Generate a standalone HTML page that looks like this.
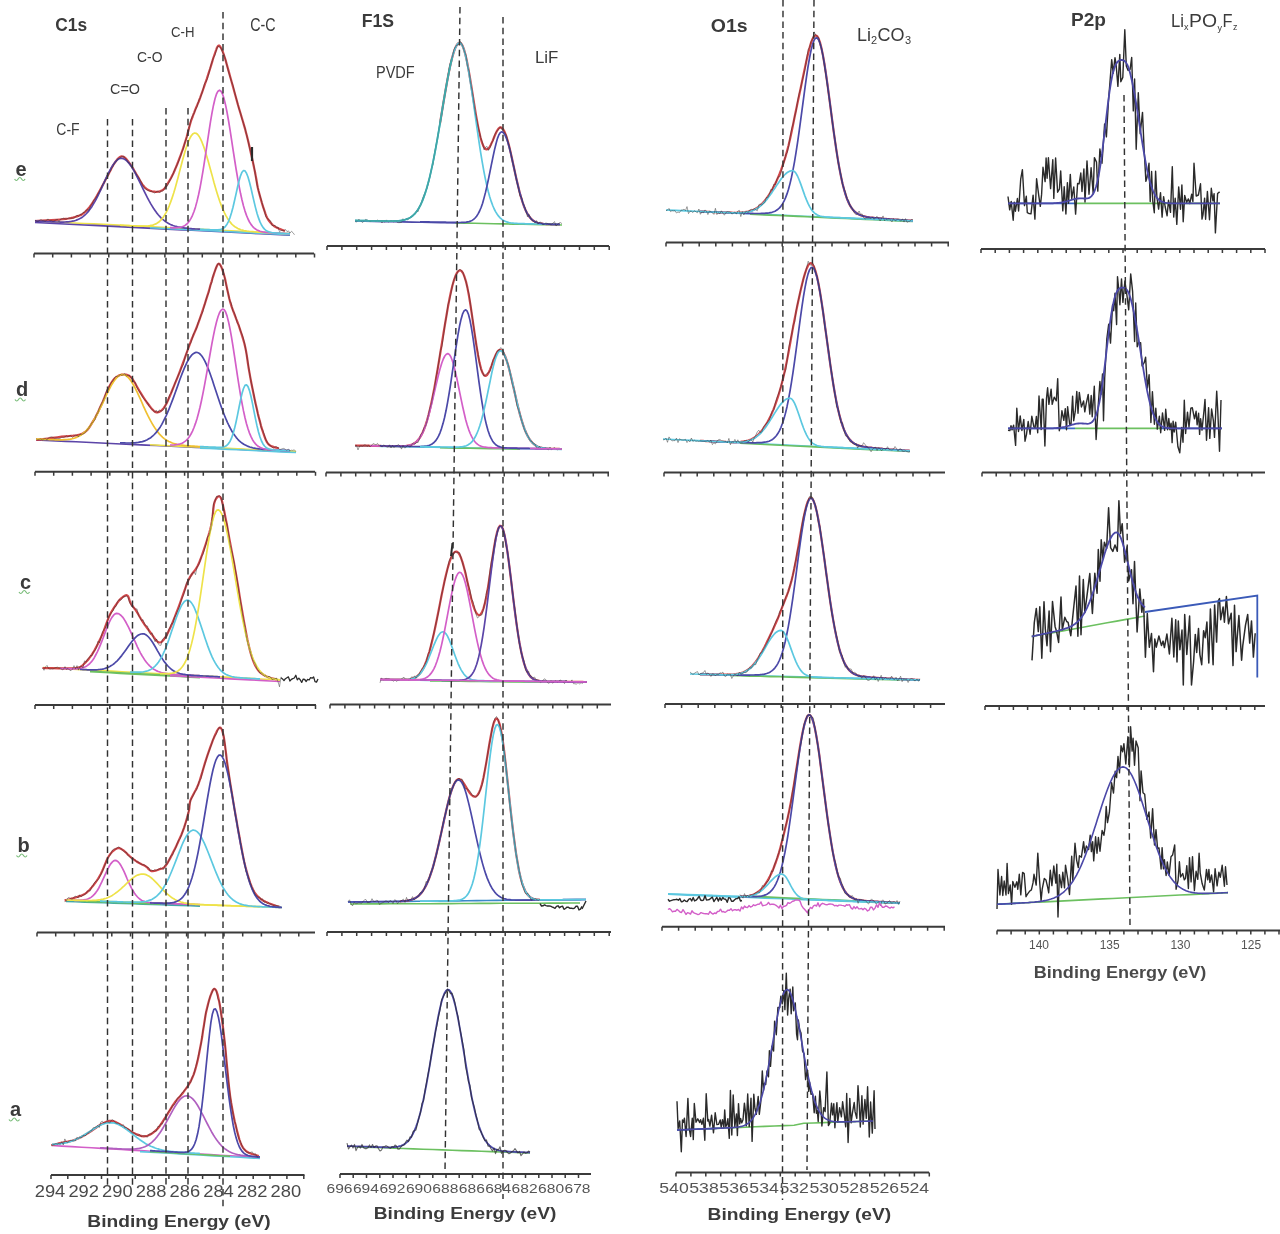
<!DOCTYPE html>
<html><head><meta charset="utf-8"><title>XPS spectra</title>
<style>html,body{margin:0;padding:0;background:#fff;width:1280px;height:1234px;overflow:hidden}
svg{display:block;font-family:"Liberation Sans",sans-serif}</style></head>
<body><svg width="1280" height="1234" viewBox="0 0 1280 1234">
<defs><filter id="soft" x="0" y="0" width="100%" height="100%"><feGaussianBlur stdDeviation="0.55"/></filter></defs>
<rect width="1280" height="1234" fill="#ffffff"/>
<g filter="url(#soft)">
<rect width="1280" height="1234" fill="#ffffff"/>
<line x1="34" y1="253.6" x2="314" y2="253.6" stroke="#3a3a3a" stroke-width="2.0"/>
<path d="M34 253.6v4M52.7 253.6v4M71.4 253.6v4M90.1 253.6v4M108.8 253.6v4M127.5 253.6v4M146.2 253.6v4M164.9 253.6v4M183.6 253.6v4M202.3 253.6v4M221 253.6v4M239.7 253.6v4M258.4 253.6v4M277.1 253.6v4M295.8 253.6v4M314.5 253.6v4" stroke="#3a3a3a" stroke-width="1.5" fill="none"/>
<line x1="35" y1="471.8" x2="315" y2="471.8" stroke="#3a3a3a" stroke-width="2.0"/>
<path d="M35 471.8v4M53.7 471.8v4M72.4 471.8v4M91.1 471.8v4M109.8 471.8v4M128.5 471.8v4M147.2 471.8v4M165.9 471.8v4M184.6 471.8v4M203.3 471.8v4M222 471.8v4M240.7 471.8v4M259.4 471.8v4M278.1 471.8v4M296.8 471.8v4M315.5 471.8v4" stroke="#3a3a3a" stroke-width="1.5" fill="none"/>
<line x1="35" y1="705" x2="316" y2="705" stroke="#3a3a3a" stroke-width="2.0"/>
<path d="M35 705v4M53.7 705v4M72.4 705v4M91.1 705v4M109.8 705v4M128.5 705v4M147.2 705v4M165.9 705v4M184.6 705v4M203.3 705v4M222 705v4M240.7 705v4M259.4 705v4M278.1 705v4M296.8 705v4M315.5 705v4" stroke="#3a3a3a" stroke-width="1.5" fill="none"/>
<line x1="37" y1="932.5" x2="315" y2="932.5" stroke="#3a3a3a" stroke-width="2.0"/>
<path d="M37 932.5v4M55.7 932.5v4M74.4 932.5v4M93.1 932.5v4M111.8 932.5v4M130.5 932.5v4M149.2 932.5v4M167.9 932.5v4M186.6 932.5v4M205.3 932.5v4M224 932.5v4M242.7 932.5v4M261.4 932.5v4M280.1 932.5v4M298.8 932.5v4" stroke="#3a3a3a" stroke-width="1.5" fill="none"/>
<line x1="51" y1="1175" x2="304.5" y2="1175" stroke="#3a3a3a" stroke-width="2.0"/>
<path d="M51 1175v4M67.8 1175v4M84.7 1175v4M101.5 1175v4M118.4 1175v4M135.2 1175v4M152.1 1175v4M168.9 1175v4M185.8 1175v4M202.6 1175v4M219.5 1175v4M236.3 1175v4M253.2 1175v4M270 1175v4M286.9 1175v4M303.8 1175v4" stroke="#3a3a3a" stroke-width="1.5" fill="none"/>
<line x1="327" y1="246" x2="609" y2="246" stroke="#3a3a3a" stroke-width="2.0"/>
<path d="M327 246v4M341.9 246v4M356.7 246v4M371.6 246v4M386.4 246v4M401.3 246v4M416.1 246v4M431 246v4M445.8 246v4M460.7 246v4M475.5 246v4M490.4 246v4M505.2 246v4M520.1 246v4M534.9 246v4M549.8 246v4M564.6 246v4M579.5 246v4M594.3 246v4M609.2 246v4" stroke="#3a3a3a" stroke-width="1.5" fill="none"/>
<line x1="326" y1="472.5" x2="609" y2="472.5" stroke="#3a3a3a" stroke-width="2.0"/>
<path d="M326 472.5v4M340.9 472.5v4M355.7 472.5v4M370.6 472.5v4M385.4 472.5v4M400.3 472.5v4M415.1 472.5v4M430 472.5v4M444.8 472.5v4M459.7 472.5v4M474.5 472.5v4M489.4 472.5v4M504.2 472.5v4M519.1 472.5v4M533.9 472.5v4M548.8 472.5v4M563.6 472.5v4M578.5 472.5v4M593.3 472.5v4M608.2 472.5v4" stroke="#3a3a3a" stroke-width="1.5" fill="none"/>
<line x1="330" y1="704.5" x2="611" y2="704.5" stroke="#3a3a3a" stroke-width="2.0"/>
<path d="M330 704.5v4M344.9 704.5v4M359.7 704.5v4M374.6 704.5v4M389.4 704.5v4M404.3 704.5v4M419.1 704.5v4M434 704.5v4M448.8 704.5v4M463.7 704.5v4M478.5 704.5v4M493.4 704.5v4M508.2 704.5v4M523.1 704.5v4M537.9 704.5v4M552.8 704.5v4M567.6 704.5v4M582.5 704.5v4M597.3 704.5v4" stroke="#3a3a3a" stroke-width="1.5" fill="none"/>
<line x1="327" y1="932" x2="611" y2="932" stroke="#3a3a3a" stroke-width="2.0"/>
<path d="M327 932v4M341.9 932v4M356.7 932v4M371.6 932v4M386.4 932v4M401.3 932v4M416.1 932v4M431 932v4M445.8 932v4M460.7 932v4M475.5 932v4M490.4 932v4M505.2 932v4M520.1 932v4M534.9 932v4M549.8 932v4M564.6 932v4M579.5 932v4M594.3 932v4M609.2 932v4" stroke="#3a3a3a" stroke-width="1.5" fill="none"/>
<line x1="340" y1="1174" x2="591" y2="1174" stroke="#3a3a3a" stroke-width="2.0"/>
<path d="M340 1174v4M353.2 1174v4M366.5 1174v4M379.8 1174v4M393 1174v4M406.2 1174v4M419.5 1174v4M432.8 1174v4M446 1174v4M459.2 1174v4M472.5 1174v4M485.8 1174v4M499 1174v4M512.2 1174v4M525.5 1174v4M538.8 1174v4M552 1174v4M565.2 1174v4M578.5 1174v4" stroke="#3a3a3a" stroke-width="1.5" fill="none"/>
<line x1="666" y1="242.5" x2="949" y2="242.5" stroke="#3a3a3a" stroke-width="2.0"/>
<path d="M666 242.5v4M682.6 242.5v4M699.2 242.5v4M715.8 242.5v4M732.4 242.5v4M749 242.5v4M765.6 242.5v4M782.2 242.5v4M798.8 242.5v4M815.4 242.5v4M832 242.5v4M848.6 242.5v4M865.2 242.5v4M881.8 242.5v4M898.4 242.5v4M915 242.5v4M931.6 242.5v4M948.2 242.5v4" stroke="#3a3a3a" stroke-width="1.5" fill="none"/>
<line x1="664" y1="472.5" x2="945" y2="472.5" stroke="#3a3a3a" stroke-width="2.0"/>
<path d="M664 472.5v4M680.6 472.5v4M697.2 472.5v4M713.8 472.5v4M730.4 472.5v4M747 472.5v4M763.6 472.5v4M780.2 472.5v4M796.8 472.5v4M813.4 472.5v4M830 472.5v4M846.6 472.5v4M863.2 472.5v4M879.8 472.5v4M896.4 472.5v4M913 472.5v4M929.6 472.5v4" stroke="#3a3a3a" stroke-width="1.5" fill="none"/>
<line x1="665" y1="704" x2="945" y2="704" stroke="#3a3a3a" stroke-width="2.0"/>
<path d="M665 704v4M681.6 704v4M698.2 704v4M714.8 704v4M731.4 704v4M748 704v4M764.6 704v4M781.2 704v4M797.8 704v4M814.4 704v4M831 704v4M847.6 704v4M864.2 704v4M880.8 704v4M897.4 704v4M914 704v4M930.6 704v4" stroke="#3a3a3a" stroke-width="1.5" fill="none"/>
<line x1="662" y1="926.8" x2="945" y2="926.8" stroke="#3a3a3a" stroke-width="2.0"/>
<path d="M662 926.8v4M678.6 926.8v4M695.2 926.8v4M711.8 926.8v4M728.4 926.8v4M745 926.8v4M761.6 926.8v4M778.2 926.8v4M794.8 926.8v4M811.4 926.8v4M828 926.8v4M844.6 926.8v4M861.2 926.8v4M877.8 926.8v4M894.4 926.8v4M911 926.8v4M927.6 926.8v4M944.2 926.8v4" stroke="#3a3a3a" stroke-width="1.5" fill="none"/>
<line x1="676" y1="1172.5" x2="929" y2="1172.5" stroke="#3a3a3a" stroke-width="2.0"/>
<path d="M676 1172.5v4M690.9 1172.5v4M705.8 1172.5v4M720.7 1172.5v4M735.6 1172.5v4M750.5 1172.5v4M765.4 1172.5v4M780.3 1172.5v4M795.2 1172.5v4M810.1 1172.5v4M825 1172.5v4M839.9 1172.5v4M854.8 1172.5v4M869.7 1172.5v4M884.6 1172.5v4M899.5 1172.5v4M914.4 1172.5v4M929.3 1172.5v4" stroke="#3a3a3a" stroke-width="1.5" fill="none"/>
<line x1="981" y1="249" x2="1265" y2="249" stroke="#3a3a3a" stroke-width="2.0"/>
<path d="M981 249v4M995.2 249v4M1009.4 249v4M1023.6 249v4M1037.8 249v4M1052 249v4M1066.2 249v4M1080.4 249v4M1094.6 249v4M1108.8 249v4M1123 249v4M1137.2 249v4M1151.4 249v4M1165.6 249v4M1179.8 249v4M1194 249v4M1208.2 249v4M1222.4 249v4M1236.6 249v4M1250.8 249v4M1265 249v4" stroke="#3a3a3a" stroke-width="1.5" fill="none"/>
<line x1="982" y1="472.5" x2="1265" y2="472.5" stroke="#3a3a3a" stroke-width="2.0"/>
<path d="M982 472.5v4M996.2 472.5v4M1010.4 472.5v4M1024.6 472.5v4M1038.8 472.5v4M1053 472.5v4M1067.2 472.5v4M1081.4 472.5v4M1095.6 472.5v4M1109.8 472.5v4M1124 472.5v4M1138.2 472.5v4M1152.4 472.5v4M1166.6 472.5v4M1180.8 472.5v4M1195 472.5v4M1209.2 472.5v4M1223.4 472.5v4M1237.6 472.5v4M1251.8 472.5v4" stroke="#3a3a3a" stroke-width="1.5" fill="none"/>
<line x1="985" y1="706" x2="1265" y2="706" stroke="#3a3a3a" stroke-width="2.0"/>
<path d="M985 706v4M999.2 706v4M1013.4 706v4M1027.6 706v4M1041.8 706v4M1056 706v4M1070.2 706v4M1084.4 706v4M1098.6 706v4M1112.8 706v4M1127 706v4M1141.2 706v4M1155.4 706v4M1169.6 706v4M1183.8 706v4M1198 706v4M1212.2 706v4M1226.4 706v4M1240.6 706v4M1254.8 706v4" stroke="#3a3a3a" stroke-width="1.5" fill="none"/>
<line x1="997" y1="930.5" x2="1280" y2="930.5" stroke="#3a3a3a" stroke-width="2.0"/>
<path d="M997 930.5v4M1011.1 930.5v4M1025.2 930.5v4M1039.3 930.5v4M1053.4 930.5v4M1067.5 930.5v4M1081.6 930.5v4M1095.7 930.5v4M1109.8 930.5v4M1123.9 930.5v4M1138 930.5v4M1152.1 930.5v4M1166.2 930.5v4M1180.3 930.5v4M1194.4 930.5v4M1208.5 930.5v4M1222.6 930.5v4M1236.7 930.5v4M1250.8 930.5v4M1264.9 930.5v4M1279 930.5v4" stroke="#3a3a3a" stroke-width="1.5" fill="none"/>
<polyline points="35,221 44.8,221.5 54.6,222 64.4,222.5 74.2,223 84,223.5 93.8,223.9 103.7,224.4 113.5,224.9 123.3,225.4 133.1,225.9 142.9,226.4 152.7,226.9 162.5,227.4 172.3,227.9 182.1,228.4 191.9,228.8 201.7,229.3 211.5,229.8 221.3,230.3 231.2,230.8 241,231.3 250.8,231.8 260.6,232.3 270.4,232.8 280.2,233.3 290,233.8" fill="none" stroke="#eee24a" stroke-width="1.6" stroke-linejoin="round"/>
<polyline points="35,222.5 44.8,223 54.6,223.5 64.4,224 74.2,224.5 84,225 93.8,225.4 103.7,225.9 113.5,226.4 123.3,226.9 133.1,227.4 142.9,227.9 152.7,228.4 162.5,228.9 172.3,229.4 182.1,229.9 191.9,230.3 201.7,230.8 211.5,231.3 221.3,231.8 231.2,232.3 241,232.8 250.8,233.3 260.6,233.8 270.4,234.3 280.2,234.8 290,235.2" fill="none" stroke="#5b45a8" stroke-width="1.6" stroke-linejoin="round"/>
<polyline points="150,227.8 160,228.2 170,228.8 180,229.2 190,229.8 200,230.2 210,230.8 220,231.2 230,231.8 240,232.2 250,232.8 260,233.2 270,233.8 280,234.2 290,234.8" fill="none" stroke="#5cc8e0" stroke-width="1.6" stroke-linejoin="round"/>
<polyline points="35,221 37.8,220.8 41.9,220.6 46.6,220.4 51.5,220.1 56.1,219.8 60,219.5 63.1,219.2 65.9,218.8 68.4,218.5 70.7,218.1 72.9,217.6 75,217 77,216.4 78.7,215.8 80.3,215.2 81.9,214.4 83.4,213.3 85,212 86.6,210.4 88.3,208.6 89.9,206.6 91.5,204.3 93.2,201.8 95,199 96.9,195.8 99,192 101.2,188 103.3,184 105.3,180.2 107,177 108.5,174.2 109.7,171.8 110.9,169.6 111.9,167.6 112.9,165.7 114,164 115.1,162.4 116.1,160.9 117.1,159.6 118.1,158.5 119.1,157.6 120,157 120.9,156.6 121.7,156.4 122.6,156.5 123.4,156.7 124.3,157.2 125.3,158 126.4,159.1 127.6,160.6 128.9,162.4 130.2,164.2 131.4,166 132.5,167.7 133.5,169.2 134.4,170.7 135.3,172.2 136.1,173.7 136.9,175.1 137.8,176.6 138.7,178.1 139.6,179.8 140.5,181.4 141.4,182.9 142.3,184.4 143.2,185.6 144.1,186.6 144.9,187.5 145.7,188.2 146.6,188.9 147.5,189.5 148.5,190 149.6,190.5 150.7,190.9 151.9,191.3 153.2,191.6 154.4,191.7 155.6,191.8 156.8,191.8 158.1,191.7 159.3,191.5 160.5,191.1 161.7,190.6 162.8,190 163.8,189.2 164.7,188.2 165.5,187 166.3,185.7 167.1,184.4 168,183 168.9,181.6 169.8,180.2 170.6,178.7 171.5,177 172.5,175.1 173.5,173 174.6,170.5 175.8,167.6 177.1,164.5 178.3,161.4 179.5,158.2 180.6,155.3 181.6,152.5 182.6,149.8 183.5,147.2 184.3,144.5 185.2,141.9 186,139.2 186.8,136.5 187.5,133.7 188.3,130.9 189,128.1 189.7,125.5 190.4,123 191.1,120.7 191.9,118.6 192.7,116.5 193.4,114.5 194.2,112.6 194.9,110.7 195.6,108.9 196.3,107.2 197,105.6 197.7,103.9 198.5,102.1 199.3,100 200.2,97.6 201.1,95 202.1,92.3 203.1,89.5 204.1,86.7 205,84 205.9,81.4 206.8,78.9 207.6,76.3 208.4,73.8 209.2,71.4 210,69 210.7,66.7 211.4,64.4 212.1,62.2 212.7,60 213.3,58 214,56 214.7,54 215.4,52 216.1,50.1 216.7,48.3 217.4,46.9 218,46 218.6,45.6 219.1,45.5 219.5,45.8 220,46.4 220.5,47.1 221,48 221.5,48.9 222,49.9 222.6,51.1 223.1,52.6 223.8,54.6 224.6,57 225.6,60.1 226.6,63.9 227.8,68.1 229,72.4 230.2,76.8 231.4,81 232.5,85 233.6,89 234.7,93 235.8,97 236.9,101 238,105 239.2,109 240.4,113 241.6,117 242.8,121 243.9,124.9 245,128.6 245.9,132.2 246.8,135.5 247.6,138.8 248.4,142.1 249.2,145.5 250,149 250.8,152.7 251.7,156.6 252.6,160.6 253.4,164.5 254.2,168.4 255,172 255.6,175.4 256.2,178.5 256.7,181.5 257.2,184.5 257.8,187.7 258.6,191 259.6,194.7 260.7,198.8 261.9,203 263.2,207.1 264.4,210.7 265.4,213.7 266.3,216 267.1,217.7 267.8,219 268.5,220 269.2,221 270,222 270.8,223 271.7,223.9 272.5,224.8 273.4,225.5 274.4,226.3 275.6,227 277.1,227.8 278.8,228.6 280.7,229.3 282.4,230 283.9,230.6 285,231" fill="none" stroke="#d03c40" stroke-width="2.2" stroke-opacity="0.95" stroke-linejoin="round"/>
<polyline points="35,221 36.5,221.1 38,221.1 39.5,221.2 41,221.3 42.5,221.4 44,221.4 45.5,221.5 47,221.6 48.5,221.7 50,221.7 51.5,221.8 53,221.9 54.5,221.9 56,222 57.5,222 59,222 60.5,222.1 62,222.1 63.5,222.1 65,222 66.5,221.9 68,221.8 69.5,221.7 71,221.5 72.5,221.2 74,220.9 75.5,220.5 77,219.9 78.5,219.3 80,218.6 81.5,217.7 83,216.6 84.5,215.4 86,214 87.5,212.4 89,210.6 90.5,208.6 92,206.4 93.5,203.9 95,201.3 96.5,198.5 98,195.6 99.5,192.5 101,189.3 102.5,186 104,182.7 105.5,179.4 107,176.2 108.5,173.1 110,170.1 111.5,167.4 113,165 114.5,162.9 116,161.1 117.5,159.8 119,158.8 120.5,158.4 122,158.4 123.5,158.8 125,159.5 126.5,160.6 128,162.1 129.5,163.9 131,165.9 132.5,168.3 134,170.8 135.5,173.6 137,176.5 138.5,179.5 140,182.6 141.5,185.7 143,188.8 144.5,191.9 146,194.9 147.5,197.8 149,200.7 150.5,203.4 152,205.9 153.5,208.3 155,210.5 156.5,212.6 158,214.5 159.5,216.2 161,217.8 162.5,219.2 164,220.4 165.5,221.6 167,222.6 168.5,223.4 170,224.2 171.5,224.9 173,225.5 174.5,226 176,226.4 177.5,226.8 179,227.1 180.5,227.4 182,227.7 183.5,227.9 185,228.1 186.5,228.2 188,228.4 189.5,228.5 191,228.6 192.5,228.8 194,228.9 195.5,229 197,229 198.5,229.1 200,229.2" fill="none" stroke="#5b45a8" stroke-width="1.7" stroke-linejoin="round"/>
<polyline points="120,225.2 121.5,225.3 123,225.4 124.5,225.5 126,225.5 127.5,225.6 128.9,225.7 130.4,225.8 131.9,225.8 133.4,225.9 134.9,226 136.4,226 137.9,226.1 139.4,226.1 140.9,226.2 142.4,226.2 143.9,226.2 145.4,226.1 146.8,226 148.3,225.9 149.8,225.7 151.3,225.4 152.8,225.1 154.3,224.5 155.8,223.9 157.3,223 158.8,222 160.3,220.7 161.8,219.1 163.2,217.2 164.7,214.9 166.2,212.3 167.7,209.3 169.2,205.8 170.7,201.9 172.2,197.6 173.7,193 175.2,187.9 176.7,182.6 178.2,177 179.6,171.4 181.1,165.7 182.6,160 184.1,154.7 185.6,149.6 187.1,145 188.6,141 190.1,137.8 191.6,135.3 193.1,133.7 194.6,133 196.1,133.3 197.5,134.3 199,136.2 200.5,138.8 202,142.2 203.5,146.1 205,150.5 206.5,155.4 208,160.6 209.5,166 211,171.4 212.5,176.9 213.9,182.3 215.4,187.6 216.9,192.6 218.4,197.3 219.9,201.7 221.4,205.7 222.9,209.4 224.4,212.7 225.9,215.6 227.4,218.2 228.9,220.5 230.4,222.4 231.8,224.1 233.3,225.5 234.8,226.7 236.3,227.6 237.8,228.5 239.3,229.1 240.8,229.7 242.3,230.1 243.8,230.5 245.3,230.8 246.8,231.1 248.2,231.3 249.7,231.5 251.2,231.6 252.7,231.7 254.2,231.9 255.7,232 257.2,232.1 258.7,232.1 260.2,232.2 261.7,232.3 263.2,232.4 264.6,232.5 266.1,232.6 267.6,232.6 269.1,232.7 270.6,232.8 272.1,232.9 273.6,232.9 275.1,233 276.6,233.1 278.1,233.2 279.6,233.2 281.1,233.3 282.5,233.4 284,233.5 285.5,233.5 287,233.6 288.5,233.7 290,233.7" fill="none" stroke="#eee24a" stroke-width="1.7" stroke-linejoin="round"/>
<polyline points="170,227.7 171.5,227.7 173,227.8 174.5,227.8 176,227.7 177.5,227.6 179,227.5 180.5,227.2 182,226.8 183.5,226.2 185,225.4 186.5,224.3 188,222.8 189.5,220.9 191,218.4 192.5,215.3 194,211.5 195.5,206.9 197,201.4 198.5,195 200,187.8 201.5,179.7 203,170.8 204.5,161.3 206,151.4 207.5,141.3 209,131.3 210.5,121.7 212,112.9 213.5,105.2 215,98.8 216.5,94 218,91.2 219.5,90.2 221,91.2 222.5,94.1 224,98.6 225.5,104.7 227,112.1 228.5,120.5 230,129.7 231.5,139.4 233,149.3 234.5,159 236,168.5 237.5,177.4 239,185.7 240.5,193.3 242,200 243.5,206 245,211.1 246.5,215.4 248,219 249.5,222 251,224.4 252.5,226.3 254,227.8 255.5,229 257,229.9 258.5,230.6 260,231.2 261.5,231.6 263,231.9 264.5,232.1 266,232.3 267.5,232.5 269,232.6 270.5,232.7 272,232.8 273.5,232.9 275,233 276.5,233.1 278,233.1 279.5,233.2 281,233.3 282.5,233.4 284,233.4 285.5,233.5 287,233.6 288.5,233.7 290,233.7" fill="none" stroke="#d35fc8" stroke-width="1.7" stroke-linejoin="round"/>
<polyline points="200,229.2 201.5,229.3 203,229.4 204.5,229.5 206,229.5 207.5,229.6 209,229.7 210.5,229.8 212,229.8 213.5,229.9 215,229.9 216.5,229.9 218,229.8 219.5,229.7 221,229.3 222.5,228.7 224,227.8 225.5,226.3 227,224.2 228.5,221.3 230,217.6 231.5,212.8 233,207.2 234.5,200.8 236,194.1 237.5,187.3 239,181 240.5,175.8 242,172.2 243.5,170.5 245,170.9 246.5,173.2 248,177 249.5,182.2 251,188.3 252.5,194.9 254,201.4 255.5,207.6 257,213.2 258.5,217.9 260,221.9 261.5,225 263,227.4 264.5,229.1 266,230.4 267.5,231.3 269,231.9 270.5,232.3 272,232.6 273.5,232.8 275,232.9 276.5,233 278,233.1 279.5,233.2 281,233.3 282.5,233.4 284,233.4 285.5,233.5 287,233.6 288.5,233.7 290,233.7" fill="none" stroke="#5cc8e0" stroke-width="1.7" stroke-linejoin="round"/>
<polyline points="35,220 36.5,221.2 38,221.6 39.5,220.4 41,219.6 42.5,220.6 44,220.9 45.5,221.3 47,219.4 48.5,219.3 50,220.8 51.5,220.5 53,221.3 54.5,220.7 56,219.8 57.5,219.5 59,221.7 60.5,219.2 62,218.7 63.5,218.2 65,219 66.5,218.9 68,218.3 69.5,218.2 71,218.2 72.5,218.2 74,218.2 75.5,217 77,215 78.5,216.4 80,214.2 81.5,214.4 83,212.4 84.5,212.4 86,210.4 87.5,209.6 89,210.3 90.5,205.7 92,204.3 93.5,200.3 95,198.8 96.5,197 98,193.8 99.5,191.4 101,188.4 102.5,184.7 104,183.1 105.5,179.2 107,178.5 108.5,173.8 110,171.8 111.5,168.4 113,166.4 114.5,162.8 116,161.9 117.5,159.1 119,158.7 120.5,157.3 122,156.5 123.5,156.1 125,158.4 126.5,159.6 128,162.4 129.5,162.9 131,165.9 132.5,168.1 134,170.3 135.5,172.8 137,175.4 138.5,177.3 140,179.7 141.5,182.8 143,185.8 144.5,188.3 146,189.2 147.5,190.3 149,190.9 150.5,191.4 152,191.5 153.5,192.2 155,193.2 156.5,191.5 158,191.1 159.5,193 161,191.1 162.5,191 164,189.6 165.5,186.1 167,186.6 168.5,183.6 170,179.9 171.5,177.7 173,174.2 174.5,170 176,167.1 177.5,163.7 179,160.4 180.5,156.1 182,151.5 183.5,148.1 185,141.8 186.5,138.1 188,132.8 189.5,125.9 191,119.7 192.5,116.2 194,113.2 195.5,109.6 197,106.9 198.5,101.2 200,98.1 201.5,94.5 203,89.6 204.5,83.6 206,81.7 207.5,78.5 209,72.9 210.5,66.7 212,62.1 213.5,57.7 215,55.1 216.5,49.4 218,46.1 219.5,47 221,47.9 222.5,52.5 224,54.6 225.5,59.6 227,65.7 228.5,71.7 230,76.5 231.5,81.6 233,85.4 234.5,91.8 236,97.4 237.5,102.8 239,108.9 240.5,113.1 242,119 243.5,123.4 245,128.3 246.5,134.4 248,140.7 249.5,147.5 251,153 252.5,160 254,166.1 255.5,175.9 257,184.5 258.5,190.4 260,195.9 261.5,200.6 263,206.6 264.5,211.3 266,217 267.5,218.7 269,220.1 270.5,220.7 272,225.4 273.5,225.7 275,225.3 276.5,227.7 278,227 279.5,231.7 281,230.4 282.5,230.5 284,230.5 285.5,229.5 287,231.6 288.5,230.9 290,233.1 291.5,231.3 293,232.7 294.5,234.8" fill="none" stroke="#2a2a2a" stroke-width="1.0" stroke-opacity="0.45" stroke-linejoin="round"/>
<line x1="252" y1="147" x2="252" y2="161" stroke="#2a2a2a" stroke-width="2.2"/>
<polyline points="36,440 46,440.5 56,440.9 66,441.4 76,441.8 86,442.3 96,442.8 106,443.2 116,443.7 126,444.2 136,444.6 146,445.1 156,445.5 166,446 176,446.5 186,446.9 196,447.4 206,447.8 216,448.3 226,448.8 236,449.2 246,449.7 256,450.2 266,450.6 276,451.1 286,451.5 296,452" fill="none" stroke="#5b45a8" stroke-width="1.6" stroke-linejoin="round"/>
<polyline points="150,444.8 159.7,445.2 169.5,445.7 179.2,446.1 188.9,446.6 198.7,447 208.4,447.5 218.1,447.9 227.9,448.4 237.6,448.8 247.3,449.3 257.1,449.7 266.8,450.2 276.5,450.6 286.3,451.1 296,451.5" fill="none" stroke="#eee24a" stroke-width="1.6" stroke-linejoin="round"/>
<polyline points="200,448.1 209.6,448.5 219.2,449 228.8,449.4 238.4,449.8 248,450.3 257.6,450.7 267.2,451.2 276.8,451.6 286.4,452.1 296,452.5" fill="none" stroke="#5cc8e0" stroke-width="1.6" stroke-linejoin="round"/>
<polyline points="36.3,439.9 39.1,439.6 43,439.1 47.6,438.5 52.5,437.9 57.3,437.3 61.6,436.7 65.5,436.3 69.3,436 73.1,435.7 76.6,435.3 79.8,434.6 82.7,433.5 85.1,432 87.1,430.2 88.8,428.1 90.3,425.8 91.8,423.4 93.3,420.9 94.9,418.3 96.3,415.5 97.8,412.6 99.1,409.6 100.4,406.7 101.7,404 102.9,401.4 104,398.8 105,396.2 106,393.7 107,391.4 108,389.2 109,387.1 110.1,385.1 111.1,383.3 112.1,381.6 113.2,380 114.4,378.7 115.7,377.6 117,376.6 118.5,375.8 119.9,375.1 121.4,374.7 122.8,374.5 124.2,374.5 125.6,374.6 127.1,374.9 128.5,375.5 129.9,376.4 131.3,377.6 132.7,379.3 134.1,381.5 135.5,383.9 136.9,386.5 138.3,389 139.7,391.4 141.1,393.6 142.5,395.8 143.9,398 145.3,400.2 146.7,402.2 148.1,404 149.5,405.8 150.9,407.7 152.3,409.4 153.8,410.8 155.2,411.9 156.6,412.4 158,412.3 159.4,411.9 160.8,411 162.2,409.7 163.6,408.1 165,406.1 166.4,403.7 167.8,400.8 169.2,397.5 170.7,394.1 172.1,390.5 173.5,387.1 174.9,383.7 176.3,380.3 177.7,376.8 179.1,373.3 180.5,369.7 181.9,366 183.3,362.2 184.7,358.3 186.1,354.4 187.5,350.5 188.9,346.6 190.3,342.8 191.7,339.2 193.1,335.8 194.6,332.4 196,329 197.4,325.4 198.8,321.7 200.2,317.7 201.7,313.4 203.1,309 204.6,304.7 205.9,300.4 207.2,296.4 208.4,292.5 209.5,288.7 210.5,285 211.6,281.5 212.5,278.2 213.5,275.3 214.4,272.5 215.3,269.9 216.2,267.5 217.1,265.5 217.9,264.2 218.8,263.7 219.7,264.1 220.5,265.3 221.4,267.1 222.3,269.4 223.2,272.2 224.1,275.3 225.1,279 226,283.4 227,288.3 228.1,293.3 229.2,298.2 230.4,302.7 231.7,306.8 233.2,310.9 234.7,314.8 236.1,318.6 237.6,322.3 238.9,326 240.1,329.6 241.2,333 242.3,336.4 243.3,339.8 244.3,343.3 245.2,347 246,350.9 246.7,354.9 247.3,359 247.9,363.3 248.6,367.8 249.4,372.4 250.3,377.4 251.3,382.7 252.4,388.2 253.5,393.7 254.6,399 255.7,404 256.8,408.7 257.8,413.3 258.9,417.7 260,421.9 261,425.8 262.1,429.3 263.1,432.5 264.1,435.4 265,438 266,440.3 267.1,442.4 268.4,444.1 270,445.5 272,446.4 274,447.1 276,447.6 277.7,448 278.9,448.3" fill="none" stroke="#d03c40" stroke-width="2.2" stroke-opacity="0.95" stroke-linejoin="round"/>
<polyline points="36,439 37.5,439.1 39,439.1 40.5,439.2 42,439.3 43.5,439.3 44.9,439.4 46.4,439.5 47.9,439.5 49.4,439.6 50.9,439.6 52.4,439.7 53.9,439.7 55.4,439.8 56.9,439.8 58.4,439.8 59.9,439.8 61.3,439.8 62.8,439.8 64.3,439.7 65.8,439.6 67.3,439.5 68.8,439.3 70.3,439.1 71.8,438.8 73.3,438.4 74.8,438 76.3,437.4 77.7,436.8 79.2,436.1 80.7,435.2 82.2,434.1 83.7,433 85.2,431.6 86.7,430.1 88.2,428.4 89.7,426.5 91.2,424.4 92.7,422.2 94.1,419.7 95.6,417.1 97.1,414.3 98.6,411.4 100.1,408.4 101.6,405.3 103.1,402.1 104.6,398.9 106.1,395.7 107.6,392.6 109.1,389.6 110.5,386.8 112,384.2 113.5,381.8 115,379.7 116.5,377.9 118,376.4 119.5,375.4 121,374.7 122.5,374.5 124,374.7 125.5,375.3 126.9,376.3 128.4,377.7 129.9,379.5 131.4,381.6 132.9,384 134.4,386.7 135.9,389.6 137.4,392.7 138.9,395.9 140.4,399.1 141.9,402.5 143.3,405.8 144.8,409.1 146.3,412.3 147.8,415.4 149.3,418.3 150.8,421.2 152.3,423.8 153.8,426.3 155.3,428.6 156.8,430.7 158.3,432.6 159.7,434.4 161.2,435.9 162.7,437.3 164.2,438.6 165.7,439.6 167.2,440.6 168.7,441.4 170.2,442.1 171.7,442.8 173.2,443.3 174.7,443.7 176.1,444.1 177.6,444.5 179.1,444.8 180.6,445 182.1,445.2 183.6,445.4 185.1,445.6 186.6,445.7 188.1,445.8 189.6,445.9 191.1,446 192.5,446.1 194,446.2 195.5,446.3 197,446.4 198.5,446.5 200,446.6" fill="none" stroke="#f0c030" stroke-width="1.7" stroke-linejoin="round"/>
<polyline points="120,442.8 121.5,442.9 123,442.9 124.5,442.9 126,443 127.5,443 128.9,443 130.4,443 131.9,442.9 133.4,442.9 134.9,442.8 136.4,442.6 137.9,442.5 139.4,442.2 140.9,441.9 142.4,441.6 143.9,441.1 145.4,440.6 146.8,439.9 148.3,439.1 149.8,438.2 151.3,437.2 152.8,435.9 154.3,434.5 155.8,432.9 157.3,431.1 158.8,429.1 160.3,426.9 161.8,424.4 163.2,421.7 164.7,418.7 166.2,415.6 167.7,412.2 169.2,408.6 170.7,404.8 172.2,400.9 173.7,396.9 175.2,392.7 176.7,388.6 178.2,384.4 179.6,380.3 181.1,376.2 182.6,372.4 184.1,368.7 185.6,365.3 187.1,362.2 188.6,359.5 190.1,357.1 191.6,355.2 193.1,353.8 194.6,352.9 196.1,352.4 197.5,352.5 199,353.2 200.5,354.5 202,356.3 203.5,358.6 205,361.4 206.5,364.6 208,368.1 209.5,372 211,376.2 212.5,380.5 213.9,385 215.4,389.5 216.9,394 218.4,398.5 219.9,402.9 221.4,407.2 222.9,411.3 224.4,415.2 225.9,418.9 227.4,422.3 228.9,425.5 230.4,428.4 231.8,431 233.3,433.5 234.8,435.6 236.3,437.6 237.8,439.3 239.3,440.8 240.8,442.1 242.3,443.2 243.8,444.2 245.3,445.1 246.8,445.8 248.2,446.4 249.7,447 251.2,447.4 252.7,447.8 254.2,448.1 255.7,448.4 257.2,448.6 258.7,448.8 260.2,449 261.7,449.1 263.2,449.3 264.6,449.4 266.1,449.5 267.6,449.6 269.1,449.7 270.6,449.8 272.1,449.9 273.6,449.9 275.1,450 276.6,450.1 278.1,450.2 279.6,450.2 281.1,450.3 282.5,450.4 284,450.4 285.5,450.5 287,450.6 288.5,450.7 290,450.7" fill="none" stroke="#4b48a8" stroke-width="1.7" stroke-linejoin="round"/>
<polyline points="170,445 171.5,445 173,445 174.5,444.9 176,444.7 177.5,444.5 179,444.2 180.5,443.8 182,443.2 183.5,442.4 185,441.4 186.5,440.1 188,438.5 189.5,436.5 191,434 192.5,431.1 194,427.5 195.5,423.4 197,418.7 198.5,413.2 200,407.2 201.5,400.5 203,393.2 204.5,385.4 206,377.1 207.5,368.6 209,360 210.5,351.5 212,343.2 213.5,335.4 215,328.2 216.5,322 218,316.8 219.5,312.8 221,310.3 222.5,309.1 224,309.5 225.5,311.8 227,315.9 228.5,321.7 230,328.9 231.5,337.2 233,346.4 234.5,356.2 236,366.2 237.5,376.1 239,385.7 240.5,394.8 242,403.2 243.5,410.9 245,417.7 246.5,423.7 248,428.8 249.5,433.1 251,436.7 252.5,439.7 254,442 255.5,443.9 257,445.4 258.5,446.5 260,447.3 261.5,448 263,448.5 264.5,448.9 266,449.2 267.5,449.4 269,449.6 270.5,449.7 272,449.8 273.5,449.9 275,450 276.5,450.1 278,450.2 279.5,450.2 281,450.3 282.5,450.4 284,450.4 285.5,450.5 287,450.6 288.5,450.7 290,450.7" fill="none" stroke="#d35fc8" stroke-width="1.7" stroke-linejoin="round"/>
<polyline points="200,446.6 201.5,446.6 203,446.7 204.5,446.8 206,446.8 207.5,446.9 209,447 210.5,447.1 212,447.1 213.5,447.2 215,447.2 216.5,447.3 218,447.3 219.5,447.3 221,447.3 222.5,447.1 224,446.8 225.5,446.2 227,445.2 228.5,443.6 230,441.4 231.5,438.2 233,433.9 234.5,428.6 236,422.2 237.5,415.1 239,407.5 240.5,400.1 242,393.6 243.5,388.5 245,385.4 246.5,384.8 248,386.6 249.5,390.6 251,396.5 252.5,403.6 254,411.3 255.5,418.9 257,425.9 258.5,432 260,437 261.5,441 263,443.9 264.5,446 266,447.5 267.5,448.4 269,449 270.5,449.4 272,449.7 273.5,449.9 275,450 276.5,450.1 278,450.2 279.5,450.2 281,450.3 282.5,450.4 284,450.4 285.5,450.5 287,450.6 288.5,450.7 290,450.7" fill="none" stroke="#5cc8e0" stroke-width="1.7" stroke-linejoin="round"/>
<polyline points="36.3,438.7 37.8,439.9 39.3,439.3 40.8,439 42.3,439.9 43.8,439 45.3,438.6 46.8,440 48.3,438 49.8,437.2 51.3,436.9 52.8,437.4 54.3,438.2 55.8,438.2 57.3,438.2 58.8,438.6 60.3,438.3 61.8,437.2 63.3,437.6 64.8,436.9 66.3,435.8 67.8,436.8 69.3,436.1 70.8,435.7 72.3,437.4 73.8,436.3 75.3,435.1 76.8,435.2 78.3,436.9 79.8,434.4 81.3,434.7 82.8,434 84.3,433 85.8,431.9 87.3,429.6 88.8,427.7 90.3,425.7 91.8,423.1 93.3,421.6 94.8,419.7 96.3,414.9 97.8,413 99.3,408.5 100.8,405.4 102.3,402.5 103.8,399.3 105.3,395.1 106.8,389.7 108.3,389.8 109.8,385.5 111.3,382.4 112.8,381.2 114.3,378.4 115.8,376.3 117.3,376.8 118.8,376 120.3,374.4 121.8,375.3 123.3,374.8 124.8,373.6 126.3,376.2 127.8,375.5 129.3,375.1 130.8,377.5 132.3,378.9 133.8,381.8 135.3,382.5 136.8,387.2 138.3,389.8 139.8,392.2 141.3,394.5 142.8,397.4 144.3,399.3 145.8,401 147.3,402.3 148.8,405.8 150.3,407.7 151.8,409 153.3,410.6 154.8,412.3 156.3,410.3 157.8,412.7 159.3,409.9 160.8,411.2 162.3,410.5 163.8,409.4 165.3,405.3 166.8,403.3 168.3,399.7 169.8,394.4 171.3,393.1 172.8,388.8 174.3,385.3 175.8,380.8 177.3,377.8 178.8,374.1 180.3,371.3 181.8,366.5 183.3,365.1 184.8,357.8 186.3,353.6 187.8,349.6 189.3,344.8 190.8,342.8 192.3,338.3 193.8,333.2 195.3,330.7 196.8,327.9 198.3,321.9 199.8,319.1 201.3,314.4 202.8,312 204.3,305.9 205.8,300.5 207.3,295.7 208.8,292.7 210.3,285.5 211.8,282.5 213.3,274.6 214.8,271.4 216.3,267.1 217.8,263.8 219.3,263.7 220.8,266.4 222.3,269 223.8,273.2 225.3,281.1 226.8,288.3 228.3,293.7 229.8,300.8 231.3,303.6 232.8,310.8 234.3,312.8 235.8,317.3 237.3,323.3 238.8,324.7 240.3,330.2 241.8,333.9 243.3,338.2 244.8,344.4 246.3,352.9 247.8,361.5 249.3,371.4 250.8,380.5 252.3,387.5 253.8,394.1 255.3,403.4 256.8,409 258.3,416.4 259.8,420.4 261.3,428.1 262.8,430.5 264.3,434.7 265.8,439.6 267.3,442.4 268.8,444.8 270.3,445.3 271.8,447.1 273.3,448.2 274.8,447 276.3,446.7 277.8,447.8 279.3,449.1 280.8,449.4 282.3,448.7 283.8,448.4 285.3,449.3 286.8,450.3 288.3,449.1 289.8,450.9 291.3,450.2 292.8,450.4 294.3,449.8 295.8,451.5" fill="none" stroke="#2a2a2a" stroke-width="1.0" stroke-opacity="0.45" stroke-linejoin="round"/>
<polyline points="43,667.5 52.9,668 62.8,668.5 72.6,669.1 82.5,669.6 92.4,670.1 102.2,670.6 112.1,671.1 122,671.7 131.9,672.2 141.8,672.7 151.6,673.2 161.5,673.8 171.4,674.3 181.2,674.8 191.1,675.3 201,675.8 210.9,676.4 220.8,676.9 230.6,677.4 240.5,677.9 250.4,678.4 260.2,679 270.1,679.5 280,680" fill="none" stroke="#eee24a" stroke-width="1.6" stroke-linejoin="round"/>
<polyline points="90,671.5 100,672 110,672.5 120,673.1 130,673.6 140,674.1 150,674.6 160,675.2 170,675.7 180,676.2 190,676.8 200,677.3" fill="none" stroke="#6cc060" stroke-width="2.2" stroke-linejoin="round"/>
<polyline points="170,675.7 180,676.2 190,676.8 200,677.3 210,677.8 220,678.3 230,678.9 240,679.4 250,679.9 260,680.4 270,681 280,681.5" fill="none" stroke="#d35fc8" stroke-width="1.6" stroke-linejoin="round"/>
<polyline points="42.5,668 46.3,668.1 51.9,668.2 58.3,668.3 64.9,668.3 70.8,668.3 75.3,668 78.2,667.6 80.1,667.1 81.3,666.5 82.3,665.7 83.2,664.7 84.4,663.5 85.9,662.1 87.4,660.5 88.9,658.7 90.4,656.7 91.9,654.6 93.4,652.2 94.9,649.6 96.5,646.6 98.1,643.5 99.6,640.3 101.1,637.1 102.5,634 103.8,630.9 104.9,627.7 106,624.6 107.1,621.5 108.2,618.6 109.3,616 110.4,613.7 111.6,611.5 112.8,609.6 113.9,607.8 115,606.2 116.1,604.6 117.1,603.1 118.1,601.8 119,600.6 119.9,599.6 120.9,598.6 121.8,597.8 122.8,597 123.8,596.3 124.7,595.7 125.7,595.3 126.6,595.2 127.4,595.5 128.1,596.2 128.6,597.4 129.1,598.9 129.6,600.5 130.1,602.1 130.8,603.5 131.6,604.8 132.5,606 133.4,607.2 134.4,608.5 135.5,609.9 136.5,611.4 137.6,613.1 138.7,615 139.8,617 141,619 142.2,620.9 143.3,622.7 144.4,624.3 145.5,625.9 146.6,627.3 147.7,628.8 148.8,630.2 150,631.8 151.3,633.6 152.7,635.6 154.1,637.6 155.5,639.5 156.8,641 158,642 159.1,642.5 160,642.5 160.9,642.3 161.8,641.7 162.7,640.8 163.7,639.7 164.7,638.3 165.8,636.7 166.9,634.8 168,632.6 169.2,630.1 170.5,627.3 171.9,624.1 173.3,620.6 174.9,616.7 176.4,612.7 178,608.6 179.5,604.6 181,600.4 182.5,596 184.1,591.6 185.6,587.3 187.1,583.2 188.6,579.7 190.1,576.8 191.7,574.5 193.2,572.4 194.8,570.5 196.2,568.4 197.6,566 198.9,563.3 200,560.5 201.1,557.6 202.2,554.5 203.3,551.3 204.4,548 205.6,544.5 206.8,540.8 208,537 209.2,533.1 210.3,529.2 211.2,525.3 211.9,521.2 212.5,516.9 213,512.5 213.4,508.4 213.9,504.8 214.6,502 215.4,499.9 216.4,498.2 217.4,497 218.4,496.4 219.4,496.3 220.3,497 221.1,498.5 221.9,500.7 222.6,503.6 223.3,506.9 224.1,510.5 224.8,514 225.5,517.6 226.2,521.3 227,525.2 227.7,529.5 228.5,534 229.4,538.9 230.4,544.2 231.5,550 232.7,556.1 233.9,562.3 235,568.8 236.2,575.2 237.3,581.8 238.5,588.7 239.6,595.8 240.7,602.7 241.9,609.5 243,616 244.1,622.2 245.3,628.4 246.4,634.4 247.5,640 248.7,645.2 249.8,649.9 250.9,653.9 252,657.5 253.1,660.6 254.2,663.3 255.3,665.8 256.6,668 257.9,670 259.3,671.6 260.8,672.9 262.3,674 263.9,675 265.6,676 267.5,676.9 269.6,677.6 271.9,678.2 274,678.7 275.7,679.1 277,679.4" fill="none" stroke="#d03c40" stroke-width="2.2" stroke-opacity="0.95" stroke-linejoin="round"/>
<polyline points="60,668.4 61.5,668.5 63,668.5 64.5,668.6 66,668.7 67.4,668.7 68.9,668.8 70.4,668.9 71.9,668.9 73.4,668.9 74.9,668.9 76.4,668.8 77.9,668.7 79.4,668.5 80.9,668.3 82.3,667.9 83.8,667.4 85.3,666.8 86.8,665.9 88.3,664.8 89.8,663.5 91.3,661.9 92.8,659.9 94.3,657.7 95.7,655 97.2,652.1 98.7,648.9 100.2,645.3 101.7,641.6 103.2,637.7 104.7,633.7 106.2,629.8 107.7,626.1 109.1,622.7 110.6,619.6 112.1,617.1 113.6,615.2 115.1,613.9 116.6,613.4 118.1,613.6 119.6,614.3 121.1,615.5 122.6,617.1 124,619.1 125.5,621.5 127,624.3 128.5,627.2 130,630.4 131.5,633.7 133,637 134.5,640.4 136,643.7 137.4,646.8 138.9,649.9 140.4,652.8 141.9,655.5 143.4,657.9 144.9,660.2 146.4,662.2 147.9,664 149.4,665.6 150.9,667 152.3,668.2 153.8,669.2 155.3,670.1 156.8,670.9 158.3,671.5 159.8,672 161.3,672.5 162.8,672.8 164.3,673.2 165.7,673.4 167.2,673.6 168.7,673.8 170.2,674 171.7,674.1 173.2,674.2 174.7,674.4 176.2,674.5 177.7,674.6 179.1,674.7 180.6,674.7 182.1,674.8 183.6,674.9 185.1,675 186.6,675.1 188.1,675.1 189.6,675.2 191.1,675.3 192.6,675.4 194,675.5 195.5,675.5 197,675.6 198.5,675.7 200,675.8" fill="none" stroke="#d35fc8" stroke-width="1.7" stroke-linejoin="round"/>
<polyline points="80,669.4 81.5,669.5 83,669.6 84.5,669.6 86,669.7 87.4,669.8 88.9,669.8 90.4,669.8 91.9,669.8 93.4,669.8 94.9,669.8 96.4,669.8 97.9,669.7 99.4,669.5 100.9,669.3 102.3,669.1 103.8,668.8 105.3,668.4 106.8,667.8 108.3,667.2 109.8,666.5 111.3,665.6 112.8,664.6 114.3,663.5 115.7,662.2 117.2,660.8 118.7,659.2 120.2,657.4 121.7,655.6 123.2,653.6 124.7,651.6 126.2,649.5 127.7,647.3 129.1,645.2 130.6,643.2 132.1,641.2 133.6,639.4 135.1,637.8 136.6,636.4 138.1,635.3 139.6,634.5 141.1,634 142.6,633.8 144,633.9 145.5,634.5 147,635.6 148.5,637 150,638.7 151.5,640.8 153,643 154.5,645.5 156,648 157.4,650.6 158.9,653.2 160.4,655.7 161.9,658.1 163.4,660.4 164.9,662.4 166.4,664.3 167.9,666 169.4,667.5 170.9,668.9 172.3,670 173.8,670.9 175.3,671.8 176.8,672.4 178.3,673 179.8,673.5 181.3,673.9 182.8,674.2 184.3,674.4 185.7,674.7 187.2,674.8 188.7,675 190.2,675.1 191.7,675.3 193.2,675.4 194.7,675.5 196.2,675.5 197.7,675.6 199.1,675.7 200.6,675.8 202.1,675.9 203.6,676 205.1,676 206.6,676.1 208.1,676.2 209.6,676.3 211.1,676.4 212.6,676.4 214,676.5 215.5,676.6 217,676.7 218.5,676.8 220,676.8" fill="none" stroke="#4b48a8" stroke-width="1.7" stroke-linejoin="round"/>
<polyline points="130,672 131.5,672.1 133,672.1 134.5,672.2 136,672.2 137.5,672.2 139,672.2 140.5,672.1 142,672 143.4,671.8 144.9,671.5 146.4,671.2 147.9,670.7 149.4,670.1 150.9,669.4 152.4,668.4 153.9,667.2 155.4,665.8 156.9,664.1 158.4,662.2 159.9,659.9 161.4,657.3 162.9,654.3 164.4,651.1 165.9,647.5 167.4,643.6 168.9,639.5 170.3,635.2 171.8,630.8 173.3,626.4 174.8,622 176.3,617.7 177.8,613.7 179.3,610.1 180.8,606.9 182.3,604.2 183.8,602.2 185.3,600.8 186.8,600.2 188.3,600.3 189.8,601.1 191.3,602.6 192.8,604.9 194.3,607.7 195.7,611.1 197.2,614.9 198.7,619.1 200.2,623.5 201.7,628 203.2,632.6 204.7,637.2 206.2,641.6 207.7,645.9 209.2,649.9 210.7,653.6 212.2,657.1 213.7,660.1 215.2,662.9 216.7,665.3 218.2,667.5 219.7,669.3 221.1,670.8 222.6,672.2 224.1,673.3 225.6,674.2 227.1,674.9 228.6,675.5 230.1,676 231.6,676.5 233.1,676.8 234.6,677.1 236.1,677.3 237.6,677.5 239.1,677.6 240.6,677.8 242.1,677.9 243.6,678 245.1,678.1 246.6,678.2 248,678.3 249.5,678.4 251,678.5 252.5,678.5 254,678.6 255.5,678.7 257,678.8 258.5,678.9 260,678.9" fill="none" stroke="#5cc8e0" stroke-width="1.7" stroke-linejoin="round"/>
<polyline points="160,673.6 161.5,673.7 163,673.7 164.5,673.7 166,673.7 167.5,673.7 169,673.6 170.5,673.4 172,673.2 173.5,672.9 175,672.4 176.5,671.8 178,670.9 179.5,669.8 181,668.3 182.5,666.5 184,664.3 185.5,661.5 187,658.1 188.5,654.1 190,649.4 191.5,643.9 193,637.6 194.5,630.6 196,622.7 197.5,614.2 199,605 200.5,595.2 202,585 203.5,574.7 205,564.3 206.5,554.2 208,544.5 209.5,535.6 211,527.7 212.5,521 214,515.8 215.5,512.1 217,510.1 218.5,509.8 220,511 221.5,513.4 223,517.1 224.5,521.8 226,527.7 227.5,534.4 229,541.9 230.5,549.9 232,558.5 233.5,567.3 235,576.3 236.5,585.3 238,594.2 239.5,602.8 241,611.1 242.5,618.9 244,626.2 245.5,633 247,639.3 248.5,644.9 250,650 251.5,654.5 253,658.5 254.5,662 256,665 257.5,667.6 259,669.8 260.5,671.6 262,673.2 263.5,674.5 265,675.6 266.5,676.4 268,677.2 269.5,677.7 271,678.2 272.5,678.6 274,678.9 275.5,679.2 277,679.4 278.5,679.6 280,679.8" fill="none" stroke="#eee24a" stroke-width="1.7" stroke-linejoin="round"/>
<polyline points="42.5,667.9 44,670.3 45.5,666.9 47,665.4 48.5,668.5 50,669.1 51.5,668.8 53,669 54.5,668.1 56,667.5 57.5,667.2 59,668.1 60.5,667.9 62,669.9 63.5,669.4 65,666.6 66.5,669.5 68,668.4 69.5,670.1 71,670.7 72.5,669.2 74,665.6 75.5,669.1 77,665.6 78.5,670.1 80,666.3 81.5,666.2 83,667.8 84.5,660.9 86,662.2 87.5,658.9 89,658 90.5,655.5 92,655.6 93.5,651.7 95,650.1 96.5,647.8 98,641.3 99.5,642.9 101,637.1 102.5,631.7 104,629.5 105.5,627.6 107,623.5 108.5,617 110,614.9 111.5,612.3 113,611 114.5,606.9 116,606.4 117.5,601.4 119,599.7 120.5,600.2 122,598.9 123.5,596.6 125,596.7 126.5,595.7 128,597.5 129.5,602.2 131,604.8 132.5,607.5 134,607.5 135.5,609.3 137,608.8 138.5,615.5 140,617.5 141.5,620.8 143,619.6 144.5,623.9 146,625.9 147.5,626 149,632.1 150.5,634.5 152,632.8 153.5,637.7 155,641.7 156.5,639 158,643.7 159.5,645.1 161,645.3 162.5,639.1 164,637.9 165.5,637.7 167,636.6 168.5,629.9 170,627.4 171.5,623.5 173,623.3 174.5,617 176,614.8 177.5,611 179,607.9 180.5,602.7 182,598.3 183.5,595.2 185,589.8 186.5,583 188,580.4 189.5,579.5 191,575.8 192.5,573 194,572 195.5,574.7 197,567.2 198.5,565 200,561.4 201.5,556.3 203,554.2 204.5,549.2 206,544 207.5,536.7 209,535.8 210.5,529.6 212,520.8 213.5,503.8 215,501 216.5,496.3 218,496.4 219.5,495.8 221,497.1 222.5,504.9 224,510.5 225.5,519.5 227,524.2 228.5,533.9 230,544.4 231.5,550.6 233,556.9 234.5,564.6 236,573.3 237.5,582.9 239,593.3 240.5,601.7 242,611.7 243.5,620.2 245,627.3 246.5,637 248,643.5 249.5,648.6 251,654.2 252.5,659.2 254,661.9 255.5,664.2 257,668.9 258.5,670 260,673.3 261.5,672.7 263,674.8 264.5,675.9 266,675.7 267.5,677.3 269,676.3 270.5,677.2 272,679.4 273.5,679 275,678.8 276.5,678.1 278,681.6 279.5,686.8 281,676.8" fill="none" stroke="#2a2a2a" stroke-width="1.0" stroke-opacity="0.45" stroke-linejoin="round"/>
<polyline points="281,677.7 282.5,678.9 284,680.6 285.4,678.7 286.9,677.8 288.4,676.9 289.9,681 291.4,679.4 292.8,678.6 294.3,678 295.8,675.3 297.3,679.9 298.8,678.1 300.2,679.7 301.7,682.4 303.2,679.1 304.7,679.5 306.2,681.5 307.6,679.4 309.1,680 310.6,677.7 312.1,678.2 313.6,676.9 315,681.6 316.5,682.1 318,679" fill="none" stroke="#2a2a2a" stroke-width="1.3" stroke-linejoin="round"/>
<polyline points="66,900 75.8,900.3 85.6,900.7 95.5,901 105.3,901.4 115.1,901.7 124.9,902 134.7,902.4 144.5,902.7 154.4,903.1 164.2,903.4 174,903.8 183.8,904.1 193.6,904.4 203.5,904.8 213.3,905.1 223.1,905.5 232.9,905.8 242.7,906.1 252.5,906.5 262.4,906.8 272.2,907.2 282,907.5" fill="none" stroke="#eee24a" stroke-width="1.6" stroke-linejoin="round"/>
<polyline points="66,901.2 75.6,901.5 85.1,901.9 94.7,902.2 104.3,902.5 113.9,902.9 123.4,903.2 133,903.5 142.6,903.9 152.1,904.2 161.7,904.5 171.3,904.9 180.9,905.2 190.4,905.5 200,905.9" fill="none" stroke="#3fa8a8" stroke-width="2.2" stroke-linejoin="round"/>
<polyline points="80,901.3 90,901.6 100,902 110,902.3 120,902.7 130,903 140,903.4 150,903.7 160,904.1" fill="none" stroke="#6cc060" stroke-width="1.6" stroke-linejoin="round"/>
<polyline points="64.6,900.4 65.8,900.1 67.4,899.7 69.4,899.2 71.5,898.6 73.5,898.1 75.4,897.5 77.1,897 78.8,896.4 80.5,895.9 82.1,895.2 83.7,894.5 85.2,893.6 86.6,892.6 87.9,891.4 89.2,890.2 90.5,888.8 91.7,887.4 93,885.8 94.3,884.1 95.6,882.4 96.9,880.5 98.2,878.5 99.5,876.3 100.8,874 102.1,871.3 103.4,868.2 104.7,865 106,861.8 107.3,858.9 108.6,856.5 109.9,854.5 111.3,852.9 112.6,851.4 113.9,850.3 115.2,849.4 116.4,848.7 117.5,848.3 118.4,848.1 119.3,848.2 120.3,848.5 121.2,849 122.3,849.6 123.5,850.4 124.8,851.5 126.1,852.7 127.4,854.1 128.8,855.3 130.1,856.5 131.4,857.6 132.7,858.6 134,859.6 135.3,860.5 136.6,861.5 137.9,862.3 139.2,863.1 140.6,863.7 141.9,864.4 143.2,865 144.5,865.6 145.7,866.3 146.8,867.1 147.7,868.1 148.7,869.1 149.6,870 150.5,870.7 151.6,871.1 152.8,871.2 154.1,871 155.5,870.6 156.9,870.2 158.2,869.7 159.4,869.2 160.5,868.9 161.4,868.7 162.3,868.5 163.2,868.1 164.1,867.4 165.2,866.3 166.4,864.7 167.6,862.8 168.8,860.6 170.2,858.1 171.6,855.5 173,852.6 174.6,849.4 176.3,845.9 178,842.2 179.7,838.4 181.4,834.7 182.8,831.1 184.1,827.6 185.2,824.2 186.2,820.7 187.2,817.4 188,814.4 188.7,811.6 189.2,809.3 189.4,807.3 189.5,805.6 189.7,803.9 190,802.1 190.6,800 191.6,797.7 192.8,795.4 194.1,793 195.6,790.3 197,787.4 198.4,784.2 199.7,780.5 201,776.3 202.4,771.9 203.7,767.3 205,762.9 206.3,758.8 207.6,754.9 209,750.9 210.3,747.1 211.7,743.4 212.9,740.2 214.1,737.3 215.2,734.8 216.3,732.5 217.2,730.5 218.2,729 219.1,728 219.9,727.6 220.7,727.9 221.3,728.7 222,730 222.6,731.9 223.2,734.3 223.8,737.3 224.4,741 225,745.3 225.6,750.2 226.3,755.5 226.9,761 227.7,766.6 228.6,772.4 229.5,778.6 230.5,785 231.6,791.4 232.6,797.7 233.6,803.8 234.6,809.6 235.6,815.3 236.6,820.9 237.5,826.4 238.5,831.7 239.5,837 240.4,842.2 241.4,847.3 242.3,852.3 243.2,857.1 244.2,861.8 245.3,866.3 246.5,870.7 247.7,875 249,879.2 250.3,883.1 251.7,886.6 253.1,889.7 254.5,892.3 255.9,894.3 257.4,896.1 259,897.6 260.8,899 262.9,900.4 265.6,901.8 268.8,903.2 272.3,904.5 275.6,905.7 278.5,906.6 280.5,907.3" fill="none" stroke="#d03c40" stroke-width="2.2" stroke-opacity="0.95" stroke-linejoin="round"/>
<polyline points="66,900 67.5,900 69,900.1 70.5,900.1 72,900.2 73.4,900.2 74.9,900.3 76.4,900.3 77.9,900.3 79.4,900.3 80.9,900.2 82.4,900.1 83.9,899.9 85.4,899.7 86.8,899.3 88.3,898.8 89.8,898.1 91.3,897.1 92.8,895.9 94.3,894.4 95.8,892.6 97.3,890.5 98.8,888 100.2,885.2 101.7,882.2 103.2,878.9 104.7,875.6 106.2,872.3 107.7,869.1 109.2,866.3 110.7,863.9 112.2,862.1 113.6,860.9 115.1,860.4 116.6,860.7 118.1,861.7 119.6,863.5 121.1,865.8 122.6,868.6 124.1,871.7 125.6,875.1 127,878.5 128.5,881.9 130,885.2 131.5,888.1 133,890.8 134.5,893.2 136,895.3 137.5,897 139,898.4 140.4,899.5 141.9,900.4 143.4,901.1 144.9,901.6 146.4,902 147.9,902.3 149.4,902.5 150.9,902.7 152.4,902.9 153.8,903 155.3,903 156.8,903.1 158.3,903.2 159.8,903.2 161.3,903.3 162.8,903.4 164.3,903.4 165.8,903.5 167.2,903.5 168.7,903.6 170.2,903.6 171.7,903.7 173.2,903.7 174.7,903.8 176.2,903.8 177.7,903.9 179.2,903.9 180.6,904 182.1,904 183.6,904.1 185.1,904.1 186.6,904.2 188.1,904.2 189.6,904.3 191.1,904.3 192.6,904.4 194,904.4 195.5,904.5 197,904.5 198.5,904.6 200,904.7" fill="none" stroke="#d35fc8" stroke-width="1.7" stroke-linejoin="round"/>
<polyline points="66,900 67.5,900 69,900.1 70.5,900.1 72,900.2 73.5,900.2 75,900.3 76.4,900.3 77.9,900.4 79.4,900.4 80.9,900.5 82.4,900.5 83.9,900.5 85.4,900.5 86.9,900.6 88.4,900.5 89.9,900.5 91.4,900.5 92.9,900.4 94.4,900.4 95.8,900.3 97.3,900.1 98.8,899.9 100.3,899.7 101.8,899.4 103.3,899.1 104.8,898.6 106.3,898.2 107.8,897.6 109.3,896.9 110.8,896.2 112.3,895.4 113.8,894.4 115.2,893.4 116.7,892.3 118.2,891.1 119.7,889.9 121.2,888.6 122.7,887.2 124.2,885.8 125.7,884.3 127.2,882.9 128.7,881.5 130.2,880.2 131.7,878.9 133.2,877.8 134.6,876.7 136.1,875.8 137.6,875.1 139.1,874.6 140.6,874.2 142.1,874.1 143.6,874.1 145.1,874.4 146.6,874.9 148.1,875.7 149.6,876.6 151.1,877.7 152.6,879 154,880.4 155.5,881.9 157,883.4 158.5,885 160,886.7 161.5,888.3 163,889.9 164.5,891.4 166,892.8 167.5,894.2 169,895.4 170.5,896.6 172,897.7 173.4,898.6 174.9,899.5 176.4,900.3 177.9,900.9 179.4,901.5 180.9,902 182.4,902.4 183.9,902.8 185.4,903.1 186.9,903.4 188.4,903.6 189.9,903.8 191.4,904 192.8,904.1 194.3,904.2 195.8,904.3 197.3,904.4 198.8,904.5 200.3,904.6 201.8,904.7 203.3,904.7 204.8,904.8 206.3,904.9 207.8,904.9 209.3,905 210.8,905 212.2,905.1 213.7,905.1 215.2,905.2 216.7,905.2 218.2,905.3 219.7,905.3 221.2,905.4 222.7,905.4 224.2,905.5 225.7,905.5 227.2,905.6 228.7,905.6 230.2,905.7 231.6,905.8 233.1,905.8 234.6,905.9 236.1,905.9 237.6,906 239.1,906 240.6,906.1 242.1,906.1 243.6,906.2 245.1,906.2 246.6,906.3 248.1,906.3 249.6,906.4 251,906.4 252.5,906.5 254,906.5 255.5,906.6 257,906.6 258.5,906.7 260,906.7" fill="none" stroke="#eee24a" stroke-width="1.7" stroke-linejoin="round"/>
<polyline points="100,901.2 101.5,901.2 103,901.3 104.5,901.3 106,901.4 107.5,901.4 109,901.5 110.4,901.5 111.9,901.6 113.4,901.6 114.9,901.7 116.4,901.7 117.9,901.8 119.4,901.8 120.9,901.9 122.4,901.9 123.9,902 125.4,902 126.9,902.1 128.3,902.1 129.8,902.2 131.3,902.2 132.8,902.2 134.3,902.2 135.8,902.2 137.3,902.2 138.8,902.1 140.3,902 141.8,901.9 143.3,901.8 144.8,901.5 146.2,901.3 147.7,900.9 149.2,900.4 150.7,899.9 152.2,899.2 153.7,898.3 155.2,897.3 156.7,896.1 158.2,894.7 159.7,893.1 161.2,891.3 162.7,889.2 164.1,886.8 165.6,884.2 167.1,881.4 168.6,878.3 170.1,875 171.6,871.5 173.1,867.8 174.6,864 176.1,860.1 177.6,856.2 179.1,852.4 180.6,848.6 182,845 183.5,841.7 185,838.7 186.5,836 188,833.8 189.5,832.1 191,830.9 192.5,830.2 194,830.2 195.5,830.6 197,831.6 198.5,833.1 200,835.1 201.4,837.5 202.9,840.3 204.4,843.4 205.9,846.9 207.4,850.5 208.9,854.3 210.4,858.1 211.9,862 213.4,865.9 214.9,869.7 216.4,873.3 217.9,876.8 219.3,880.1 220.8,883.2 222.3,886.1 223.8,888.8 225.3,891.1 226.8,893.3 228.3,895.2 229.8,896.9 231.3,898.4 232.8,899.7 234.3,900.8 235.8,901.8 237.2,902.6 238.7,903.3 240.2,903.9 241.7,904.4 243.2,904.8 244.7,905.2 246.2,905.4 247.7,905.7 249.2,905.9 250.7,906 252.2,906.2 253.7,906.3 255.1,906.4 256.6,906.5 258.1,906.6 259.6,906.7 261.1,906.7 262.6,906.8 264.1,906.9 265.6,906.9 267.1,907 268.6,907 270.1,907.1 271.6,907.1 273,907.2 274.5,907.2 276,907.3 277.5,907.3 279,907.4 280.5,907.4 282,907.5" fill="none" stroke="#5cc8e0" stroke-width="1.7" stroke-linejoin="round"/>
<polyline points="150,902.9 151.5,903 153,903 154.5,903.1 156,903.1 157.5,903.2 159,903.2 160.5,903.2 162,903.2 163.5,903.3 165,903.3 166.5,903.2 168,903.2 169.5,903.1 171,902.9 172.5,902.7 174,902.4 175.5,901.9 177,901.3 178.5,900.6 180,899.6 181.5,898.3 183,896.8 184.5,894.8 186,892.5 187.5,889.6 189,886.3 190.5,882.3 192,877.7 193.5,872.5 195,866.6 196.5,860 198,852.8 199.5,845 201,836.7 202.5,828 204,819 205.5,810 207,801 208.5,792.3 210,784 211.5,776.5 213,769.8 214.5,764.2 216,759.8 217.5,756.8 219,755.2 220.5,755.1 222,756.4 223.5,759.1 225,763 226.5,768.2 228,774.4 229.5,781.5 231,789.3 232.5,797.7 234,806.4 235.5,815.3 237,824.1 238.5,832.8 240,841.2 241.5,849.1 243,856.6 244.5,863.5 246,869.8 247.5,875.5 249,880.5 250.5,885 252,888.8 253.5,892.2 255,895 256.5,897.4 258,899.3 259.5,901 261,902.3 262.5,903.4 264,904.2 265.5,904.9 267,905.5 268.5,905.9 270,906.3 271.5,906.5 273,906.8 274.5,906.9 276,907.1 277.5,907.2 279,907.3 280.5,907.4 282,907.5" fill="none" stroke="#4b48a8" stroke-width="1.7" stroke-linejoin="round"/>
<polyline points="64.6,901.6 66.1,901 67.6,898.3 69.1,897.3 70.6,898.8 72.1,899.2 73.6,897.9 75.1,896.1 76.6,896.6 78.1,898.1 79.6,894.8 81.1,896.7 82.6,895.5 84.1,894.7 85.6,894.1 87.1,891.6 88.6,890.7 90.1,891.1 91.6,887.1 93.1,885.3 94.6,882.3 96.1,881.2 97.6,880.2 99.1,878.3 100.6,875 102.1,871.9 103.6,868.3 105.1,864.3 106.6,861.4 108.1,857.2 109.6,856.1 111.1,853 112.6,849.9 114.1,848.9 115.6,849 117.1,847.9 118.6,846.9 120.1,847.7 121.6,849.4 123.1,850.5 124.6,852.2 126.1,851.9 127.6,854.6 129.1,856.7 130.6,857.3 132.1,859.9 133.6,858.8 135.1,860.4 136.6,861.6 138.1,862 139.6,863.2 141.1,864.2 142.6,864.6 144.1,864.9 145.6,865.8 147.1,867.4 148.6,867.5 150.1,870.6 151.6,870 153.1,870.9 154.6,869.8 156.1,870.5 157.6,869.5 159.1,869.1 160.6,868.1 162.1,868.7 163.6,869.4 165.1,864.6 166.6,864.9 168.1,862.2 169.6,858.9 171.1,855.1 172.6,854.9 174.1,850.6 175.6,848.3 177.1,843.8 178.6,840.2 180.1,838.7 181.6,834.8 183.1,830 184.6,825.8 186.1,821.8 187.6,815.1 189.1,808.9 190.6,800 192.1,797.6 193.6,794.7 195.1,791.4 196.6,789.6 198.1,784.8 199.6,780.3 201.1,778.4 202.6,770.5 204.1,766.5 205.6,761.5 207.1,756.5 208.6,752.2 210.1,748.4 211.6,744.1 213.1,739.1 214.6,736.2 216.1,734.2 217.6,730.6 219.1,727.5 220.6,727.9 222.1,729.4 223.6,735.1 225.1,745.4 226.6,760 228.1,768.7 229.6,777.2 231.1,788.5 232.6,797.1 234.1,807.5 235.6,816.7 237.1,823.6 238.6,832.3 240.1,839.4 241.6,849.7 243.1,855.8 244.6,863.5 246.1,871.7 247.6,873.8 249.1,879.8 250.6,883.9 252.1,888.1 253.6,891.1 255.1,894.6 256.6,895.7 258.1,897.4 259.6,896.9 261.1,899.6 262.6,898.9 264.1,902.3 265.6,901.8 267.1,903.5 268.6,902.7 270.1,904 271.6,904.4 273.1,905.3 274.6,905.2 276.1,905.2 277.6,905.9 279.1,906.2" fill="none" stroke="#2a2a2a" stroke-width="1.0" stroke-opacity="0.45" stroke-linejoin="round"/>
<polyline points="52,1145.5 61.9,1146.1 71.8,1146.6 81.7,1147.2 91.6,1147.8 101.5,1148.4 111.4,1148.9 121.3,1149.5 131.2,1150.1 141.1,1150.6 151,1151.2 161,1151.8 170.9,1152.4 180.8,1152.9 190.7,1153.5 200.6,1154.1 210.5,1154.6 220.4,1155.2 230.3,1155.8 240.2,1156.4 250.1,1156.9 260,1157.5" fill="none" stroke="#d35fc8" stroke-width="1.6" stroke-linejoin="round"/>
<polyline points="140,1151.6 150,1152.2 160,1152.7 170,1153.3 180,1153.9 190,1154.5 200,1155 210,1155.6 220,1156.2 230,1156.8 240,1157.3 250,1157.9 260,1158.5" fill="none" stroke="#5cc8e0" stroke-width="1.6" stroke-linejoin="round"/>
<polyline points="150,1151.7 160,1152.2 170,1152.8 180,1153.4 190,1154 200,1154.5 210,1155.1 220,1155.7 230,1156.3" fill="none" stroke="#6cc060" stroke-width="1.6" stroke-linejoin="round"/>
<polyline points="51.3,1145.2 52.6,1144.9 54.4,1144.5 56.6,1144 58.9,1143.4 61.1,1142.9 63,1142.5 64.7,1142.2 66.2,1141.9 67.7,1141.7 69.1,1141.4 70.5,1141.1 72,1140.7 73.5,1140.2 74.9,1139.7 76.4,1139.2 77.9,1138.6 79.4,1137.9 81,1137.1 82.7,1136.2 84.5,1135.2 86.3,1134.1 88.2,1133 90,1131.9 91.7,1130.8 93.3,1129.7 94.8,1128.6 96.3,1127.5 97.8,1126.4 99.2,1125.4 100.7,1124.5 102.2,1123.7 103.8,1122.9 105.3,1122.2 106.8,1121.6 108.3,1121.2 109.7,1120.9 111,1120.8 112.2,1121 113.3,1121.2 114.4,1121.6 115.6,1122.1 116.9,1122.7 118.3,1123.4 119.8,1124.2 121.3,1125.2 122.8,1126.2 124.4,1127.2 125.9,1128.1 127.4,1129 128.8,1130 130.2,1131 131.7,1131.9 133.2,1132.8 134.8,1133.5 136.5,1134.2 138.3,1134.9 140.1,1135.6 141.9,1136.1 143.8,1136.3 145.6,1136.2 147.4,1135.7 149.3,1135 151.1,1134 152.9,1132.8 154.7,1131.4 156.4,1129.9 158,1128.2 159.5,1126.3 161,1124.2 162.5,1121.9 163.9,1119.7 165.4,1117.4 166.9,1115.1 168.4,1112.6 169.9,1110.1 171.4,1107.6 172.9,1105.2 174.4,1103 175.9,1101 177.5,1099.1 179,1097.4 180.5,1095.7 182,1094 183.4,1092.2 184.7,1090.4 186,1088.7 187.2,1087 188.4,1085.3 189.5,1083.4 190.6,1081.4 191.6,1079.3 192.5,1077.3 193.4,1075.1 194.3,1072.7 195.1,1070.1 196,1067 196.9,1063.5 197.8,1059.7 198.7,1055.6 199.5,1051.2 200.4,1046.6 201.3,1041.9 202.2,1036.8 203,1031.2 203.9,1025.4 204.8,1019.7 205.7,1014.3 206.7,1009.5 207.8,1005 209,1000.5 210.3,996.3 211.6,992.8 212.8,990.2 213.9,988.9 214.9,988.9 215.8,989.9 216.7,991.8 217.6,994.6 218.4,998.2 219.3,1002.3 220.2,1007.2 221.1,1013 222,1019.6 222.9,1026.7 223.8,1034.2 224.7,1041.9 225.6,1050.3 226.4,1059.5 227.3,1069.1 228.2,1078.6 229.1,1087.7 230.1,1095.8 231.2,1103 232.4,1109.8 233.6,1116 234.8,1121.7 236.1,1127 237.3,1131.7 238.4,1135.9 239.4,1139.5 240.5,1142.6 241.6,1145.2 242.9,1147.6 244.5,1149.7 246.6,1151.5 249.3,1152.9 252.1,1154 254.8,1154.8 257.2,1155.5 258.8,1156" fill="none" stroke="#d03c40" stroke-width="2.2" stroke-opacity="0.95" stroke-linejoin="round"/>
<polyline points="52,1144.3 53.5,1144.3 55,1144.2 56.5,1144.1 58,1144 59.5,1143.9 61,1143.7 62.5,1143.5 64,1143.2 65.5,1142.9 66.9,1142.6 68.4,1142.2 69.9,1141.7 71.4,1141.2 72.9,1140.7 74.4,1140.1 75.9,1139.4 77.4,1138.7 78.9,1138 80.4,1137.2 81.9,1136.3 83.4,1135.4 84.9,1134.5 86.4,1133.6 87.9,1132.6 89.4,1131.7 90.9,1130.7 92.4,1129.7 93.9,1128.8 95.4,1127.9 96.8,1127 98.3,1126.2 99.8,1125.4 101.3,1124.7 102.8,1124.2 104.3,1123.7 105.8,1123.2 107.3,1123 108.8,1122.8 110.3,1122.7 111.8,1122.8 113.3,1122.9 114.8,1123.2 116.3,1123.7 117.8,1124.2 119.3,1124.9 120.8,1125.7 122.3,1126.5 123.8,1127.5 125.3,1128.5 126.7,1129.6 128.2,1130.7 129.7,1131.9 131.2,1133 132.7,1134.2 134.2,1135.4 135.7,1136.6 137.2,1137.8 138.7,1138.9 140.2,1140 141.7,1141 143.2,1142 144.7,1143 146.2,1143.9 147.7,1144.7 149.2,1145.5 150.7,1146.2 152.2,1146.8 153.7,1147.4 155.2,1148 156.6,1148.5 158.1,1148.9 159.6,1149.4 161.1,1149.7 162.6,1150.1 164.1,1150.4 165.6,1150.6 167.1,1150.9 168.6,1151.1 170.1,1151.3 171.6,1151.5 173.1,1151.6 174.6,1151.8 176.1,1151.9 177.6,1152.1 179.1,1152.2 180.6,1152.3 182.1,1152.4 183.6,1152.5 185.1,1152.6 186.5,1152.7 188,1152.8 189.5,1152.9 191,1153 192.5,1153.1 194,1153.2 195.5,1153.3 197,1153.4 198.5,1153.4 200,1153.5" fill="none" stroke="#5cc8e0" stroke-width="1.7" stroke-linejoin="round"/>
<polyline points="100,1147.8 101.5,1147.9 103,1147.9 104.5,1148 106,1148.1 107.5,1148.2 109,1148.3 110.5,1148.4 112,1148.4 113.5,1148.5 115,1148.6 116.4,1148.7 117.9,1148.8 119.4,1148.8 120.9,1148.9 122.4,1149 123.9,1149 125.4,1149.1 126.9,1149.1 128.4,1149.1 129.9,1149.1 131.4,1149.1 132.9,1149 134.4,1149 135.9,1148.8 137.4,1148.6 138.9,1148.4 140.4,1148.1 141.9,1147.7 143.4,1147.3 144.9,1146.7 146.4,1146 147.9,1145.2 149.3,1144.2 150.8,1143.1 152.3,1141.9 153.8,1140.4 155.3,1138.8 156.8,1137.1 158.3,1135.1 159.8,1133 161.3,1130.7 162.8,1128.3 164.3,1125.7 165.8,1123.1 167.3,1120.4 168.8,1117.6 170.3,1114.8 171.8,1112.1 173.3,1109.4 174.8,1106.8 176.3,1104.5 177.8,1102.3 179.3,1100.4 180.7,1098.8 182.2,1097.5 183.7,1096.5 185.2,1096 186.7,1095.8 188.2,1096 189.7,1096.6 191.2,1097.6 192.7,1098.9 194.2,1100.6 195.7,1102.6 197.2,1104.8 198.7,1107.3 200.2,1110 201.7,1112.8 203.2,1115.7 204.7,1118.6 206.2,1121.6 207.7,1124.5 209.2,1127.3 210.7,1130.1 212.1,1132.8 213.6,1135.3 215.1,1137.6 216.6,1139.8 218.1,1141.8 219.6,1143.6 221.1,1145.3 222.6,1146.8 224.1,1148.1 225.6,1149.3 227.1,1150.3 228.6,1151.2 230.1,1152 231.6,1152.7 233.1,1153.3 234.6,1153.8 236.1,1154.2 237.6,1154.6 239.1,1154.9 240.6,1155.2 242.1,1155.4 243.6,1155.6 245,1155.8 246.5,1156 248,1156.1 249.5,1156.3 251,1156.4 252.5,1156.5 254,1156.6 255.5,1156.7 257,1156.8 258.5,1156.9 260,1157" fill="none" stroke="#b060c0" stroke-width="1.7" stroke-linejoin="round"/>
<polyline points="150,1150.7 151.5,1150.7 153,1150.8 154.5,1150.9 155.9,1151 157.4,1151.1 158.9,1151.2 160.4,1151.3 161.9,1151.3 163.4,1151.4 164.9,1151.5 166.4,1151.6 167.8,1151.7 169.3,1151.8 170.8,1151.9 172.3,1151.9 173.8,1152 175.3,1152.1 176.8,1152.2 178.2,1152.3 179.7,1152.3 181.2,1152.4 182.7,1152.4 184.2,1152.4 185.7,1152.2 187.2,1152 188.6,1151.5 190.1,1150.6 191.6,1149.2 193.1,1147.1 194.6,1144 196.1,1139.7 197.6,1133.8 199.1,1126.2 200.5,1116.7 202,1105.3 203.5,1092.1 205,1077.7 206.5,1062.5 208,1047.6 209.5,1033.9 210.9,1022.3 212.4,1013.9 213.9,1009.3 215.4,1008.9 216.9,1011.6 218.4,1017.2 219.9,1025.2 221.4,1035.2 222.8,1046.7 224.3,1059.1 225.8,1071.8 227.3,1084.3 228.8,1096.2 230.3,1107.1 231.8,1116.8 233.2,1125.2 234.7,1132.3 236.2,1138.1 237.7,1142.8 239.2,1146.5 240.7,1149.3 242.2,1151.4 243.6,1152.9 245.1,1154.1 246.6,1154.9 248.1,1155.5 249.6,1155.9 251.1,1156.2 252.6,1156.4 254.1,1156.5 255.5,1156.7 257,1156.8 258.5,1156.9 260,1157" fill="none" stroke="#4b48a8" stroke-width="1.7" stroke-linejoin="round"/>
<polyline points="51.3,1145.3 52.8,1144.8 54.3,1144.4 55.8,1143.6 57.3,1144 58.8,1143.4 60.3,1144.2 61.8,1141.7 63.3,1145 64.8,1138.9 66.3,1141.9 67.8,1142.5 69.3,1141.1 70.8,1140.2 72.3,1140.5 73.8,1140.8 75.3,1140.9 76.8,1137.4 78.3,1138.6 79.8,1137 81.3,1138 82.8,1135.6 84.3,1135.4 85.8,1135.5 87.3,1133.2 88.8,1132.8 90.3,1130.8 91.8,1130.4 93.3,1127.6 94.8,1127.6 96.3,1126.9 97.8,1125.6 99.3,1127.5 100.8,1122 102.3,1121.2 103.8,1123 105.3,1122.7 106.8,1121.7 108.3,1122.3 109.8,1123 111.3,1120.3 112.8,1119.6 114.3,1121.3 115.8,1123.3 117.3,1123.2 118.8,1123.4 120.3,1124.8 121.8,1125.7 123.3,1124.6 124.8,1127.8 126.3,1127.4 127.8,1129 129.3,1129.7 130.8,1131.3 132.3,1133.1 133.8,1132.8 135.3,1133.8 136.8,1135.2 138.3,1135.3 139.8,1134.7 141.3,1136.7 142.8,1135.7 144.3,1135.9 145.8,1136.3 147.3,1137.3 148.8,1134.2 150.3,1134 151.8,1133.6 153.3,1131.6 154.8,1131.4 156.3,1131.2 157.8,1126.5 159.3,1126.5 160.8,1123.6 162.3,1124.2 163.8,1120.4 165.3,1118.1 166.8,1115 168.3,1111.6 169.8,1110.3 171.3,1108.1 172.8,1105.3 174.3,1104.9 175.8,1101.9 177.3,1098.3 178.8,1097.1 180.3,1096.2 181.8,1092.9 183.3,1092.1 184.8,1089.6 186.3,1088.4 187.8,1086.2 189.3,1083.1 190.8,1082.3 192.3,1077.1 193.8,1074.7 195.3,1068.3 196.8,1062.8 198.3,1056.5 199.8,1049.3 201.3,1042.7 202.8,1031.1 204.3,1024.3 205.8,1012.4 207.3,1008.5 208.8,1001.5 210.3,995.8 211.8,993.1 213.3,988.9 214.8,988.8 216.3,990.8 217.8,998.5 219.3,1001.2 220.8,1012.9 222.3,1021.5 223.8,1033.4 225.3,1046.9 226.8,1064.8 228.3,1079.7 229.8,1092.7 231.3,1104.2 232.8,1112.3 234.3,1120.4 235.8,1124.6 237.3,1133.2 238.8,1138.4 240.3,1141.3 241.8,1145.3 243.3,1148.6 244.8,1149.7 246.3,1152 247.8,1152.7 249.3,1152.8 250.8,1152.3 252.3,1151.9 253.8,1154.7 255.3,1153.5 256.8,1156.4 258.3,1157.6" fill="none" stroke="#2a2a2a" stroke-width="1.0" stroke-opacity="0.45" stroke-linejoin="round"/>
<polyline points="355,221 364.5,221.2 374.1,221.4 383.6,221.6 393.2,221.7 402.7,221.9 412.3,222.1 421.8,222.3 431.4,222.5 440.9,222.7 450.5,222.8 460,223" fill="none" stroke="#4b48a8" stroke-width="1.6" stroke-linejoin="round"/>
<polyline points="455,222.9 464.7,223.1 474.5,223.3 484.2,223.5 493.9,223.7 503.6,223.9 513.4,224.1 523.1,224.2 532.8,224.4 542.5,224.6 552.3,224.8 562,225" fill="none" stroke="#6cc060" stroke-width="1.6" stroke-linejoin="round"/>
<polyline points="440,123.4 441.5,114.3 443,105.3 444.5,96.4 446,87.7 447.5,79.4 449,71.6 450.5,64.6 452,58.3 453.5,53 455,48.6 456.5,45.5 458,43.5 459.5,42.7 461,43.3 462.5,45.6 464,49.5 465.5,54.9 467,61.6 468.5,69.4 470,78 471.5,87.1 473,96.6 474.5,106 476,115.1 477.5,123.5 479,131.1 480.5,137.5 482,142.7 483.5,146.4 485,148.7 486.5,149.5 488,148.9 489.5,147.2 491,144.4 492.5,141.1 494,137.5 495.5,133.9 497,130.8 498.5,128.6 500,127.4 501.5,127.6 503,129 504.5,131.6 506,135.3 507.5,140 509,145.6 510.5,151.8 512,158.5 513.5,165.4 515,172.4 516.5,179.2 518,185.6 519.5,191.7 521,197.1 522.5,202 524,206.3 525.5,209.9 527,213 528.5,215.5 530,217.5 531.5,219.2 533,220.5 534.5,221.4 536,222.2 537.5,222.8 539,223.2 540.5,223.5 542,223.7 543.5,223.9 545,224 546.5,224.1 548,224.2 549.5,224.2 551,224.3 552.5,224.3 554,224.3 555.5,224.4 557,224.4 558.5,224.4 560,224.5" fill="none" stroke="#d03c40" stroke-width="2.2" stroke-opacity="0.95" stroke-linejoin="round"/>
<polyline points="355,220.5 356.5,220.5 358,220.6 359.5,220.6 361,220.6 362.5,220.6 364,220.7 365.5,220.7 367,220.7 368.5,220.8 370,220.8 371.5,220.8 373,220.8 374.5,220.9 375.9,220.9 377.4,220.9 378.9,221 380.4,221 381.9,221 383.4,221 384.9,221 386.4,221.1 387.9,221.1 389.4,221.1 390.9,221.1 392.4,221.1 393.9,221 395.4,221 396.9,220.9 398.4,220.8 399.9,220.6 401.4,220.5 402.9,220.2 404.4,219.9 405.9,219.4 407.4,218.9 408.9,218.2 410.4,217.4 411.9,216.3 413.4,215.1 414.9,213.6 416.4,211.8 417.8,209.7 419.3,207.2 420.8,204.3 422.3,201 423.8,197.1 425.3,192.8 426.8,188 428.3,182.6 429.8,176.6 431.3,170.1 432.8,163.1 434.3,155.6 435.8,147.6 437.3,139.2 438.8,130.5 440.3,121.6 441.8,112.6 443.3,103.6 444.8,94.7 446.3,86.1 447.8,77.9 449.3,70.3 450.8,63.4 452.3,57.3 453.8,52.1 455.3,48 456.8,45.1 458.2,43.3 459.7,42.7 461.2,43.7 462.7,46.3 464.2,50.5 465.7,56.3 467.2,63.4 468.7,71.6 470.2,80.8 471.7,90.7 473.2,101 474.7,111.7 476.2,122.4 477.7,132.9 479.2,143.1 480.7,152.8 482.2,161.9 483.7,170.4 485.2,178.1 486.7,185.1 488.2,191.3 489.7,196.7 491.2,201.4 492.7,205.5 494.2,209 495.7,211.9 497.2,214.3 498.6,216.2 500.1,217.8 501.6,219.1 503.1,220.2 504.6,221 506.1,221.6 507.6,222.1 509.1,222.5 510.6,222.8 512.1,223 513.6,223.2 515.1,223.3 516.6,223.4 518.1,223.5 519.6,223.6 521.1,223.7 522.6,223.7 524.1,223.7 525.6,223.8 527.1,223.8 528.6,223.8 530.1,223.9 531.6,223.9 533.1,223.9 534.6,224 536.1,224 537.6,224 539.1,224.1 540.5,224.1 542,224.1 543.5,224.1 545,224.2 546.5,224.2 548,224.2 549.5,224.3 551,224.3 552.5,224.3 554,224.3 555.5,224.4 557,224.4 558.5,224.4 560,224.5" fill="none" stroke="#5cc8e0" stroke-width="1.7" stroke-linejoin="round"/>
<polyline points="420,221.8 421.5,221.8 423,221.8 424.5,221.8 426,221.9 427.4,221.9 428.9,221.9 430.4,222 431.9,222 433.4,222 434.9,222 436.4,222.1 437.9,222.1 439.4,222.1 440.9,222.2 442.3,222.2 443.8,222.2 445.3,222.2 446.8,222.3 448.3,222.3 449.8,222.3 451.3,222.4 452.8,222.4 454.3,222.4 455.7,222.4 457.2,222.5 458.7,222.5 460.2,222.5 461.7,222.4 463.2,222.4 464.7,222.3 466.2,222.2 467.7,221.9 469.1,221.6 470.6,221.1 472.1,220.4 473.6,219.4 475.1,218 476.6,216.2 478.1,213.9 479.6,211 481.1,207.5 482.6,203.2 484,198.1 485.5,192.4 487,185.9 488.5,179 490,171.6 491.5,164.2 493,156.8 494.5,149.9 496,143.8 497.4,138.6 498.9,134.8 500.4,132.5 501.9,131.8 503.4,132.7 504.9,134.8 506.4,138.2 507.9,142.6 509.4,148 510.9,154 512.3,160.5 513.8,167.3 515.3,174.1 516.8,180.7 518.3,187 519.8,192.8 521.3,198.1 522.8,202.8 524.3,207 525.7,210.5 527.2,213.4 528.7,215.8 530.2,217.8 531.7,219.4 533.2,220.6 534.7,221.6 536.2,222.3 537.7,222.8 539.1,223.2 540.6,223.5 542.1,223.7 543.6,223.9 545.1,224 546.6,224.1 548.1,224.2 549.6,224.2 551.1,224.3 552.6,224.3 554,224.3 555.5,224.4 557,224.4 558.5,224.4 560,224.5" fill="none" stroke="#4b48a8" stroke-width="1.7" stroke-linejoin="round"/>
<polyline points="355,221.4 356.5,222.1 358,219.7 359.5,219.6 361,221.1 362.5,222.7 364,221.2 365.5,219.4 367,219.9 368.5,220.7 370,221.9 371.5,220.8 373,220.5 374.5,220.6 376,221.1 377.5,220.1 379,221 380.5,221.3 382,223 383.5,221 385,222.2 386.5,219.9 388,222.1 389.5,221.3 391,220.5 392.5,221.1 394,222.1 395.5,220.6 397,222.1 398.5,222.6 400,222.6 401.5,222.4 403,218.7 404.5,220.3 406,218.6 407.5,220 409,218.3 410.5,217.6 412,216.8 413.5,214.3 415,213.6 416.5,210.8 418,211.9 419.5,206.4 421,204 422.5,198.5 424,195 425.5,191.3 427,188.3 428.5,182.8 430,176.2 431.5,168.6 433,164.4 434.5,153.4 436,145.5 437.5,138.7 439,128.2 440.5,120.7 442,112.5 443.5,102.2 445,93.9 446.5,84.9 448,76 449.5,65.5 451,61 452.5,56.4 454,49.5 455.5,46.8 457,44.9 458.5,44.7 460,41.1 461.5,43.3 463,47 464.5,51.8 466,55.4 467.5,66.3 469,71.2 470.5,82.3 472,90.1 473.5,100.3 475,111.1 476.5,118.8 478,126.3 479.5,132.2 481,138.7 482.5,142.5 484,149.8 485.5,147.3 487,146.4 488.5,150.4 490,147.9 491.5,143 493,140.9 494.5,135.3 496,132.2 497.5,130.6 499,128.6 500.5,126.8 502,129.9 503.5,130.7 505,133 506.5,135.4 508,142 509.5,147.3 511,154 512.5,161.8 514,167.1 515.5,175 517,182.3 518.5,188.2 520,196.3 521.5,196.8 523,203.5 524.5,206.2 526,211 527.5,216.9 529,214.3 530.5,217.8 532,220.5 533.5,221 535,222.8 536.5,220.6 538,224.1 539.5,222.2 541,222.2 542.5,224.5 544,224.5 545.5,223.2 547,223.2 548.5,224 550,224.3 551.5,224.1 553,223.1 554.5,221.6 556,226 557.5,224.6 559,223 560.5,222.6 562,223.7" fill="none" stroke="#2a2a2a" stroke-width="1.0" stroke-opacity="0.45" stroke-linejoin="round"/>
<polyline points="355,220.5 356.5,220.5 358,220.6 359.5,220.6 361,220.6 362.5,220.6 364,220.7 365.4,220.7 366.9,220.7 368.4,220.8 369.9,220.8 371.4,220.8 372.9,220.8 374.4,220.9 375.9,220.9 377.4,220.9 378.9,221 380.4,221 381.9,221 383.4,221 384.8,221 386.3,221.1 387.8,221.1 389.3,221.1 390.8,221.1 392.3,221.1 393.8,221 395.3,221 396.8,220.9 398.3,220.8 399.8,220.7 401.3,220.5 402.8,220.2 404.2,219.9 405.7,219.5 407.2,218.9 408.7,218.3 410.2,217.5 411.7,216.5 413.2,215.2 414.7,213.8 416.2,212 417.7,209.9 419.2,207.5 420.7,204.7 422.2,201.4 423.6,197.6 425.1,193.4 426.6,188.6 428.1,183.3 429.6,177.5 431.1,171.1 432.6,164.1 434.1,156.7 435.6,148.8 437.1,140.5 438.6,131.8 440.1,123 441.6,114 443,105 444.5,96.1 446,87.5 447.5,79.3 449,71.6 450.5,64.5 452,58.3" fill="none" stroke="#3fa8a8" stroke-width="1.8" stroke-linejoin="round"/>
<polyline points="355,446 364.9,446.2 374.7,446.3 384.6,446.5 394.4,446.7 404.3,446.8 414.1,447 424,447.2 433.9,447.3 443.7,447.5 453.6,447.7 463.4,447.8 473.3,448 483.1,448.2 493,448.3 502.9,448.5 512.7,448.7 522.6,448.8 532.4,449 542.3,449.2 552.1,449.3 562,449.5" fill="none" stroke="#5cc8e0" stroke-width="1.6" stroke-linejoin="round"/>
<polyline points="440,447.7 450,447.9 460,448.1 470,448.2 480,448.4 490,448.6 500,448.8 510,448.9 520,449.1" fill="none" stroke="#6cc060" stroke-width="1.6" stroke-linejoin="round"/>
<polyline points="355,445.5 356.5,445.5 358,445.6 359.5,445.6 361,445.6 362.5,445.6 364,445.7 365.5,445.7 367,445.7 368.5,445.7 370,445.8 371.5,445.8 373,445.8 374.5,445.8 376,445.9 377.5,445.9 379,445.9 380.5,445.9 382,446 383.5,446 385,446 386.5,446 388,446.1 389.5,446.1 391,446.1 392.5,446.1 394,446.1 395.5,446.2 397,446.2 398.5,446.2 400,446.2 401.5,446.1 403,446.1 404.5,446 406,445.9 407.5,445.7 409,445.4 410.5,445 412,444.5 413.5,443.8 415,442.8 416.5,441.6 418,440 419.5,438.1 421,435.7 422.5,432.8 424,429.3 425.5,425.2 427,420.5 428.5,415.1 430,409 431.5,402.3 433,395 434.5,387.1 436,378.8 437.5,370 439,361 440.5,351.8 442,342.6 443.5,333.3 445,324.2 446.5,315.2 448,306.6 449.5,298.7 451,291.5 452.5,285.3 454,280 455.5,275.8 457,272.8 458.5,270.9 460,270.3 461.5,271 463,273.1 464.5,276.7 466,281.6 467.5,288.1 469,296.1 470.5,305.3 472,315.3 473.5,325.8 475,336.2 476.5,346 478,355 479.5,362.6 481,368.6 482.5,372.8 484,375.3 485.5,376 487,375.1 488.5,372.9 490,369.6 491.5,365.8 493,361.7 494.5,357.7 496,354.2 497.5,351.6 499,350.1 500.5,349.9 502,350.8 503.5,352.9 505,355.9 506.5,360 508,364.9 509.5,370.5 511,376.6 512.5,383.1 514,389.7 515.5,396.3 517,402.7 518.5,408.8 520,414.6 521.5,419.8 523,424.6 524.5,428.8 526,432.5 527.5,435.7 529,438.3 530.5,440.5 532,442.4 533.5,443.8 535,445 536.5,445.9 538,446.7 539.5,447.2 541,447.6 542.5,448 544,448.2 545.5,448.4 547,448.5 548.5,448.6 550,448.7 551.5,448.8 553,448.8 554.5,448.8 556,448.9 557.5,448.9 559,448.9 560.5,449 562,449" fill="none" stroke="#d03c40" stroke-width="2.2" stroke-opacity="0.95" stroke-linejoin="round"/>
<polyline points="370,445.8 371.5,445.8 373,445.8 374.5,445.8 376,445.9 377.5,445.9 379,445.9 380.5,445.9 382,446 383.5,446 385,446 386.5,446 388,446.1 389.4,446.1 390.9,446.1 392.4,446.1 393.9,446.1 395.4,446.2 396.9,446.2 398.4,446.2 399.9,446.2 401.4,446.1 402.9,446.1 404.4,446 405.9,445.9 407.4,445.7 408.9,445.4 410.4,445 411.9,444.5 413.4,443.8 414.9,442.9 416.4,441.7 417.9,440.2 419.4,438.3 420.9,436 422.4,433.3 423.9,430 425.4,426.1 426.9,421.7 428.3,416.7 429.8,411.3 431.3,405.4 432.8,399.1 434.3,392.6 435.8,386.1 437.3,379.7 438.8,373.5 440.3,367.9 441.8,363 443.3,359 444.8,356 446.3,354.2 447.8,353.6 449.3,354.4 450.8,356.7 452.3,360.5 453.8,365.5 455.3,371.5 456.8,378.3 458.3,385.5 459.8,392.8 461.3,400.2 462.8,407.2 464.3,413.7 465.7,419.7 467.2,425 468.7,429.6 470.2,433.5 471.7,436.7 473.2,439.4 474.7,441.5 476.2,443.1 477.7,444.4 479.2,445.4 480.7,446.1 482.2,446.6 483.7,447 485.2,447.2 486.7,447.4 488.2,447.6 489.7,447.7 491.2,447.7 492.7,447.8 494.2,447.8 495.7,447.9 497.2,447.9 498.7,447.9 500.2,448 501.7,448 503.1,448 504.6,448 506.1,448.1 507.6,448.1 509.1,448.1 510.6,448.1 512.1,448.2 513.6,448.2 515.1,448.2 516.6,448.2 518.1,448.3 519.6,448.3 521.1,448.3 522.6,448.3 524.1,448.4 525.6,448.4 527.1,448.4 528.6,448.4 530.1,448.5 531.6,448.5 533.1,448.5 534.6,448.5 536.1,448.6 537.6,448.6 539.1,448.6 540.6,448.6 542,448.7 543.5,448.7 545,448.7 546.5,448.7 548,448.8 549.5,448.8 551,448.8 552.5,448.8 554,448.9 555.5,448.9 557,448.9 558.5,448.9 560,449" fill="none" stroke="#d35fc8" stroke-width="1.7" stroke-linejoin="round"/>
<polyline points="380,445.9 381.5,445.9 383,446 384.5,446 386,446 387.5,446 389,446.1 390.5,446.1 392,446.1 393.5,446.2 395,446.2 396.5,446.2 398,446.2 399.5,446.3 401,446.3 402.5,446.3 404,446.3 405.5,446.4 407,446.4 408.5,446.4 410,446.4 411.5,446.5 413,446.5 414.5,446.5 416,446.5 417.5,446.5 419,446.5 420.5,446.5 422,446.4 423.5,446.4 425,446.2 426.5,446 428,445.7 429.5,445.3 431,444.6 432.5,443.7 434,442.5 435.5,440.9 437,438.8 438.5,436.2 440,432.8 441.5,428.6 443,423.6 444.5,417.7 446,410.8 447.5,402.9 449,394.2 450.5,384.8 452,374.7 453.5,364.4 455,354 456.5,344 458,334.6 459.5,326.3 461,319.4 462.5,314.2 464,311 465.5,309.8 467,310.9 468.5,314.5 470,320.4 471.5,328.3 473,337.8 474.5,348.3 476,359.5 477.5,370.9 479,382.1 480.5,392.6 482,402.4 483.5,411.1 485,418.6 486.5,425.1 488,430.4 489.5,434.8 491,438.2 492.5,440.9 494,442.9 495.5,444.5 497,445.6 498.5,446.4 500,446.9 501.5,447.3 503,447.6 504.5,447.8 506,447.9 507.5,448 509,448 510.5,448.1 512,448.1 513.5,448.2 515,448.2 516.5,448.2 518,448.3 519.5,448.3 521,448.3 522.5,448.3 524,448.4 525.5,448.4 527,448.4 528.5,448.4 530,448.5 531.5,448.5 533,448.5 534.5,448.5 536,448.6 537.5,448.6 539,448.6 540.5,448.6 542,448.7 543.5,448.7 545,448.7 546.5,448.7 548,448.8 549.5,448.8 551,448.8 552.5,448.8 554,448.9 555.5,448.9 557,448.9 558.5,448.9 560,449" fill="none" stroke="#4b48a8" stroke-width="1.7" stroke-linejoin="round"/>
<polyline points="420,446.6 421.5,446.6 423,446.6 424.5,446.7 426,446.7 427.5,446.7 429,446.8 430.5,446.8 432,446.8 433.5,446.8 434.9,446.9 436.4,446.9 437.9,446.9 439.4,446.9 440.9,447 442.4,447 443.9,447 445.4,447 446.9,447 448.4,447.1 449.9,447.1 451.4,447.1 452.9,447.1 454.4,447.1 455.9,447.1 457.4,447.1 458.9,447 460.4,446.9 461.9,446.8 463.3,446.5 464.8,446.2 466.3,445.7 467.8,445 469.3,444.1 470.8,442.9 472.3,441.3 473.8,439.3 475.3,436.8 476.8,433.7 478.3,430 479.8,425.7 481.3,420.7 482.8,415 484.3,408.7 485.8,402 487.3,394.8 488.8,387.5 490.3,380.3 491.7,373.3 493.2,366.9 494.7,361.3 496.2,356.6 497.7,353.3 499.2,351.3 500.7,350.8 502.2,351.6 503.7,353.6 505.2,356.6 506.7,360.7 508.2,365.6 509.7,371.3 511.2,377.4 512.7,383.8 514.2,390.4 515.7,397 517.2,403.4 518.7,409.4 520.1,415.1 521.6,420.3 523.1,425 524.6,429.2 526.1,432.8 527.6,435.9 529.1,438.5 530.6,440.7 532.1,442.5 533.6,443.9 535.1,445.1 536.6,446 538.1,446.7 539.6,447.2 541.1,447.7 542.6,448 544.1,448.2 545.6,448.4 547.1,448.5 548.5,448.6 550,448.7 551.5,448.8 553,448.8 554.5,448.8 556,448.9 557.5,448.9 559,448.9 560.5,449 562,449" fill="none" stroke="#5cc8e0" stroke-width="1.7" stroke-linejoin="round"/>
<polyline points="355,446.1 356.5,445.4 358,449.9 359.5,446.2 361,445.8 362.5,446.2 364,445 365.5,444.8 367,446.4 368.5,445.2 370,446.8 371.5,445.5 373,443.6 374.5,444.2 376,444.8 377.5,443.4 379,445.8 380.5,445.6 382,447.1 383.5,444.9 385,445.7 386.5,446.8 388,447 389.5,444.8 391,448 392.5,445.3 394,447.6 395.5,445.8 397,445.6 398.5,444.6 400,446 401.5,449.1 403,445.3 404.5,447.9 406,447.5 407.5,445.2 409,446.8 410.5,446.8 412,444.1 413.5,443.1 415,444.2 416.5,442 418,442.7 419.5,438.6 421,434.2 422.5,432.7 424,427.8 425.5,426.1 427,421.3 428.5,414.5 430,407.9 431.5,403.4 433,394.5 434.5,388.6 436,377.5 437.5,369.7 439,360.4 440.5,350.5 442,346 443.5,335.4 445,323.4 446.5,316.3 448,304.4 449.5,300.2 451,292.9 452.5,284.9 454,279.6 455.5,276.1 457,273.3 458.5,270.4 460,269.2 461.5,270.7 463,272.6 464.5,277.7 466,281.7 467.5,288.4 469,294 470.5,304.8 472,314.8 473.5,325.1 475,336 476.5,345.7 478,353 479.5,363.8 481,369.8 482.5,372.2 484,376.1 485.5,374.8 487,373.5 488.5,372.6 490,371.6 491.5,365.7 493,359.7 494.5,358 496,353.6 497.5,350.8 499,350.6 500.5,347.7 502,348.6 503.5,351 505,357.3 506.5,360.2 508,364.2 509.5,369.7 511,377.5 512.5,384.7 514,388.8 515.5,396.6 517,405.7 518.5,409.6 520,414.2 521.5,420.3 523,424.8 524.5,429.7 526,433 527.5,435.1 529,438.2 530.5,441.1 532,441.6 533.5,444 535,443.9 536.5,447.6 538,448.7 539.5,446.2 541,448.8 542.5,448.2 544,448.4 545.5,448.1 547,448.9 548.5,449.9 550,447.2 551.5,450.1 553,448.5 554.5,447.5 556,448.9 557.5,449.8 559,448.9 560.5,449.4 562,448.6" fill="none" stroke="#2a2a2a" stroke-width="1.0" stroke-opacity="0.45" stroke-linejoin="round"/>
<polyline points="530,448.5 532.9,448.5 535.8,448.6 538.7,448.6 541.6,448.7 544.5,448.7 547.5,448.8 550.4,448.8 553.3,448.9 556.2,448.9 559.1,449 562,449" fill="none" stroke="#d35fc8" stroke-width="1.6" stroke-linejoin="round"/>
<polyline points="380,679.8 389.9,679.9 399.7,680 409.6,680.2 419.4,680.3 429.3,680.4 439.1,680.5 449,680.6 458.9,680.8 468.7,680.9 478.6,681 488.4,681.1 498.3,681.2 508.1,681.3 518,681.5 527.9,681.6 537.7,681.7 547.6,681.8 557.4,681.9 567.3,682.1 577.1,682.2 587,682.3" fill="none" stroke="#5cc8e0" stroke-width="1.6" stroke-linejoin="round"/>
<polyline points="430,680.9 440,681 450,681.1 460,681.3 470,681.4 480,681.5 490,681.6 500,681.7 510,681.9 520,682 530,682.1 540,682.2" fill="none" stroke="#6cc060" stroke-width="1.6" stroke-linejoin="round"/>
<polyline points="380,679.5 381.5,679.5 383,679.5 384.5,679.6 386,679.6 387.5,679.6 389,679.6 390.5,679.6 392,679.6 393.5,679.7 395,679.7 396.5,679.7 398,679.7 399.5,679.7 401,679.7 402.5,679.7 404,679.7 405.5,679.6 407,679.5 408.5,679.4 410,679.2 411.5,678.8 413,678.4 414.5,677.8 416,677 417.5,675.9 419,674.5 420.5,672.7 422,670.5 423.5,667.7 425,664.5 426.5,660.7 428,656.2 429.5,651.2 431,645.6 432.5,639.5 434,632.9 435.5,625.9 437,618.5 438.5,611 440,603.4 441.5,595.8 443,588.4 444.5,581.3 446,574.7 447.5,568.8 449,563.6 450.5,559.2 452,555.7 453.5,553.2 455,551.8 456.5,551.5 458,552.4 459.5,554.5 461,557.8 462.5,562.1 464,567.5 465.5,573.6 467,580.1 468.5,586.8 470,593.4 471.5,599.5 473,604.8 474.5,609.2 476,612.4 477.5,614.4 479,615.2 480.5,614.5 482,612.2 483.5,608.4 485,602.9 486.5,595.7 488,587.2 489.5,577.6 491,567.5 492.5,557.3 494,547.6 495.5,539.2 497,532.4 498.5,527.8 500,525.7 501.5,526.1 503,529.2 504.5,534.8 506,542.7 507.5,552.3 509,563.4 510.5,575.5 512,587.9 513.5,600.3 515,612.3 516.5,623.5 518,633.8 519.5,642.9 521,650.8 522.5,657.5 524,663.1 525.5,667.6 527,671.2 528.5,673.9 530,676.1 531.5,677.6 533,678.8 534.5,679.6 536,680.2 537.5,680.7 539,680.9 540.5,681.1 542,681.3 543.5,681.4 545,681.4 546.5,681.5 548,681.5 549.5,681.5 551,681.6 552.5,681.6 554,681.6 555.5,681.6 557,681.6 558.5,681.7 560,681.7 561.5,681.7 563,681.7 564.5,681.7 566,681.7 567.5,681.8 569,681.8 570.5,681.8 572,681.8 573.5,681.8 575,681.9 576.5,681.9 578,681.9 579.5,681.9 581,681.9 582.5,681.9 584,682 585.5,682 587,682" fill="none" stroke="#d03c40" stroke-width="2.2" stroke-opacity="0.95" stroke-linejoin="round"/>
<polyline points="380,679.5 381.5,679.5 383,679.5 384.5,679.6 386,679.6 387.5,679.6 389,679.6 390.5,679.6 392,679.6 393.5,679.7 395,679.7 396.5,679.7 398,679.7 399.5,679.7 401,679.7 402.5,679.7 404,679.7 405.5,679.6 407,679.5 408.5,679.4 410,679.2 411.5,678.9 413,678.5 414.5,677.9 416,677.1 417.5,676.2 419,674.9 420.5,673.3 422,671.4 423.5,669.1 425,666.4 426.5,663.4 428,660 429.5,656.3 431,652.5 432.5,648.6 434,644.8 435.5,641.3 437,638.1 438.5,635.4 440,633.4 441.5,632.2 443,631.8 444.5,632.3 446,633.8 447.5,636.1 449,639.3 450.5,643 452,647 453.5,651.3 455,655.5 456.5,659.5 458,663.3 459.5,666.7 461,669.6 462.5,672.1 464,674.2 465.5,675.9 467,677.2 468.5,678.2 470,678.9 471.5,679.5 473,679.9 474.5,680.1 476,680.3 477.5,680.5 479,680.6 480.5,680.6 482,680.7 483.5,680.7 485,680.8 486.5,680.8 488,680.8 489.5,680.8 491,680.8 492.5,680.9 494,680.9 495.5,680.9 497,680.9 498.5,680.9 500,680.9 501.5,681 503,681 504.5,681 506,681 507.5,681 509,681.1 510.5,681.1 512,681.1 513.5,681.1 515,681.1 516.5,681.1 518,681.2 519.5,681.2 521,681.2 522.5,681.2 524,681.2 525.5,681.3 527,681.3 528.5,681.3 530,681.3 531.5,681.3 533,681.3 534.5,681.4 536,681.4 537.5,681.4 539,681.4 540.5,681.4 542,681.5 543.5,681.5 545,681.5 546.5,681.5 548,681.5 549.5,681.5 551,681.6 552.5,681.6 554,681.6 555.5,681.6 557,681.6 558.5,681.7 560,681.7 561.5,681.7 563,681.7 564.5,681.7 566,681.7 567.5,681.8 569,681.8 570.5,681.8 572,681.8 573.5,681.8 575,681.9 576.5,681.9 578,681.9 579.5,681.9 581,681.9 582.5,681.9 584,682 585.5,682 587,682" fill="none" stroke="#5cc8e0" stroke-width="1.7" stroke-linejoin="round"/>
<polyline points="380,679.5 381.5,679.5 383,679.5 384.5,679.6 386,679.6 387.5,679.6 389,679.6 390.5,679.6 392,679.6 393.5,679.7 395,679.7 396.5,679.7 398,679.7 399.5,679.7 401,679.8 402.5,679.8 404,679.8 405.5,679.8 407,679.8 408.5,679.8 410,679.8 411.5,679.8 413,679.8 414.5,679.8 416,679.8 417.5,679.7 419,679.6 420.5,679.4 422,679.1 423.5,678.7 425,678.2 426.5,677.5 428,676.5 429.5,675.1 431,673.4 432.5,671.3 434,668.6 435.5,665.3 437,661.3 438.5,656.6 440,651.2 441.5,645.1 443,638.3 444.5,631 446,623.2 447.5,615.2 449,607.2 450.5,599.4 452,592.2 453.5,585.7 455,580.3 456.5,576.1 458,573.4 459.5,572.3 461,572.8 462.5,574.9 464,578.5 465.5,583.5 467,589.6 468.5,596.7 470,604.3 471.5,612.3 473,620.4 474.5,628.3 476,635.9 477.5,642.9 479,649.3 480.5,655.1 482,660.1 483.5,664.4 485,668 486.5,670.9 488,673.3 489.5,675.2 491,676.7 492.5,677.9 494,678.7 495.5,679.4 497,679.9 498.5,680.2 500,680.5 501.5,680.7 503,680.8 504.5,680.9 506,680.9 507.5,681 509,681 510.5,681.1 512,681.1 513.5,681.1 515,681.1 516.5,681.1 518,681.2 519.5,681.2 521,681.2 522.5,681.2 524,681.2 525.5,681.3 527,681.3 528.5,681.3 530,681.3 531.5,681.3 533,681.3 534.5,681.4 536,681.4 537.5,681.4 539,681.4 540.5,681.4 542,681.5 543.5,681.5 545,681.5 546.5,681.5 548,681.5 549.5,681.5 551,681.6 552.5,681.6 554,681.6 555.5,681.6 557,681.6 558.5,681.7 560,681.7 561.5,681.7 563,681.7 564.5,681.7 566,681.7 567.5,681.8 569,681.8 570.5,681.8 572,681.8 573.5,681.8 575,681.9 576.5,681.9 578,681.9 579.5,681.9 581,681.9 582.5,681.9 584,682 585.5,682 587,682" fill="none" stroke="#d35fc8" stroke-width="1.7" stroke-linejoin="round"/>
<polyline points="420,680 421.5,680 423,680 424.5,680 426,680.1 427.5,680.1 428.9,680.1 430.4,680.1 431.9,680.1 433.4,680.1 434.9,680.2 436.4,680.2 437.9,680.2 439.4,680.2 440.9,680.2 442.4,680.3 443.9,680.3 445.3,680.3 446.8,680.3 448.3,680.3 449.8,680.3 451.3,680.3 452.8,680.4 454.3,680.4 455.8,680.4 457.3,680.3 458.8,680.3 460.3,680.2 461.8,680.1 463.2,679.8 464.7,679.5 466.2,679 467.7,678.3 469.2,677.3 470.7,675.9 472.2,674 473.7,671.6 475.2,668.3 476.7,664.2 478.2,659.1 479.6,652.9 481.1,645.6 482.6,637 484.1,627.3 485.6,616.5 487.1,604.9 488.6,592.7 490.1,580.3 491.6,568.2 493.1,556.8 494.6,546.6 496,538 497.5,531.5 499,527.4 500.5,526 502,527.2 503.5,531 505,537.3 506.5,545.7 508,555.8 509.5,567.1 511,579.2 512.4,591.6 513.9,603.9 515.4,615.6 516.9,626.5 518.4,636.4 519.9,645.2 521.4,652.7 522.9,659.1 524.4,664.3 525.9,668.5 527.4,671.9 528.8,674.5 530.3,676.5 531.8,677.9 533.3,679 534.8,679.8 536.3,680.3 537.8,680.7 539.3,681 540.8,681.2 542.3,681.3 543.8,681.4 545.2,681.4 546.7,681.5 548.2,681.5 549.7,681.5 551.2,681.6 552.7,681.6 554.2,681.6 555.7,681.6 557.2,681.6 558.7,681.7 560.2,681.7 561.7,681.7 563.1,681.7 564.6,681.7 566.1,681.7 567.6,681.8 569.1,681.8 570.6,681.8 572.1,681.8 573.6,681.8 575.1,681.9 576.6,681.9 578.1,681.9 579.5,681.9 581,681.9 582.5,681.9 584,682 585.5,682 587,682" fill="none" stroke="#5b45a8" stroke-width="1.7" stroke-linejoin="round"/>
<polyline points="380,682.8 381.5,677.9 383,680 384.5,679.2 386,678.3 387.5,678.7 389,678.8 390.5,679.5 392,680.2 393.5,681.2 395,680 396.5,681.3 398,680.3 399.5,679.8 401,679.3 402.5,678.2 404,677.2 405.5,679.4 407,679.2 408.5,679.8 410,679.6 411.5,676.9 413,677.3 414.5,676 416,678.4 417.5,675.6 419,674.6 420.5,671.2 422,668.5 423.5,666.8 425,664.2 426.5,661.2 428,653.9 429.5,651.6 431,644.2 432.5,638.6 434,632.3 435.5,625.1 437,619.1 438.5,612.2 440,603.8 441.5,594.9 443,588.9 444.5,581.7 446,575.9 447.5,569.1 449,561.1 450.5,558 452,555 453.5,554.5 455,551.5 456.5,552.7 458,552.7 459.5,552.6 461,557.7 462.5,562.8 464,568 465.5,571.3 467,580.6 468.5,585.9 470,590.2 471.5,598.5 473,601.8 474.5,607.2 476,614.4 477.5,618 479,616.6 480.5,615 482,614.9 483.5,608.8 485,601.3 486.5,592 488,588.5 489.5,574.2 491,563.1 492.5,556.2 494,547.6 495.5,537.8 497,533.9 498.5,527.6 500,525.9 501.5,526.7 503,528.3 504.5,535 506,546 507.5,550.9 509,563.6 510.5,576.1 512,587 513.5,600.2 515,609.7 516.5,622.8 518,633.8 519.5,644.5 521,652.1 522.5,656.6 524,661.3 525.5,670.2 527,672.4 528.5,671 530,675.5 531.5,676.2 533,677.8 534.5,677 536,679.5 537.5,679.8 539,680.5 540.5,682.6 542,681.5 543.5,679.5 545,678.8 546.5,680.6 548,683.2 549.5,682.9 551,680.6 552.5,683.2 554,682.2 555.5,680.6 557,682.2 558.5,681.5 560,679.9 561.5,681 563,681.9 564.5,683.6 566,680.1 567.5,682.1 569,681.8 570.5,681.7 572,679.9 573.5,683.7 575,683.7 576.5,684.2 578,682.5 579.5,684.1 581,682.7 582.5,683.4 584,681.4 585.5,682.3 587,681.5" fill="none" stroke="#2a2a2a" stroke-width="1.0" stroke-opacity="0.45" stroke-linejoin="round"/>
<polyline points="380,679.5 384.9,679.6 389.9,679.6 394.8,679.7 399.7,679.7 404.6,679.8 409.6,679.9 414.5,679.9 419.4,680 424.4,680 429.3,680.1 434.2,680.2 439.1,680.2 444.1,680.3 449,680.3 453.9,680.4 458.9,680.5 463.8,680.5 468.7,680.6 473.6,680.6 478.6,680.7 483.5,680.8 488.4,680.8 493.4,680.9 498.3,680.9 503.2,681 508.1,681 513.1,681.1 518,681.2 522.9,681.2 527.9,681.3 532.8,681.3 537.7,681.4 542.6,681.5 547.6,681.5 552.5,681.6 557.4,681.6 562.4,681.7 567.3,681.8 572.2,681.8 577.1,681.9 582.1,681.9 587,682" fill="none" stroke="#d35fc8" stroke-width="1.6" stroke-linejoin="round"/>
<line x1="451" y1="556" x2="452.5" y2="543" stroke="#2a2a2a" stroke-width="2"/>
<polyline points="350,904 360,904 370,903.9 380,903.9 390,903.8 400,903.8 410,903.7 420,903.7 430,903.7 440,903.6 450,903.6 460,903.5 470,903.5 480,903.4 490,903.4 500,903.3 510,903.3 520,903.3 530,903.2 540,903.2 550,903.1 560,903.1 570,903 580,903" fill="none" stroke="#6cc060" stroke-width="1.6" stroke-linejoin="round"/>
<polyline points="348,902 357.9,901.9 367.8,901.8 377.8,901.7 387.7,901.6 397.6,901.5 407.5,901.4 417.4,901.3 427.3,901.2 437.2,901.1 447.2,901 457.1,900.9 467,900.8 476.9,900.6 486.8,900.5 496.8,900.4 506.7,900.3 516.6,900.2 526.5,900.1 536.4,900 546.3,899.9 556.2,899.8 566.2,899.7 576.1,899.6 586,899.5" fill="none" stroke="#3a8ac8" stroke-width="1.6" stroke-linejoin="round"/>
<polyline points="400,901.3 401.5,901.2 403,901.1 404.5,901 406,900.8 407.4,900.6 408.9,900.3 410.4,900 411.9,899.6 413.4,899 414.9,898.3 416.4,897.4 417.9,896.4 419.4,895.1 420.9,893.5 422.3,891.7 423.8,889.5 425.3,886.9 426.8,883.9 428.3,880.5 429.8,876.7 431.3,872.4 432.8,867.6 434.3,862.3 435.7,856.7 437.2,850.6 438.7,844.2 440.2,837.6 441.7,830.8 443.2,824 444.7,817.2 446.2,810.6 447.7,804.3 449.1,798.5 450.6,793.3 452.1,788.8 453.6,785 455.1,782.2 456.6,780.2 458.1,779.2 459.6,779.2 461.1,780 462.6,781.5 464,783.6 465.5,786 467,788.6 468.5,791.1 470,793.3 471.5,795 473,796.2 474.5,796.7 476,796.5 477.4,795.2 478.9,792.9 480.4,789.3 481.9,784.3 483.4,778 484.9,770.4 486.4,761.9 487.9,752.9 489.4,743.8 490.9,735.4 492.3,728.2 493.8,722.7 495.3,719.4 496.8,718.5 498.3,720.3 499.8,724.7 501.3,731.7 502.8,740.9 504.3,752.1 505.7,764.7 507.2,778.2 508.7,792.1 510.2,806.1 511.7,819.6 513.2,832.2 514.7,843.9 516.2,854.3 517.7,863.4 519.1,871.2 520.6,877.7 522.1,883 523.6,887.3 525.1,890.7 526.6,893.3 528.1,895.2 529.6,896.7 531.1,897.7 532.6,898.5 534,899 535.5,899.3 537,899.6 538.5,899.7 540,899.8" fill="none" stroke="#d03c40" stroke-width="2.2" stroke-opacity="0.95" stroke-linejoin="round"/>
<polyline points="348,902 349.5,902 351,902 352.5,902 354,901.9 355.5,901.9 357,901.9 358.5,901.9 360,901.9 361.5,901.9 363,901.8 364.5,901.8 366,901.8 367.5,901.8 369,901.8 370.5,901.8 371.9,901.7 373.4,901.7 374.9,901.7 376.4,901.7 377.9,901.7 379.4,901.7 380.9,901.7 382.4,901.6 383.9,901.6 385.4,901.6 386.9,901.6 388.4,901.6 389.9,901.5 391.4,901.5 392.9,901.5 394.4,901.5 395.9,901.4 397.4,901.4 398.9,901.3 400.4,901.3 401.9,901.2 403.4,901.1 404.9,901 406.4,900.8 407.9,900.5 409.4,900.2 410.9,899.9 412.4,899.4 413.9,898.8 415.4,898 416.9,897.1 418.4,896 419.8,894.6 421.3,892.9 422.8,891 424.3,888.6 425.8,885.9 427.3,882.8 428.8,879.2 430.3,875.2 431.8,870.7 433.3,865.7 434.8,860.3 436.3,854.4 437.8,848.2 439.3,841.7 440.8,834.9 442.3,828.1 443.8,821.2 445.3,814.5 446.8,808 448.3,801.8 449.8,796.3 451.3,791.3 452.8,787.1 454.3,783.8 455.8,781.5 457.3,780.2 458.8,779.9 460.3,780.7 461.8,782.5 463.3,785.4 464.8,789.3 466.3,794 467.7,799.4 469.2,805.4 470.7,811.9 472.2,818.6 473.7,825.6 475.2,832.6 476.7,839.4 478.2,846.1 479.7,852.5 481.2,858.5 482.7,864.1 484.2,869.3 485.7,873.9 487.2,878.1 488.7,881.7 490.2,885 491.7,887.7 493.2,890.1 494.7,892.1 496.2,893.8 497.7,895.1 499.2,896.3 500.7,897.2 502.2,897.9 503.7,898.5 505.2,898.9 506.7,899.3 508.2,899.5 509.7,899.7 511.2,899.9 512.7,900 514.2,900 515.6,900.1 517.1,900.1 518.6,900.1 520.1,900.1 521.6,900.1 523.1,900.1 524.6,900.1 526.1,900.1 527.6,900.1 529.1,900.1 530.6,900.1 532.1,900.1 533.6,900 535.1,900 536.6,900 538.1,900 539.6,900 541.1,900 542.6,900 544.1,899.9 545.6,899.9 547.1,899.9 548.6,899.9 550.1,899.9 551.6,899.9 553.1,899.8 554.6,899.8 556.1,899.8 557.6,899.8 559.1,899.8 560.6,899.8 562.1,899.8 563.5,899.7 565,899.7 566.5,899.7 568,899.7 569.5,899.7 571,899.7 572.5,899.6 574,899.6 575.5,899.6 577,899.6 578.5,899.6 580,899.6 581.5,899.5 583,899.5 584.5,899.5 586,899.5" fill="none" stroke="#4b48a8" stroke-width="1.7" stroke-linejoin="round"/>
<polyline points="420,901.2 421.5,901.2 423,901.2 424.5,901.2 426,901.2 427.5,901.2 429,901.1 430.5,901.1 432,901.1 433.5,901.1 435,901.1 436.5,901.1 437.9,901.1 439.4,901 440.9,901 442.4,901 443.9,901 445.4,901 446.9,900.9 448.4,900.9 449.9,900.9 451.4,900.9 452.9,900.8 454.4,900.7 455.9,900.6 457.4,900.4 458.9,900.2 460.4,899.8 461.9,899.3 463.4,898.5 464.9,897.5 466.4,896 467.9,894.1 469.4,891.5 470.8,888.2 472.3,884 473.8,878.7 475.3,872.3 476.8,864.6 478.3,855.5 479.8,845.2 481.3,833.6 482.8,821 484.3,807.6 485.8,793.8 487.3,780 488.8,766.7 490.3,754.4 491.8,743.6 493.3,734.9 494.8,728.7 496.3,725.1 497.8,724.6 499.3,727 500.8,732.2 502.3,740 503.7,750 505.2,761.7 506.7,774.7 508.2,788.3 509.7,802.2 511.2,815.7 512.7,828.6 514.2,840.6 515.7,851.4 517.2,860.9 518.7,869.1 520.2,875.9 521.7,881.6 523.2,886.2 524.7,889.8 526.2,892.6 527.7,894.7 529.2,896.3 530.7,897.5 532.2,898.3 533.7,898.9 535.2,899.3 536.6,899.5 538.1,899.7 539.6,899.8 541.1,899.8 542.6,899.9 544.1,899.9 545.6,899.9 547.1,899.9 548.6,899.9 550.1,899.9 551.6,899.9 553.1,899.8 554.6,899.8 556.1,899.8 557.6,899.8 559.1,899.8 560.6,899.8 562.1,899.8 563.6,899.7 565.1,899.7 566.6,899.7 568.1,899.7 569.5,899.7 571,899.7 572.5,899.6 574,899.6 575.5,899.6 577,899.6 578.5,899.6 580,899.6 581.5,899.5 583,899.5 584.5,899.5 586,899.5" fill="none" stroke="#5cc8e0" stroke-width="1.7" stroke-linejoin="round"/>
<polyline points="348,901.5 349.5,899.8 351,903.7 352.5,905.9 354,902.6 355.5,903.6 357,903.6 358.5,903 360,903 361.5,903.4 363,901.5 364.5,899.8 366,899.6 367.5,902.7 369,902.4 370.5,901.7 372,898.7 373.5,901.4 375,901.6 376.5,900.4 378,900.7 379.5,904.5 381,903.4 382.5,902.7 384,902 385.5,901 387,901.1 388.5,902.5 390,900.4 391.5,901.2 393,903.6 394.5,899.8 396,900.4 397.5,903.7 399,901.8 400.5,901.5 402,900.1 403.5,899.2 405,902.5 406.5,897.4 408,901.1 409.5,899.5 411,899.7 412.5,896.6 414,899.9 415.5,898.7 417,897.4 418.5,896.4 420,892.7 421.5,893 423,891.4 424.5,888.3 426,881.5 427.5,882.3 429,878.9 430.5,873.2 432,870.2 433.5,866.7 435,859.4 436.5,855.4 438,846.7 439.5,839.9 441,834.4 442.5,826 444,818.1 445.5,814 447,807.1 448.5,801.8 450,794.3 451.5,790 453,787.1 454.5,782.6 456,780.6 457.5,779.8 459,778.1 460.5,779.9 462,778.9 463.5,783.4 465,788.6 466.5,788.5 468,789.7 469.5,790.4 471,793 472.5,795.5 474,795.6 475.5,797.3 477,795.9 478.5,794.7 480,790.2 481.5,786.9 483,781.6 484.5,771.3 486,764 487.5,755 489,745.9 490.5,738.8 492,729.3 493.5,722.6 495,718.1 496.5,716.5 498,719.6 499.5,724.8 501,730.3 502.5,738.1 504,749.8 505.5,761.3 507,777.3 508.5,790.2 510,806 511.5,818.6 513,831.5 514.5,841.3 516,853.8 517.5,862 519,869.8 520.5,877.4 522,884.7 523.5,887.7 525,893.1 526.5,894 528,893.4 529.5,895.9 531,900.2 532.5,899.2 534,899.1 535.5,898.8 537,899.8 538.5,900.3 540,899.3" fill="none" stroke="#2a2a2a" stroke-width="1.0" stroke-opacity="0.45" stroke-linejoin="round"/>
<polyline points="540,903.7 541.5,906 543,905.8 544.5,904.9 546,905.6 547.5,906 549,906 550.5,906.1 552,906.9 553.5,907.5 555,908.3 556.5,906.4 558,905.8 559.5,907.7 561,906.6 562.5,906.1 564,909.3 565.5,908.5 567,907.1 568.5,907.3 570,908.3 571.5,908.2 573,908.7 574.5,908.1 576,906.2 577.5,906.3 579,909.9 580.5,909.1 582,906.4" fill="none" stroke="#2a2a2a" stroke-width="1.4" stroke-linejoin="round"/>
<line x1="582" y1="909" x2="586" y2="901" stroke="#2a2a2a" stroke-width="1.4"/>
<polyline points="355,1146.8 364.7,1147.1 374.4,1147.5 384.2,1147.8 393.9,1148.2 403.6,1148.5 413.3,1148.9 423.1,1149.2 432.8,1149.5 442.5,1149.9 452.2,1150.2 461.9,1150.6 471.7,1150.9 481.4,1151.3 491.1,1151.6 500.8,1152 510.6,1152.3 520.3,1152.7 530,1153" fill="none" stroke="#6cc060" stroke-width="1.6" stroke-linejoin="round"/>
<polyline points="347,1146 348.5,1146.1 350,1146.1 351.5,1146.2 353,1146.2 354.5,1146.3 356,1146.3 357.5,1146.4 359,1146.4 360.5,1146.5 362,1146.5 363.5,1146.6 365,1146.6 366.5,1146.7 368,1146.7 369.5,1146.8 371,1146.9 372.5,1146.9 374,1147 375.5,1147 377,1147.1 378.5,1147.1 380,1147.2 381.5,1147.2 383,1147.2 384.5,1147.3 386,1147.3 387.5,1147.3 389,1147.3 390.5,1147.3 392,1147.2 393.5,1147.2 395,1147 396.5,1146.9 398,1146.6 399.5,1146.2 401,1145.8 402.5,1145.2 404,1144.4 405.5,1143.4 407,1142.1 408.5,1140.6 410,1138.7 411.5,1136.4 413,1133.7 414.5,1130.5 416,1126.8 417.5,1122.5 419,1117.6 420.5,1112.1 422,1105.9 423.5,1099.2 425,1091.8 426.5,1084 428,1075.6 429.5,1066.9 431,1058 432.5,1049 434,1040 435.5,1031.2 437,1022.9 438.5,1015.1 440,1008.1 441.5,1002 443,997 444.5,993.2 446,990.8 447.5,989.6 449,989.9 450.5,991.6 452,994.7 453.5,999 455,1004.4 456.5,1010.9 458,1018.3 459.5,1026.4 461,1035 462.5,1044 464,1053.1 465.5,1062.2 467,1071.2 468.5,1079.9 470,1088.2 471.5,1096 473,1103.3 474.5,1109.9 476,1116 477.5,1121.4 479,1126.2 480.5,1130.4 482,1134.1 483.5,1137.2 485,1139.9 486.5,1142.1 488,1144 489.5,1145.5 491,1146.8 492.5,1147.8 494,1148.7 495.5,1149.3 497,1149.9 498.5,1150.3 500,1150.6 501.5,1150.9 503,1151.1 504.5,1151.3 506,1151.4 507.5,1151.5 509,1151.6 510.5,1151.7 512,1151.8 513.5,1151.9 515,1151.9 516.5,1152 518,1152.1 519.5,1152.1 521,1152.2 522.5,1152.2 524,1152.3 525.5,1152.3 527,1152.4 528.5,1152.4 530,1152.5" fill="none" stroke="#4b48a8" stroke-width="1.8" stroke-linejoin="round"/>
<polyline points="347,1143.1 348.5,1148.9 350,1146.8 351.5,1145.1 353,1148 354.5,1144.4 356,1150.6 357.5,1147.5 359,1146.4 360.5,1148 362,1144.4 363.5,1147.7 365,1148.6 366.5,1148.6 368,1147.8 369.5,1144.9 371,1147.5 372.5,1144.5 374,1147.5 375.5,1146 377,1145.8 378.5,1148.7 380,1151 381.5,1150.1 383,1146.7 384.5,1146.7 386,1145.7 387.5,1146.4 389,1147.7 390.5,1148.3 392,1146.6 393.5,1147.3 395,1145 396.5,1146 398,1149.2 399.5,1148.9 401,1146.8 402.5,1145.4 404,1144.9 405.5,1142.2 407,1140.1 408.5,1141.6 410,1136.8 411.5,1137.3 413,1131.7 414.5,1130.5 416,1129.9 417.5,1123.7 419,1117.5 420.5,1112.6 422,1103.2 423.5,1101 425,1090.5 426.5,1082.5 428,1074.4 429.5,1067.1 431,1056.8 432.5,1047.8 434,1040.9 435.5,1031.6 437,1025.2 438.5,1016.6 440,1010.3 441.5,1000 443,997.2 444.5,994.2 446,992.4 447.5,989.1 449,991.1 450.5,993.7 452,993 453.5,997.4 455,1003 456.5,1011.4 458,1016.3 459.5,1026.5 461,1034.2 462.5,1042.2 464,1049.9 465.5,1066.4 467,1073.5 468.5,1081.8 470,1085.4 471.5,1097.6 473,1102.7 474.5,1107.7 476,1115 477.5,1120.6 479,1129.2 480.5,1130.7 482,1134 483.5,1138.1 485,1140.8 486.5,1139.9 488,1146.1 489.5,1146 491,1148.7 492.5,1150.9 494,1148.1 495.5,1153.6 497,1149.3 498.5,1149.8 500,1146.7 501.5,1153.4 503,1150.8 504.5,1150.3 506,1150.5 507.5,1152.6 509,1153.7 510.5,1153.1 512,1151.4 513.5,1150.7 515,1148.6 516.5,1150.9 518,1152.9 519.5,1151.4 521,1155.7 522.5,1154 524,1151.8 525.5,1153.3 527,1152.8 528.5,1151.1 530,1151.9" fill="none" stroke="#2a2a2a" stroke-width="1.1" stroke-opacity="0.7" stroke-linejoin="round"/>
<polyline points="666,210 675.9,210.4 685.8,210.9 695.6,211.3 705.5,211.8 715.4,212.2 725.3,212.6 735.2,213.1 745,213.5 754.9,214 764.8,214.4 774.7,214.8 784.6,215.3 794.4,215.7 804.3,216.2 814.2,216.6 824.1,217 834,217.5 843.8,217.9 853.7,218.4 863.6,218.8 873.5,219.2 883.4,219.7 893.2,220.1 903.1,220.6 913,221" fill="none" stroke="#5cc8e0" stroke-width="1.6" stroke-linejoin="round"/>
<polyline points="750,214.2 759.6,214.7 769.2,215.1 778.8,215.5 788.4,215.9 797.9,216.4 807.5,216.8 817.1,217.2 826.7,217.7 836.3,218.1 845.9,218.5 855.5,218.9 865.1,219.4 874.6,219.8 884.2,220.2 893.8,220.6 903.4,221.1 913,221.5" fill="none" stroke="#6cc060" stroke-width="1.6" stroke-linejoin="round"/>
<polyline points="700,211.5 701.5,211.6 703,211.6 704.5,211.7 706,211.8 707.5,211.8 709,211.9 710.5,212 712,212 713.5,212.1 715,212.2 716.5,212.2 718,212.3 719.5,212.4 721,212.4 722.5,212.5 724,212.5 725.5,212.6 727,212.6 728.5,212.7 730,212.7 731.5,212.7 733,212.8 734.5,212.8 736,212.8 737.5,212.7 739,212.7 740.5,212.6 742,212.5 743.5,212.4 745,212.2 746.5,211.9 748,211.6 749.5,211.2 751,210.8 752.5,210.2 754,209.6 755.5,208.8 757,207.9 758.5,206.8 760,205.6 761.5,204.2 763,202.7 764.5,201 766,199.2 767.5,197.1 769,194.9 770.5,192.5 772,189.9 773.5,187.1 775,184.2 776.5,181 778,177.6 779.5,174 781,170.1 782.5,165.9 784,161.4 785.5,156.6 787,151.2 788.5,145.5 790,139.2 791.5,132.3 793,125 794.5,117.5 796,110.3 797.5,103.1 799,96 800.5,88.9 802,81.7 803.5,74.6 805,67.4 806.5,60.5 808,54 809.5,48 811,42.9 812.5,39 814,36.3 815.5,35.3 817,35.9 818.5,38.3 820,42.4 821.5,48.2 823,55.6 824.5,64.3 826,74.1 827.5,84.7 829,95.9 830.5,107.4 832,118.9 833.5,130.1 835,140.8 836.5,151 838,160.4 839.5,168.9 841,176.6 842.5,183.4 844,189.3 845.5,194.4 847,198.8 848.5,202.4 850,205.4 851.5,207.8 853,209.8 854.5,211.4 856,212.7 857.5,213.8 859,214.6 860.5,215.2 862,215.7 863.5,216.2 865,216.5 866.5,216.8 868,217 869.5,217.3 871,217.5 872.5,217.6 874,217.8 875.5,218 877,218.1 878.5,218.3 880,218.4 881.5,218.5 883,218.7 884.5,218.8 886,218.9 887.5,219 889,219.2 890.5,219.3 892,219.4 893.5,219.5 895,219.6 896.5,219.7 898,219.8 899.5,219.9 901,220 902.5,220.1 904,220.2 905.5,220.3 907,220.4 908.5,220.5 910,220.6 911.5,220.7 913,220.8" fill="none" stroke="#d03c40" stroke-width="2.2" stroke-opacity="0.95" stroke-linejoin="round"/>
<polyline points="700,211.5 701.5,211.6 703,211.6 704.5,211.7 706,211.8 707.5,211.8 709,211.9 710.5,212 712,212 713.5,212.1 715,212.2 716.5,212.2 718,212.3 719.5,212.4 721,212.4 722.5,212.5 724,212.5 725.5,212.6 727,212.7 728.5,212.7 730,212.8 731.5,212.8 733,212.9 734.5,213 736,213 737.5,213.1 739,213.1 740.5,213.2 742,213.2 743.5,213.2 745,213.3 746.5,213.3 748,213.4 749.5,213.4 751,213.4 752.5,213.4 754,213.5 755.5,213.5 757,213.5 758.5,213.5 760,213.5 761.5,213.4 763,213.4 764.5,213.3 766,213.2 767.5,213.1 769,212.9 770.5,212.6 772,212.3 773.5,211.8 775,211.2 776.5,210.3 778,209.2 779.5,207.9 781,206.1 782.5,203.9 784,201.2 785.5,197.9 787,193.9 788.5,189.2 790,183.6 791.5,177.2 793,169.9 794.5,161.8 796,152.7 797.5,142.9 799,132.4 800.5,121.4 802,110.1 803.5,98.8 805,87.6 806.5,76.9 808,66.9 809.5,58.1 811,50.5 812.5,44.6 814,40.4 815.5,38.1 817,37.8 818.5,39.6 820,43.3 821.5,48.8 823,55.9 824.5,64.5 826,74.2 827.5,84.8 829,96 830.5,107.4 832,118.9 833.5,130.1 835,140.8 836.5,151 838,160.4 839.5,168.9 841,176.6 842.5,183.4 844,189.3 845.5,194.4 847,198.8 848.5,202.4 850,205.4 851.5,207.8 853,209.8 854.5,211.4 856,212.7 857.5,213.8 859,214.6 860.5,215.2 862,215.7 863.5,216.2 865,216.5 866.5,216.8 868,217 869.5,217.3 871,217.5 872.5,217.6 874,217.8 875.5,218 877,218.1 878.5,218.3 880,218.4 881.5,218.5 883,218.7 884.5,218.8 886,218.9 887.5,219 889,219.2 890.5,219.3 892,219.4 893.5,219.5 895,219.6 896.5,219.7 898,219.8 899.5,219.9 901,220 902.5,220.1 904,220.2 905.5,220.3 907,220.4 908.5,220.5 910,220.6 911.5,220.7 913,220.8" fill="none" stroke="#4b48a8" stroke-width="1.7" stroke-linejoin="round"/>
<polyline points="700,211.5 701.5,211.6 703,211.6 704.5,211.7 706,211.8 707.5,211.8 709,211.9 710.5,212 712,212 713.5,212.1 715,212.2 716.5,212.2 718,212.3 719.5,212.4 721,212.4 722.5,212.5 724,212.6 725.5,212.6 727,212.7 728.5,212.7 730,212.8 731.5,212.8 733,212.9 734.5,212.9 736,212.9 737.5,212.9 739,212.8 740.5,212.8 742,212.7 743.5,212.6 745,212.4 746.5,212.2 748,211.9 749.5,211.6 751,211.2 752.5,210.6 754,210 755.5,209.3 757,208.4 758.5,207.5 760,206.3 761.5,205.1 763,203.7 764.5,202.1 766,200.4 767.5,198.6 769,196.6 770.5,194.5 772,192.4 773.5,190.1 775,187.9 776.5,185.6 778,183.4 779.5,181.2 781,179.1 782.5,177.2 784,175.5 785.5,174 787,172.7 788.5,171.7 790,171.1 791.5,170.7 793,170.7 794.5,171.5 796,173.3 797.5,176 799,179.5 800.5,183.4 802,187.6 803.5,191.9 805,196.1 806.5,199.9 808,203.4 809.5,206.3 811,208.9 812.5,210.9 814,212.6 815.5,213.8 817,214.8 818.5,215.5 820,216 821.5,216.4 823,216.6 824.5,216.9 826,217 827.5,217.1 829,217.2 830.5,217.3 832,217.4 833.5,217.5 835,217.5 836.5,217.6 838,217.7 839.5,217.7 841,217.8 842.5,217.9 844,217.9 845.5,218 847,218.1 848.5,218.1 850,218.2 851.5,218.3 853,218.3 854.5,218.4 856,218.5 857.5,218.5 859,218.6 860.5,218.7 862,218.7 863.5,218.8 865,218.9 866.5,218.9 868,219 869.5,219.1 871,219.1 872.5,219.2 874,219.3 875.5,219.3 877,219.4 878.5,219.5 880,219.5 881.5,219.6 883,219.7 884.5,219.7 886,219.8 887.5,219.9 889,219.9 890.5,220 892,220.1 893.5,220.1 895,220.2 896.5,220.3 898,220.3 899.5,220.4 901,220.5 902.5,220.5 904,220.6 905.5,220.7 907,220.7 908.5,220.8 910,220.9 911.5,220.9 913,221" fill="none" stroke="#5cc8e0" stroke-width="1.7" stroke-linejoin="round"/>
<polyline points="666,210.7 667.5,210.1 669,208.4 670.5,211.6 672,210.7 673.5,210.9 675,210.7 676.5,213 678,212 679.5,212.6 681,210.2 682.5,210 684,209.2 685.5,210.5 687,206.6 688.5,213.6 690,211.3 691.4,211.3 692.9,212.6 694.4,210.7 695.9,211.8 697.4,212.7 698.9,209 700.4,214.3 701.9,211.9 703.4,212.7 704.9,210.1 706.4,210.8 707.9,214.6 709.4,211.1 710.9,211.4 712.4,212.9 713.9,214.4 715.4,208.3 716.9,214.6 718.4,212.8 719.9,213.8 721.4,210.8 722.9,213 724.4,215.2 725.9,212.5 727.4,211.7 728.9,212 730.4,211.9 731.9,214.1 733.4,213.1 734.9,212 736.4,214.1 737.9,211 739.4,210.4 740.8,216.6 742.3,211.5 743.8,215 745.3,212 746.8,211.6 748.3,212.4 749.8,209.8 751.3,209.3 752.8,209.8 754.3,208.8 755.8,209.8 757.3,210.8 758.8,204.7 760.3,204 761.8,205.2 763.3,203.3 764.8,202.5 766.3,197.6 767.8,197.7 769.3,194.4 770.8,189.4 772.3,190.2 773.8,184.1 775.3,184.5 776.8,179.7 778.3,176.7 779.8,176.8 781.3,171.9 782.8,165.9 784.3,161.3 785.8,154.5 787.3,152.3 788.8,145.5 790.2,136.7 791.7,128.5 793.2,123.8 794.7,116.1 796.2,110.5 797.7,100.4 799.2,93.5 800.7,88.5 802.2,80.8 803.7,75.1 805.2,68.3 806.7,58.1 808.2,49.3 809.7,47.4 811.2,41.2 812.7,38.9 814.2,31.8 815.7,35.1 817.2,36.3 818.7,37.8 820.2,43.9 821.7,49.3 823.2,57 824.7,67.5 826.2,77.4 827.7,88 829.2,97.9 830.7,108.9 832.2,121 833.7,131.8 835.2,140.8 836.7,152.7 838.2,162.8 839.6,169.1 841.1,175.6 842.6,185 844.1,188.7 845.6,192.5 847.1,198.8 848.6,200.4 850.1,206.2 851.6,207.2 853.1,210.2 854.6,213.4 856.1,214.7 857.6,213.7 859.1,211 860.6,214.5 862.1,213.9 863.6,217.7 865.1,219.1 866.6,218 868.1,218.1 869.6,218.2 871.1,218.6 872.6,217.1 874.1,219.3 875.6,217.5 877.1,216.3 878.6,218.4 880.1,221 881.6,218.3 883.1,215.9 884.6,220.8 886.1,219.3 887.6,220 889,218.5 890.5,220.1 892,222 893.5,218.5 895,220.8 896.5,220.3 898,218.5 899.5,220.3 901,221 902.5,218.8 904,222.1 905.5,218.6 907,222.3 908.5,221.6 910,221.1 911.5,219.5 913,219.6" fill="none" stroke="#2a2a2a" stroke-width="1.0" stroke-opacity="0.45" stroke-linejoin="round"/>
<polyline points="663,439 672.9,439.5 682.8,440 692.6,440.4 702.5,440.9 712.4,441.4 722.3,441.9 732.2,442.4 742,442.8 751.9,443.3 761.8,443.8 771.7,444.3 781.6,444.8 791.4,445.2 801.3,445.7 811.2,446.2 821.1,446.7 831,447.2 840.8,447.6 850.7,448.1 860.6,448.6 870.5,449.1 880.4,449.6 890.2,450 900.1,450.5 910,451" fill="none" stroke="#5cc8e0" stroke-width="1.6" stroke-linejoin="round"/>
<polyline points="740,443.2 750,443.7 760,444.2 770,444.7 780,445.2 790,445.7 800,446.2 810,446.6 820,447.1 830,447.6 840,448.1 850,448.6 860,449.1 870,449.6 880,450 890,450.5 900,451 910,451.5" fill="none" stroke="#6cc060" stroke-width="1.6" stroke-linejoin="round"/>
<polyline points="700,440.8 701.5,440.9 703,440.9 704.5,441 706,441.1 707.5,441.2 709,441.2 710.5,441.3 712,441.4 713.5,441.4 715,441.5 716.5,441.6 718,441.6 719.5,441.7 721,441.8 722.5,441.8 724,441.9 725.5,441.9 727,442 728.5,442 730,442.1 731.5,442.1 733,442.1 734.5,442.1 736,442.1 737.5,442 739,442 740.5,441.9 742,441.7 743.5,441.5 745,441.2 746.5,440.9 748,440.5 749.5,440 751,439.4 752.5,438.6 754,437.8 755.5,436.8 757,435.6 758.5,434.3 760,432.7 761.5,431 763,429.1 764.5,427 766,424.6 767.5,422.1 769,419.2 770.5,416.2 772,412.9 773.5,409.3 775,405.4 776.5,401.2 778,396.7 779.5,391.8 781,386.5 782.5,380.7 784,374.4 785.5,367.7 787,360.4 788.5,352.6 790,344.2 791.5,335.7 793,327.6 794.5,319.7 796,312.1 797.5,304.8 799,297.7 800.5,290.9 802,284.5 803.5,278.6 805,273.4 806.5,269 808,265.7 809.5,263.7 811,263.1 812.5,264.2 814,266.8 815.5,271 817,276.6 818.5,283.7 820,292 821.5,301.4 823,311.5 824.5,322.3 826,333.3 827.5,344.4 829,355.4 830.5,366 832,376.1 833.5,385.5 835,394.2 836.5,402.1 838,409.2 839.5,415.4 841,420.9 842.5,425.6 844,429.6 845.5,432.9 847,435.7 848.5,438 850,439.9 851.5,441.4 853,442.7 854.5,443.6 856,444.4 857.5,445.1 859,445.6 860.5,446 862,446.4 863.5,446.7 865,446.9 866.5,447.2 868,447.4 869.5,447.5 871,447.7 872.5,447.9 874,448 875.5,448.2 877,448.3 878.5,448.5 880,448.6 881.5,448.7 883,448.9 884.5,449 886,449.1 887.5,449.2 889,449.4 890.5,449.5 892,449.6 893.5,449.7 895,449.8 896.5,449.9 898,450 899.5,450.1 901,450.2 902.5,450.3 904,450.4 905.5,450.5 907,450.6 908.5,450.7 910,450.8" fill="none" stroke="#d03c40" stroke-width="2.2" stroke-opacity="0.95" stroke-linejoin="round"/>
<polyline points="700,440.8 701.5,440.9 703,440.9 704.5,441 706,441.1 707.5,441.2 709,441.2 710.5,441.3 712,441.4 713.5,441.4 715,441.5 716.5,441.6 718,441.6 719.5,441.7 721,441.8 722.5,441.8 724,441.9 725.5,442 727,442 728.5,442.1 730,442.2 731.5,442.2 733,442.3 734.5,442.3 736,442.4 737.5,442.4 739,442.5 740.5,442.5 742,442.6 743.5,442.6 745,442.7 746.5,442.7 748,442.7 749.5,442.7 751,442.8 752.5,442.8 754,442.8 755.5,442.8 757,442.7 758.5,442.7 760,442.6 761.5,442.6 763,442.4 764.5,442.2 766,442 767.5,441.6 769,441.2 770.5,440.5 772,439.7 773.5,438.6 775,437.2 776.5,435.5 778,433.3 779.5,430.6 781,427.3 782.5,423.3 784,418.6 785.5,413.1 787,406.7 788.5,399.4 790,391.2 791.5,382.2 793,372.4 794.5,361.9 796,350.9 797.5,339.6 799,328.3 800.5,317.1 802,306.4 803.5,296.4 805,287.6 806.5,280 808,274.1 809.5,269.9 811,267.6 812.5,267.4 814,269 815.5,272.4 817,277.6 818.5,284.3 820,292.4 821.5,301.6 823,311.7 824.5,322.3 826,333.4 827.5,344.4 829,355.4 830.5,366 832,376.1 833.5,385.5 835,394.2 836.5,402.1 838,409.2 839.5,415.4 841,420.9 842.5,425.6 844,429.6 845.5,432.9 847,435.7 848.5,438 850,439.9 851.5,441.4 853,442.7 854.5,443.6 856,444.4 857.5,445.1 859,445.6 860.5,446 862,446.4 863.5,446.7 865,446.9 866.5,447.2 868,447.4 869.5,447.5 871,447.7 872.5,447.9 874,448 875.5,448.2 877,448.3 878.5,448.5 880,448.6 881.5,448.7 883,448.9 884.5,449 886,449.1 887.5,449.2 889,449.4 890.5,449.5 892,449.6 893.5,449.7 895,449.8 896.5,449.9 898,450 899.5,450.1 901,450.2 902.5,450.3 904,450.4 905.5,450.5 907,450.6 908.5,450.7 910,450.8" fill="none" stroke="#4b48a8" stroke-width="1.7" stroke-linejoin="round"/>
<polyline points="700,440.8 701.5,440.9 703,440.9 704.5,441 706,441.1 707.5,441.2 709,441.2 710.5,441.3 712,441.4 713.5,441.5 715,441.5 716.5,441.6 718,441.7 719.5,441.7 721,441.8 722.5,441.9 724,441.9 725.5,442 727,442.1 728.5,442.1 730,442.2 731.5,442.2 733,442.2 734.5,442.2 736,442.2 737.5,442.2 739,442.2 740.5,442.1 742,442 743.5,441.8 745,441.6 746.5,441.3 748,440.9 749.5,440.5 751,439.9 752.5,439.2 754,438.4 755.5,437.5 757,436.4 758.5,435.2 760,433.8 761.5,432.3 763,430.5 764.5,428.7 766,426.7 767.5,424.5 769,422.2 770.5,419.9 772,417.5 773.5,415 775,412.6 776.5,410.2 778,408 779.5,405.8 781,403.9 782.5,402.2 784,400.7 785.5,399.6 787,398.8 788.5,398.3 790,398.2 791.5,398.8 793,400.5 794.5,403.2 796,406.6 797.5,410.7 799,415 800.5,419.5 802,423.9 803.5,428 805,431.7 806.5,434.9 808,437.6 809.5,439.9 811,441.7 812.5,443.1 814,444.1 815.5,444.9 817,445.5 818.5,445.9 820,446.2 821.5,446.5 823,446.6 824.5,446.8 826,446.9 827.5,447 829,447.1 830.5,447.1 832,447.2 833.5,447.3 835,447.4 836.5,447.4 838,447.5 839.5,447.6 841,447.6 842.5,447.7 844,447.8 845.5,447.9 847,447.9 848.5,448 850,448.1 851.5,448.2 853,448.2 854.5,448.3 856,448.4 857.5,448.4 859,448.5 860.5,448.6 862,448.7 863.5,448.7 865,448.8 866.5,448.9 868,449 869.5,449 871,449.1 872.5,449.2 874,449.3 875.5,449.3 877,449.4 878.5,449.5 880,449.5 881.5,449.6 883,449.7 884.5,449.8 886,449.8 887.5,449.9 889,450 890.5,450.1 892,450.1 893.5,450.2 895,450.3 896.5,450.3 898,450.4 899.5,450.5 901,450.6 902.5,450.6 904,450.7 905.5,450.8 907,450.9 908.5,450.9 910,451" fill="none" stroke="#5cc8e0" stroke-width="1.7" stroke-linejoin="round"/>
<polyline points="663,439.9 664.5,439.6 666,438.1 667.5,442.3 669,436.9 670.5,439.4 672,440.9 673.5,440.6 675,440.6 676.5,438.1 678,442.6 679.5,438.7 681,439.8 682.5,440 684,440 685.5,439.3 687,442.6 688.4,440.4 689.9,441.9 691.4,438 692.9,441.4 694.4,440.2 695.9,441.3 697.4,441 698.9,441.5 700.4,440.7 701.9,441 703.4,441.2 704.9,441.4 706.4,441.2 707.9,440.6 709.4,442 710.9,440 712.4,444.6 713.9,442.8 715.4,443.9 716.9,441.4 718.4,439.7 719.9,439.4 721.4,440.6 722.9,440.9 724.4,441.3 725.9,441.4 727.4,443 728.9,438.4 730.4,444.7 731.9,441.6 733.4,442.4 734.9,439.4 736.4,442.5 737.8,439.8 739.3,442.7 740.8,442.3 742.3,442 743.8,441.2 745.3,440.8 746.8,440.3 748.3,441.8 749.8,440 751.3,439.6 752.8,442.2 754.3,437.7 755.8,435.2 757.3,431.9 758.8,430.2 760.3,432.6 761.8,432 763.3,427.1 764.8,424.8 766.3,423.9 767.8,421.8 769.3,420.1 770.8,415.4 772.3,411.2 773.8,409.6 775.3,403.2 776.8,398.2 778.3,394.1 779.8,390.4 781.3,384.8 782.8,379.7 784.3,373.4 785.8,370.1 787.2,359.8 788.7,347.9 790.2,340.6 791.7,334.7 793.2,325 794.7,321.8 796.2,310.3 797.7,303.1 799.2,296.8 800.7,289.6 802.2,284.4 803.7,277.4 805.2,273.1 806.7,267.5 808.2,261.2 809.7,264.1 811.2,265.7 812.7,262.9 814.2,266.4 815.7,272.8 817.2,276.6 818.7,284.8 820.2,292.7 821.7,303.5 823.2,312.6 824.7,326.6 826.2,334.6 827.7,345.2 829.2,354.3 830.7,367.2 832.2,375.7 833.7,387.4 835.2,395.9 836.6,406.9 838.1,408.6 839.6,416.2 841.1,423 842.6,422.9 844.1,430.9 845.6,436 847.1,436 848.6,438.1 850.1,441.9 851.6,442 853.1,443.2 854.6,445 856.1,443.3 857.6,448.1 859.1,445.1 860.6,446.1 862.1,445.8 863.6,442.7 865.1,444.5 866.6,446.6 868.1,447.4 869.6,449.3 871.1,451.8 872.6,449 874.1,447.9 875.6,447.2 877.1,450.5 878.6,447.5 880.1,448.6 881.6,450.8 883.1,448.7 884.6,448.8 886,449.4 887.5,446.7 889,449.2 890.5,449.8 892,450.2 893.5,449.2 895,446.5 896.5,448.7 898,451.2 899.5,448.9 901,448.9 902.5,451.2 904,451.3 905.5,450.8 907,451.6 908.5,452 910,451.6" fill="none" stroke="#2a2a2a" stroke-width="1.0" stroke-opacity="0.45" stroke-linejoin="round"/>
<polyline points="690,674 700,674.3 710,674.5 720,674.8 730,675 740,675.3 750,675.6 760,675.8 770,676.1 780,676.3 790,676.6 800,676.9 810,677.1 820,677.4 830,677.7 840,677.9 850,678.2 860,678.4 870,678.7 880,679 890,679.2 900,679.5 910,679.7 920,680" fill="none" stroke="#5cc8e0" stroke-width="1.6" stroke-linejoin="round"/>
<polyline points="730,675.5 740,675.8 750,676.1 760,676.3 770,676.6 780,676.8 790,677.1 800,677.4 810,677.6 820,677.9 830,678.2 840,678.4 850,678.7 860,678.9 870,679.2 880,679.5 890,679.7 900,680" fill="none" stroke="#6cc060" stroke-width="1.6" stroke-linejoin="round"/>
<polyline points="700,674.3 701.5,674.3 703,674.3 704.5,674.4 706,674.4 707.5,674.4 709,674.5 710.5,674.5 712,674.6 713.5,674.6 715,674.6 716.5,674.6 718,674.7 719.5,674.7 721,674.7 722.4,674.7 723.9,674.7 725.4,674.7 726.9,674.7 728.4,674.7 729.9,674.7 731.4,674.6 732.9,674.5 734.4,674.3 735.9,674.2 737.4,673.9 738.9,673.6 740.4,673.2 741.9,672.7 743.4,672.2 744.9,671.5 746.4,670.6 747.9,669.7 749.4,668.5 750.9,667.2 752.4,665.7 753.9,664 755.4,662.2 756.9,660.1 758.4,657.9 759.9,655.4 761.4,652.9 762.9,650.1 764.4,647.3 765.9,644.3 767.3,641.3 768.8,638.2 770.3,635.1 771.8,631.9 773.3,628.7 774.8,625.4 776.3,622 777.8,618.5 779.3,614.8 780.8,610.8 782.3,606.8 783.8,603 785.3,599.3 786.8,595.5 788.3,591.3 789.8,586.7 791.3,581.4 792.8,575.3 794.3,568.5 795.8,560.9 797.3,552.7 798.8,544.2 800.3,535.5 801.8,527 803.3,519 804.8,511.9 806.3,505.9 807.8,501.4 809.3,498.6 810.7,497.6 812.2,498.5 813.7,501.1 815.2,505.5 816.7,511.4 818.2,518.8 819.7,527.4 821.2,537.1 822.7,547.4 824.2,558.2 825.7,569.2 827.2,580.2 828.7,591 830.2,601.3 831.7,611 833.2,620.1 834.7,628.4 836.2,635.8 837.7,642.5 839.2,648.3 840.7,653.4 842.2,657.7 843.7,661.3 845.2,664.4 846.7,666.9 848.2,669 849.7,670.7 851.2,672 852.7,673.1 854.1,674 855.6,674.6 857.1,675.2 858.6,675.6 860.1,676 861.6,676.3 863.1,676.5 864.6,676.7 866.1,676.9 867.6,677.1 869.1,677.2 870.6,677.4 872.1,677.5 873.6,677.6 875.1,677.7 876.6,677.8 878.1,677.9 879.6,678 881.1,678.1 882.6,678.2 884.1,678.3 885.6,678.4 887.1,678.5 888.6,678.6 890.1,678.7 891.6,678.7 893.1,678.8 894.6,678.9 896.1,679 897.6,679 899,679.1 900.5,679.2 902,679.2 903.5,679.3 905,679.4 906.5,679.4 908,679.5 909.5,679.5 911,679.6 912.5,679.6 914,679.7 915.5,679.8 917,679.8 918.5,679.9 920,679.9" fill="none" stroke="#d03c40" stroke-width="2.2" stroke-opacity="0.95" stroke-linejoin="round"/>
<polyline points="700,674.3 701.5,674.3 703,674.3 704.5,674.4 706,674.4 707.5,674.4 709,674.5 710.5,674.5 712,674.6 713.5,674.6 715,674.6 716.5,674.7 718,674.7 719.5,674.7 721,674.8 722.4,674.8 723.9,674.8 725.4,674.9 726.9,674.9 728.4,674.9 729.9,674.9 731.4,675 732.9,675 734.4,675 735.9,675 737.4,675 738.9,675.1 740.4,675.1 741.9,675.1 743.4,675.1 744.9,675.1 746.4,675.1 747.9,675.1 749.4,675.1 750.9,675 752.4,675 753.9,675 755.4,674.9 756.9,674.9 758.4,674.8 759.9,674.7 761.4,674.5 762.9,674.3 764.4,674.1 765.9,673.7 767.3,673.3 768.8,672.7 770.3,671.9 771.8,670.9 773.3,669.7 774.8,668.1 776.3,666.1 777.8,663.6 779.3,660.5 780.8,656.8 782.3,652.4 783.8,647.3 785.3,641.2 786.8,634.3 788.3,626.6 789.8,617.9 791.3,608.4 792.8,598.3 794.3,587.5 795.8,576.3 797.3,564.9 798.8,553.6 800.3,542.6 801.8,532.3 803.3,522.9 804.8,514.6 806.3,507.8 807.8,502.7 809.3,499.5 810.7,498.2 812.2,498.8 813.7,501.3 815.2,505.6 816.7,511.5 818.2,518.9 819.7,527.5 821.2,537.1 822.7,547.4 824.2,558.2 825.7,569.2 827.2,580.2 828.7,591 830.2,601.3 831.7,611 833.2,620.1 834.7,628.4 836.2,635.8 837.7,642.5 839.2,648.3 840.7,653.4 842.2,657.7 843.7,661.3 845.2,664.4 846.7,666.9 848.2,669 849.7,670.7 851.2,672 852.7,673.1 854.1,674 855.6,674.6 857.1,675.2 858.6,675.6 860.1,676 861.6,676.3 863.1,676.5 864.6,676.7 866.1,676.9 867.6,677.1 869.1,677.2 870.6,677.4 872.1,677.5 873.6,677.6 875.1,677.7 876.6,677.8 878.1,677.9 879.6,678 881.1,678.1 882.6,678.2 884.1,678.3 885.6,678.4 887.1,678.5 888.6,678.6 890.1,678.7 891.6,678.7 893.1,678.8 894.6,678.9 896.1,679 897.6,679 899,679.1 900.5,679.2 902,679.2 903.5,679.3 905,679.4 906.5,679.4 908,679.5 909.5,679.5 911,679.6 912.5,679.6 914,679.7 915.5,679.8 917,679.8 918.5,679.9 920,679.9" fill="none" stroke="#4b48a8" stroke-width="1.7" stroke-linejoin="round"/>
<polyline points="700,674.3 701.5,674.3 703,674.3 704.5,674.4 706,674.4 707.5,674.5 709,674.5 710.5,674.5 712,674.6 713.5,674.6 715,674.6 716.5,674.7 718,674.7 719.5,674.7 721,674.8 722.4,674.8 723.9,674.8 725.4,674.8 726.9,674.8 728.4,674.8 729.9,674.8 731.4,674.7 732.9,674.6 734.4,674.5 735.9,674.3 737.4,674.1 738.9,673.8 740.4,673.5 741.9,673 743.4,672.5 744.9,671.8 746.4,671 747.9,670.1 749.4,669 750.9,667.8 752.4,666.3 753.9,664.7 755.4,662.9 756.9,661 758.4,658.9 759.9,656.6 761.4,654.2 762.9,651.7 764.4,649.2 765.9,646.6 767.3,644.1 768.8,641.6 770.3,639.3 771.8,637.1 773.3,635.2 774.8,633.5 776.3,632.2 777.8,631.2 779.3,630.6 780.8,630.4 782.3,630.8 783.8,632.2 785.3,634.6 786.8,637.7 788.3,641.3 789.8,645.4 791.3,649.6 792.8,653.7 794.3,657.7 795.8,661.3 797.3,664.6 798.8,667.4 800.3,669.7 801.8,671.6 803.3,673.1 804.8,674.3 806.3,675.1 807.8,675.8 809.3,676.3 810.7,676.6 812.2,676.8 813.7,677 815.2,677.1 816.7,677.2 818.2,677.3 819.7,677.4 821.2,677.4 822.7,677.5 824.2,677.5 825.7,677.5 827.2,677.6 828.7,677.6 830.2,677.7 831.7,677.7 833.2,677.7 834.7,677.8 836.2,677.8 837.7,677.9 839.2,677.9 840.7,677.9 842.2,678 843.7,678 845.2,678 846.7,678.1 848.2,678.1 849.7,678.2 851.2,678.2 852.7,678.2 854.1,678.3 855.6,678.3 857.1,678.4 858.6,678.4 860.1,678.4 861.6,678.5 863.1,678.5 864.6,678.6 866.1,678.6 867.6,678.6 869.1,678.7 870.6,678.7 872.1,678.8 873.6,678.8 875.1,678.8 876.6,678.9 878.1,678.9 879.6,678.9 881.1,679 882.6,679 884.1,679.1 885.6,679.1 887.1,679.1 888.6,679.2 890.1,679.2 891.6,679.3 893.1,679.3 894.6,679.3 896.1,679.4 897.6,679.4 899,679.5 900.5,679.5 902,679.5 903.5,679.6 905,679.6 906.5,679.6 908,679.7 909.5,679.7 911,679.8 912.5,679.8 914,679.8 915.5,679.9 917,679.9 918.5,680 920,680" fill="none" stroke="#5cc8e0" stroke-width="1.7" stroke-linejoin="round"/>
<polyline points="690,672.1 691.5,673.1 693,674.6 694.5,673 696,672.3 697.5,671.6 699,675 700.5,673.7 701.9,673.1 703.4,672.6 704.9,670.5 706.4,674.3 707.9,672.9 709.4,674.2 710.9,676.5 712.4,673.8 713.9,674.2 715.4,675.9 716.9,674.2 718.4,674.7 719.9,672.8 721.4,673.2 722.9,672.1 724.4,676 725.8,676.5 727.3,673.9 728.8,674.4 730.3,674 731.8,678.5 733.3,675.9 734.8,674.1 736.3,675.1 737.8,675.8 739.3,672 740.8,674.1 742.3,673.5 743.8,672.1 745.3,672.5 746.8,672.2 748.2,669.5 749.7,667.7 751.2,668.3 752.7,665.6 754.2,664.3 755.7,664.7 757.2,660.2 758.7,657.3 760.2,653 761.7,652.9 763.2,650.1 764.7,647.6 766.2,644.6 767.7,641.8 769.2,638 770.6,634.7 772.1,632.2 773.6,627 775.1,623.3 776.6,619.9 778.1,618 779.6,611.5 781.1,609.4 782.6,605.9 784.1,602.9 785.6,597.2 787.1,594.9 788.6,590.7 790.1,585 791.6,580.5 793.1,574 794.5,565.6 796,559.1 797.5,550 799,545.6 800.5,533.8 802,524.8 803.5,515.7 805,510.9 806.5,505.8 808,501 809.5,496.4 811,496.2 812.5,497.2 814,502 815.5,505.1 816.9,512.4 818.4,522.7 819.9,526 821.4,538.1 822.9,548.9 824.4,557.5 825.9,572.3 827.4,581.3 828.9,592.9 830.4,603.5 831.9,614.3 833.4,620.2 834.9,628.4 836.4,634.8 837.9,641.4 839.4,651.7 840.8,653.3 842.3,655.6 843.8,662.8 845.3,667.4 846.8,665.8 848.3,669.2 849.8,668.8 851.3,669.2 852.8,673 854.3,672.3 855.8,673 857.3,675.3 858.8,676.3 860.3,675.8 861.8,678.3 863.2,675.7 864.7,676.3 866.2,678.3 867.7,680.5 869.2,680.3 870.7,678.9 872.2,677.8 873.7,675.7 875.2,680 876.7,677.8 878.2,681.5 879.7,678.2 881.2,675.3 882.7,680 884.2,678.6 885.6,677.6 887.1,678.8 888.6,678.6 890.1,679.2 891.6,676.1 893.1,678.9 894.6,679.6 896.1,677.2 897.6,681 899.1,678.9 900.6,676.2 902.1,681.7 903.6,678.8 905.1,679.5 906.6,679.2 908.1,682.5 909.5,679.7 911,678.6 912.5,678.7 914,680.6 915.5,680.7 917,678.9 918.5,681.3 920,678.9" fill="none" stroke="#2a2a2a" stroke-width="1.0" stroke-opacity="0.45" stroke-linejoin="round"/>
<polyline points="668,894 677.7,894.4 687.3,894.8 697,895.1 706.7,895.5 716.3,895.9 726,896.3 735.7,896.6 745.3,897 755,897.4 764.7,897.8 774.3,898.2 784,898.5 793.7,898.9 803.3,899.3 813,899.7 822.7,900 832.3,900.4 842,900.8 851.7,901.2 861.3,901.6 871,901.9 880.7,902.3 890.3,902.7 900,903.1" fill="none" stroke="#5cc8e0" stroke-width="2.2" stroke-linejoin="round"/>
<polyline points="745,896 754.7,896.4 764.4,896.9 774.1,897.3 783.8,897.7 793.4,898.2 803.1,898.6 812.8,899.1 822.5,899.5 832.2,899.9 841.9,900.4 851.6,900.8 861.2,901.3 870.9,901.7 880.6,902.1 890.3,902.6 900,903" fill="none" stroke="#6cc060" stroke-width="1.6" stroke-linejoin="round"/>
<polyline points="740,896.5 741.5,896.4 743,896.4 744.5,896.3 746,896.2 747.5,896 749,895.8 750.5,895.4 752,895 753.5,894.5 755,893.8 756.4,893 757.9,892 759.4,890.9 760.9,889.5 762.4,887.9 763.9,886.1 765.4,884 766.9,881.7 768.4,879.1 769.9,876.3 771.4,873.2 772.9,869.8 774.4,866 775.9,862 777.4,857.6 778.9,852.8 780.4,847.5 781.9,841.8 783.4,835.9 784.9,829.8 786.4,823.6 787.9,817.1 789.3,810.1 790.8,802.5 792.3,794.3 793.8,785.4 795.3,776.1 796.8,766.5 798.3,756.9 799.8,747.6 801.3,738.9 802.8,731.2 804.3,724.7 805.8,719.7 807.3,716.3 808.8,714.8 810.3,715.3 811.8,717.6 813.3,722 814.8,728 816.3,735.7 817.8,744.8 819.3,754.9 820.7,765.8 822.2,777.3 823.7,789 825.2,800.6 826.7,812 828.2,822.9 829.7,833.2 831.2,842.7 832.7,851.4 834.2,859.1 835.7,866 837.2,872.1 838.7,877.2 840.2,881.6 841.7,885.3 843.2,888.4 844.7,890.9 846.2,893 847.7,894.7 849.2,896 850.7,897 852.1,897.9 853.6,898.5 855.1,899.1 856.6,899.5 858.1,899.8 859.6,900.1 861.1,900.3 862.6,900.5 864.1,900.7 865.6,900.8 867.1,901 868.6,901.1 870.1,901.2 871.6,901.3 873.1,901.4 874.6,901.5 876.1,901.6 877.6,901.7 879.1,901.8 880.6,901.9 882.1,902 883.6,902.1 885,902.2 886.5,902.3 888,902.4 889.5,902.4 891,902.5 892.5,902.6 894,902.7 895.5,902.8 897,902.8 898.5,902.9 900,903" fill="none" stroke="#d03c40" stroke-width="2.2" stroke-opacity="0.95" stroke-linejoin="round"/>
<polyline points="740,896.6 741.5,896.6 743,896.7 744.5,896.7 746,896.7 747.5,896.7 749,896.7 750.5,896.7 752,896.7 753.5,896.7 755,896.7 756.4,896.6 757.9,896.5 759.4,896.3 760.9,896.1 762.4,895.8 763.9,895.4 765.4,894.9 766.9,894.2 768.4,893.3 769.9,892.2 771.4,890.7 772.9,888.9 774.4,886.6 775.9,883.8 777.4,880.5 778.9,876.4 780.4,871.7 781.9,866.1 783.4,859.7 784.9,852.5 786.4,844.4 787.9,835.5 789.3,825.9 790.8,815.5 792.3,804.7 793.8,793.4 795.3,782.1 796.8,770.8 798.3,759.9 799.8,749.6 801.3,740.2 802.8,732 804.3,725.2 805.8,719.9 807.3,716.5 808.8,714.9 810.3,715.3 811.8,717.7 813.3,722 814.8,728.1 816.3,735.7 817.8,744.8 819.3,754.9 820.7,765.8 822.2,777.3 823.7,789 825.2,800.6 826.7,812 828.2,822.9 829.7,833.2 831.2,842.7 832.7,851.4 834.2,859.1 835.7,866 837.2,872.1 838.7,877.2 840.2,881.6 841.7,885.3 843.2,888.4 844.7,890.9 846.2,893 847.7,894.7 849.2,896 850.7,897 852.1,897.9 853.6,898.5 855.1,899.1 856.6,899.5 858.1,899.8 859.6,900.1 861.1,900.3 862.6,900.5 864.1,900.7 865.6,900.8 867.1,901 868.6,901.1 870.1,901.2 871.6,901.3 873.1,901.4 874.6,901.5 876.1,901.6 877.6,901.7 879.1,901.8 880.6,901.9 882.1,902 883.6,902.1 885,902.2 886.5,902.3 888,902.4 889.5,902.4 891,902.5 892.5,902.6 894,902.7 895.5,902.8 897,902.8 898.5,902.9 900,903" fill="none" stroke="#4b48a8" stroke-width="1.7" stroke-linejoin="round"/>
<polyline points="700,895.3 701.5,895.3 703,895.4 704.5,895.4 706,895.5 707.5,895.5 709,895.6 710.4,895.7 711.9,895.7 713.4,895.8 714.9,895.8 716.4,895.9 717.9,896 719.4,896 720.9,896.1 722.4,896.1 723.9,896.2 725.4,896.2 726.9,896.3 728.4,896.4 729.9,896.4 731.3,896.5 732.8,896.5 734.3,896.6 735.8,896.6 737.3,896.6 738.8,896.7 740.3,896.7 741.8,896.7 743.3,896.6 744.8,896.6 746.3,896.5 747.8,896.3 749.3,896.1 750.7,895.9 752.2,895.5 753.7,895 755.2,894.5 756.7,893.7 758.2,892.9 759.7,891.9 761.2,890.8 762.7,889.6 764.2,888.2 765.7,886.7 767.2,885.1 768.7,883.5 770.1,881.8 771.6,880.3 773.1,878.8 774.6,877.4 776.1,876.2 777.6,875.3 779.1,874.6 780.6,874.2 782.1,874.2 783.6,874.8 785.1,876.1 786.6,878.1 788.1,880.6 789.6,883.4 791,886.2 792.5,888.8 794,891.2 795.5,893.3 797,895 798.5,896.3 800,897.3 801.5,898 803,898.5 804.5,898.9 806,899.1 807.5,899.3 809,899.4 810.4,899.5 811.9,899.6 813.4,899.7 814.9,899.7 816.4,899.8 817.9,899.9 819.4,899.9 820.9,900 822.4,900 823.9,900.1 825.4,900.2 826.9,900.2 828.4,900.3 829.9,900.3 831.3,900.4 832.8,900.4 834.3,900.5 835.8,900.6 837.3,900.6 838.8,900.7 840.3,900.7 841.8,900.8 843.3,900.9 844.8,900.9 846.3,901 847.8,901 849.3,901.1 850.7,901.1 852.2,901.2 853.7,901.3 855.2,901.3 856.7,901.4 858.2,901.4 859.7,901.5 861.2,901.6 862.7,901.6 864.2,901.7 865.7,901.7 867.2,901.8 868.7,901.8 870.1,901.9 871.6,902 873.1,902 874.6,902.1 876.1,902.1 877.6,902.2 879.1,902.3 880.6,902.3 882.1,902.4 883.6,902.4 885.1,902.5 886.6,902.5 888.1,902.6 889.6,902.7 891,902.7 892.5,902.8 894,902.8 895.5,902.9 897,903 898.5,903 900,903.1" fill="none" stroke="#5cc8e0" stroke-width="1.7" stroke-linejoin="round"/>
<polyline points="740,894.5 741.5,896.1 743,898.2 744.5,893.6 746,897.2 747.5,895 749,897.2 750.5,894.9 752,894.8 753.5,895.1 755,893 756.4,892.9 757.9,891.7 759.4,892.9 760.9,889.9 762.4,885.4 763.9,886.6 765.4,884.3 766.9,881.7 768.4,881 769.9,877.7 771.4,870.9 772.9,871.6 774.4,865.2 775.9,861.2 777.4,856.6 778.9,852.4 780.4,848.5 781.9,839.8 783.4,835.4 784.9,828.5 786.4,823 787.9,816.1 789.3,810.6 790.8,803.3 792.3,792.5 793.8,785.4 795.3,773.4 796.8,766.4 798.3,757.7 799.8,747 801.3,742.1 802.8,731.6 804.3,723.2 805.8,719.9 807.3,715 808.8,715.3 810.3,714.8 811.8,717.4 813.3,717.8 814.8,726.6 816.3,736.5 817.8,745.6 819.3,755.8 820.7,766 822.2,778.5 823.7,790.1 825.2,801.2 826.7,813.5 828.2,824 829.7,832.3 831.2,843.3 832.7,852.6 834.2,858.7 835.7,862.9 837.2,871.4 838.7,877.4 840.2,877.8 841.7,883 843.2,886.5 844.7,893.2 846.2,894 847.7,894 849.2,897.1 850.7,897.3 852.1,895.4 853.6,897.8 855.1,900.2 856.6,898.8 858.1,903.3 859.6,899.2 861.1,899.5 862.6,900 864.1,900.6 865.6,900.6 867.1,902.7 868.6,904 870.1,900.7 871.6,898.9 873.1,900.7 874.6,901.5 876.1,904 877.6,902.6 879.1,901.8 880.6,905.9 882.1,900.2 883.6,900.3 885,904.2 886.5,903.1 888,902.3 889.5,900.5 891,903 892.5,902.9 894,901.5 895.5,902.8 897,900.5 898.5,904.4 900,901.1" fill="none" stroke="#2a2a2a" stroke-width="1.0" stroke-opacity="0.45" stroke-linejoin="round"/>
<polyline points="668,899.3 669.5,901.2 671,900.7 672.4,900.2 673.9,899.7 675.4,899.6 676.9,899.3 678.4,900.2 679.8,898.6 681.3,901.8 682.8,901.5 684.3,900 685.8,901.3 687.2,901.5 688.7,899.4 690.2,898.5 691.7,900.9 693.2,897.6 694.6,900.9 696.1,900.2 697.6,898.5 699.1,896.3 700.6,900 702,900.5 703.5,900.1 705,895.7 706.5,900 708,899.9 709.4,899.5 710.9,898.2 712.4,897.2 713.9,901.5 715.4,899.4 716.8,897.3 718.3,901.1 719.8,897.7 721.3,900.3 722.8,897.5 724.2,899.1 725.7,899.2 727.2,902.3 728.7,897.7 730.2,898.2 731.6,901.2 733.1,901.3 734.6,899.7 736.1,898.6 737.6,898.6 739,897.1 740.5,901 742,900.5" fill="none" stroke="#2a2a2a" stroke-width="1.4" stroke-linejoin="round"/>
<polyline points="668,909.5 669.5,908.6 671,909.8 672.5,911.8 674,911.1 675.5,911.2 677,909.4 678.5,910.5 680,912 681.5,912.5 683,909.7 684.5,911.8 686,914.5 687.5,912.6 689,913.2 690.5,914.1 692,910.8 693.5,912.7 695,913.3 696.5,913.9 698,914.6 699.5,914.1 701,912.6 702.5,913.2 704,913.5 705.5,913.7 707,913.6 708.5,914.3 710,911.4 711.5,913.2 713,914.1 714.5,913 716,913.5 717.5,911.5 719,911.3 720.5,909.2 722,911.9 723.5,911.5 725,912.3 726.5,911.5 728,910.1 729.5,910.3 731,908.7 732.5,910.8 734,909.7 735.5,909.8 737,910.2 738.5,909.5 740,910.9 741.5,906.9 743,908.9 744.5,906.1 746,907.4 747.5,907.5 749,905.6 750.5,907 752,906.4 753.5,904.8 755,905.6 756.5,904.8 758,904.2 759.5,904.1 761,901.9 762.5,905.8 764,905.4 765.5,905.1 767,904.4 768.5,902.4 770,904.6 771.5,904.3 773,904.2 774.5,904.5 776,905.4 777.5,906.5 779,907.9 780.5,905.2 782,908.7 783.5,906.3 785,906.2 786.5,905.4 788,902.6 789.5,903.4 791,902.5 792.5,901.3 794,901 795.5,899.9 797,900.1 798.5,900 800,901.1 801.5,905.3 803,907.7 804.5,909.3 806,911 807.5,912.9 809,909.6 810.5,907.4 812,908.5 813.5,905.8 815,905.2 816.5,906.1 818,902.8 819.5,906.7 821,904.3 822.5,903.3 824,903.8 825.5,904.6 827,904.8 828.5,904.2 830,904 831.5,904.1 833,904.5 834.5,905.8 836,905.3 837.5,906.1 839,905.1 840.5,905.1 842,905.4 843.5,905.6 845,906.3 846.5,904.8 848,905.2 849.5,904.7 851,907.9 852.5,909.1 854,906.6 855.5,908.6 857,906.7 858.5,908.7 860,908.9 861.5,908.4 863,909.7 864.5,908.3 866,909.1 867.5,911 869,910.2 870.5,907.1 872,907.3 873.5,909.9 875,908.1 876.5,904.7 878,907.3 879.5,902.9 881,905.3 882.5,907.2 884,907.3 885.5,906 887,906.3 888.5,907.4 890,908.2 891.5,907 893,907.9 894.5,906.8" fill="none" stroke="#d35fc8" stroke-width="1.4" stroke-linejoin="round"/>
<polyline points="677,1130 686.8,1129.6 696.5,1129.2 706.2,1128.8 716,1128.4 725.8,1128 735.5,1127.6 745.2,1127.2 755,1126.8 764.8,1126.4 774.5,1126 784.2,1125.6 794,1125.2 803.8,1123.3 813.5,1123 823.2,1122.6 833,1122.3 842.8,1122 852.5,1121.7 862.2,1121.3 872,1121" fill="none" stroke="#6cc060" stroke-width="1.6" stroke-linejoin="round"/>
<polyline points="677,1130 685.6,1129.6 694.2,1129.3 702.8,1128.9 711.4,1128.6 720,1128.2" fill="none" stroke="#3a6ac8" stroke-width="1.6" stroke-linejoin="round"/>
<polyline points="677,1101.3 678.1,1128.5 679.7,1121 681.3,1151.7 682.5,1119.9 683.4,1122.3 684.4,1118.2 686.1,1136.5 687.9,1098.4 689.2,1128.4 690.6,1136.5 692.3,1118.1 693.3,1139.6 694.3,1103.5 696,1122.2 697.8,1118.8 699.6,1122.5 700.6,1119.7 701.9,1124.4 703.4,1118.3 704.8,1140.2 706.2,1093.8 707.8,1121 708.7,1119.6 709.9,1126.2 711.6,1115.2 713.5,1132.8 715.2,1112.8 716.9,1124.6 718.5,1124.4 720.2,1119.9 721.2,1127.4 722.5,1119.7 723.9,1127.4 724.7,1109.9 725.8,1126.8 727,1123.9 727.9,1118.7 729.3,1138.4 730.4,1090.5 731.8,1135.1 733.2,1095 734.8,1126.7 736.5,1113.9 737.4,1135.6 738.5,1103.6 739.7,1123.9 740.6,1118.4 741.7,1122.9 743,1119.7 744.4,1103.1 745.2,1109.7 746.3,1125.9 747.7,1093.9 749.2,1126.6 751,1098.1 752.1,1141.4 753.8,1094.3 754.9,1108.2 756.3,1114.4 758.2,1096.5 759.3,1114.3 760.8,1101.7 762.3,1070.9 763.5,1090.4 764.6,1083.2 765.7,1084.5 767,1071 768.5,1076.8 769.4,1050.6 770.5,1066.4 771.9,1046.1 773.6,1051.1 774.6,1021.3 776.3,1034.7 777.9,1007.5 779.7,1007.6 780.8,996.2 782.2,1003.8 783.8,990.5 784.9,1009.6 786.3,973.1 787.6,1015.1 788.6,998.8 790.1,989.1 791.2,1013.7 792.8,987 793.6,1010.7 795.3,1002.9 796.6,1034.1 797.5,1039.7 798.3,1019.9 799.7,1029.8 801,1033.1 802.5,1050.8 804,1053.6 805.6,1079.6 807.1,1069.5 808.7,1091.4 809.6,1082.1 811,1094.2 812.6,1093.9 814.2,1112.8 815.4,1096.2 816.4,1113.2 817.3,1110.5 818.2,1121.5 819.8,1091 820.7,1101.2 821.9,1126 823.7,1107.6 825.1,1111.6 826.9,1071.9 828.4,1125.6 829.7,1123.5 831.5,1103.2 832.6,1114.9 833.8,1103.7 834.9,1127.8 835.7,1115 836.9,1102.6 837.8,1122 839.6,1107.6 841.4,1116.8 842.6,1101.7 844.2,1113.6 845.7,1126.8 846.7,1093.5 848.1,1142.5 849.8,1098.4 851.1,1122.8 852.4,1113.1 854.2,1102.5 855.1,1111.9 856.8,1118.2 858,1085.6 859.3,1105.8 860.3,1127 861.9,1095.8 863.1,1124.1 864.9,1099.5 866.3,1118.4 867.6,1086.8 869.3,1137 870.6,1102 872.3,1133.1 874.1,1090.8 875,1129" fill="none" stroke="#2a2a2a" stroke-width="1.4" stroke-linejoin="round"/>
<polyline points="677,1130 678.5,1129.9 680,1129.9 681.5,1129.8 683,1129.7 684.5,1129.7 686,1129.6 687.5,1129.6 689,1129.5 690.5,1129.4 692,1129.4 693.5,1129.3 695,1129.2 696.5,1129.2 697.9,1129.1 699.4,1129.1 700.9,1129 702.4,1128.9 703.9,1128.9 705.4,1128.8 706.9,1128.8 708.4,1128.7 709.9,1128.6 711.4,1128.6 712.9,1128.5 714.4,1128.4 715.9,1128.4 717.4,1128.3 718.9,1128.3 720.4,1128.2 721.9,1128.1 723.4,1128.1 724.9,1128 726.4,1127.9 727.9,1127.9 729.4,1127.8 730.9,1127.7 732.4,1127.6 733.9,1127.5 735.4,1127.3 736.8,1127.2 738.3,1127 739.8,1126.7 741.3,1126.4 742.8,1126 744.3,1125.4 745.8,1124.7 747.3,1123.9 748.8,1122.8 750.3,1121.4 751.8,1119.7 753.3,1117.7 754.8,1115.2 756.3,1112.3 757.8,1108.8 759.3,1104.7 760.8,1100 762.3,1094.7 763.8,1088.7 765.3,1082.1 766.8,1074.9 768.3,1067.2 769.8,1059.1 771.3,1050.7 772.8,1042.1 774.3,1033.6 775.7,1025.3 777.2,1017.4 778.7,1010.2 780.2,1003.7 781.7,998.4 783.2,994.1 784.7,991.2 786.2,989.7 787.7,989.6 789.2,990.9 790.7,993.7 792.2,997.7 793.7,1003 795.2,1009.2 796.7,1016.3 798.2,1022.5 799.7,1030.7 801.2,1039.1 802.7,1047.5 804.2,1055.9 805.7,1063.9 807.2,1071.5 808.7,1078.6 810.2,1085.1 811.7,1091 813.2,1096.2 814.6,1100.9 816.1,1104.8 817.6,1108.3 819.1,1111.1 820.6,1113.5 822.1,1115.5 823.6,1117 825.1,1118.3 826.6,1119.3 828.1,1120 829.6,1120.6 831.1,1121.1 832.6,1121.4 834.1,1121.6 835.6,1121.7 837.1,1121.8 838.6,1121.9 840.1,1121.9 841.6,1121.9 843.1,1121.9 844.6,1121.9 846.1,1121.8 847.6,1121.8 849.1,1121.8 850.6,1121.7 852.1,1121.7 853.5,1121.6 855,1121.6 856.5,1121.5 858,1121.5 859.5,1121.4 861,1121.4 862.5,1121.3 864,1121.3 865.5,1121.2 867,1121.2 868.5,1121.1 870,1121.1 871.5,1121 873,1121" fill="none" stroke="#4b48a8" stroke-width="1.6" stroke-linejoin="round"/>
<polyline points="1008,203.4 1017.6,203.4 1027.1,203.4 1036.7,203.4 1046.3,203.4 1055.9,203.4 1065.4,203.4 1075,203.4" fill="none" stroke="#3a6ac8" stroke-width="1.6" stroke-linejoin="round"/>
<polyline points="1075,203.4 1084.7,203.4 1094.3,203.4 1104,203.4 1113.7,203.4 1123.3,203.4 1133,203.4 1142.7,203.4 1152.3,203.4 1162,203.4 1171.7,203.4 1181.3,203.4 1191,203.4 1200.7,203.4 1210.3,203.4 1220,203.4" fill="none" stroke="#6cc060" stroke-width="1.6" stroke-linejoin="round"/>
<polyline points="1008,196.5 1009.7,209.8 1011.2,201.4 1013.2,220.3 1014.3,202.1 1015.4,211.2 1017.4,198.5 1018.6,211 1020.7,179.2 1022.4,169.7 1024.5,205.6 1026.3,196.3 1027.3,212.7 1029.2,213.6 1031,213.8 1033.1,195.1 1034.9,219.1 1036.6,178.8 1038.8,195.9 1040.3,206.4 1041.6,194.4 1043,167.3 1045.1,181.6 1046.1,158 1047.1,178.2 1048.4,157.8 1050.6,188.6 1052.8,159.6 1053.8,198.4 1055.6,157.9 1057.6,192.2 1059.4,189.2 1060.7,170.9 1062.8,210.9 1064.2,186.8 1065.9,214 1067.4,182.6 1068.5,203.2 1070.3,174.4 1071.7,198.5 1073.8,187 1075.6,214.1 1077.6,183.5 1079.1,183.9 1080.8,173 1082,191.5 1083.9,169 1085,202 1087,160.9 1089,194.3 1091.1,167.7 1093.2,193.7 1094.4,157.6 1096.5,162.1 1097.8,191.1 1099.9,149 1102,163.2 1103.3,144.1 1104.6,124 1106.4,136.9 1108.5,100.6 1109.8,84.3 1111.7,59.6 1113.2,73.2 1115,57.6 1116.2,65.7 1117.9,86.4 1119.8,54.4 1120.8,81.7 1122.8,77.4 1124.8,29.8 1126.3,66.1 1128.1,70.4 1130.1,69.3 1131.7,57.4 1133.3,110.9 1134.6,79 1136.2,149.3 1138.3,92.7 1140.2,133.7 1142.5,112.4 1144.1,149.1 1145.9,181.4 1147.1,177.1 1149,163.3 1150.2,201.6 1151.6,171.5 1152.8,201.1 1154.3,212.7 1155.6,171.2 1156.9,197 1158.6,209.1 1160.5,192.6 1162.1,217.1 1163.6,196.6 1165.1,206.5 1167.1,215.8 1168.5,200.2 1170.5,212.4 1172.3,166.6 1173.7,217.1 1175.2,198.2 1176.8,224.4 1178.7,186.9 1180.5,209.2 1181.9,184.9 1183.2,221.8 1184.7,195.4 1186.6,202.3 1188.4,198.9 1189.8,203.5 1191.7,194.1 1192.9,201.6 1194,163.3 1196.2,196 1198.4,195 1200.5,183.8 1202,219.1 1203,214.9 1204.6,198.1 1205.6,219.3 1207.4,191.5 1209.5,219.7 1211.3,188.3 1212.9,200.8 1214.1,193.6 1215.4,232.9 1217.6,193.5 1219.6,191.9" fill="none" stroke="#2a2a2a" stroke-width="1.4" stroke-linejoin="round"/>
<polyline points="1008,203.4 1009.5,203.4 1011,203.4 1012.5,203.4 1014,203.4 1015.5,203.4 1017,203.4 1018.5,203.4 1019.9,203.4 1021.4,203.4 1022.9,203.4 1024.4,203.4 1025.9,203.4 1027.4,203.4 1028.9,203.4 1030.4,203.4 1031.9,203.4 1033.4,203.4 1034.9,203.4 1036.4,203.4 1037.9,203.4 1039.4,203.4 1040.8,203.4 1042.3,203.4 1043.8,203.4 1045.3,203.4 1046.8,203.4 1048.3,203.4 1049.8,203.3 1051.3,203.3 1052.8,203.3 1054.3,203.2 1055.8,203.1 1057.3,203 1058.8,202.9 1060.3,202.7 1061.7,202.5 1063.2,202.2 1064.7,201.8 1066.2,201.5 1067.7,201 1069.2,200.6 1070.7,200.2 1072.2,199.7 1073.7,199.3 1075.2,198.9 1076.7,198.7 1078.2,198.5 1079.7,198.4 1081.2,198.3 1082.6,198.4 1084.1,198.5 1085.6,198.5 1087.1,198.4 1088.6,198.1 1090.1,197.4 1091.6,196.1 1093.1,194 1094.6,190.9 1096.1,186.5 1097.6,180.6 1099.1,173 1100.6,163.9 1102.1,153.2 1103.5,141.2 1105,128.5 1106.5,115.6 1108,103.2 1109.5,91.9 1111,82.3 1112.5,74.6 1114,69 1115.5,65.1 1117,62.5 1118.5,61 1120,60.2 1121.5,60 1123,60.2 1124.5,60.9 1125.9,62.4 1127.4,64.9 1128.9,68.8 1130.4,74.3 1131.9,80.8 1133.4,88.1 1134.9,96.2 1136.4,105 1137.9,114.3 1139.4,124 1140.9,133.8 1142.4,143.3 1143.9,152.4 1145.4,160.9 1146.8,168.6 1148.3,175.4 1149.8,181.3 1151.3,186.3 1152.8,190.4 1154.3,193.7 1155.8,196.2 1157.3,198.2 1158.8,199.8 1160.3,200.9 1161.8,201.7 1163.3,202.2 1164.8,202.6 1166.3,202.9 1167.7,203.1 1169.2,203.2 1170.7,203.3 1172.2,203.3 1173.7,203.4 1175.2,203.4 1176.7,203.4 1178.2,203.4 1179.7,203.4 1181.2,203.4 1182.7,203.4 1184.2,203.4 1185.7,203.4 1187.2,203.4 1188.6,203.4 1190.1,203.4 1191.6,203.4 1193.1,203.4 1194.6,203.4 1196.1,203.4 1197.6,203.4 1199.1,203.4 1200.6,203.4 1202.1,203.4 1203.6,203.4 1205.1,203.4 1206.6,203.4 1208.1,203.4 1209.5,203.4 1211,203.4 1212.5,203.4 1214,203.4 1215.5,203.4 1217,203.4 1218.5,203.4 1220,203.4" fill="none" stroke="#4b48a8" stroke-width="1.8" stroke-linejoin="round"/>
<polyline points="1008,428.4 1017.6,428.4 1027.1,428.4 1036.7,428.4 1046.3,428.4 1055.9,428.4 1065.4,428.4 1075,428.4" fill="none" stroke="#3a6ac8" stroke-width="1.6" stroke-linejoin="round"/>
<polyline points="1075,428.4 1084.4,428.4 1093.9,428.4 1103.3,428.4 1112.8,428.4 1122.2,428.4 1131.7,428.4 1141.1,428.4 1150.6,428.4 1160,428.4" fill="none" stroke="#6cc060" stroke-width="1.6" stroke-linejoin="round"/>
<polyline points="1160,428.4 1168.9,428.4 1177.7,428.4 1186.6,428.4 1195.4,428.4 1204.3,428.4 1213.1,428.4 1222,428.4" fill="none" stroke="#3a6ac8" stroke-width="1.6" stroke-linejoin="round"/>
<polyline points="1008,430.3 1009.9,430.6 1011,425.6 1012,429.9 1013.6,425.2 1015.6,445.4 1016.8,408.3 1018.5,431.5 1020.2,415.9 1021.9,430.5 1023.8,419.4 1025,441.2 1026.5,434.3 1028.2,421.5 1030.1,434.2 1031.8,416.2 1033.8,426.5 1035,428.4 1036.4,416.4 1037.7,432.8 1039,396 1041.2,429.6 1042.2,399.2 1043.2,399.2 1044.9,446 1046.5,398.4 1047.6,387.7 1048.9,404.4 1051.1,389.1 1052.2,404.4 1054.2,397.1 1056.3,400.8 1057.7,378.6 1059.3,430.7 1060.4,426 1061.9,410.7 1063.8,420.4 1065.3,408.6 1066.5,429.7 1067.6,406.6 1069.7,424.5 1071,424.4 1072.6,396.1 1073.7,420.7 1075.3,411.2 1076.8,391.4 1078,413.2 1079.3,392.4 1081.4,407 1083.6,401 1084.8,411.9 1086.2,403.6 1088.2,394.4 1089.8,414.1 1091.2,395.5 1092.2,416.7 1094.3,386.2 1096.1,439.5 1098.2,405.9 1099.9,381.5 1101.1,394.2 1102.5,374 1103.5,420.8 1104.7,378 1106.8,339.2 1108.7,324.2 1110.5,343.1 1112.6,304.8 1113.7,310.7 1115,293.1 1116.6,324.6 1117.5,276.6 1118.8,290 1119.9,304.7 1121.5,278.9 1122.9,302.4 1124.9,281 1126.9,295.2 1128.7,309.8 1130.7,273.9 1132.6,291.4 1134.6,341.5 1135.7,302.9 1137.2,346.8 1138.5,342.7 1140.6,342.6 1142.1,366 1144.3,362.3 1145.6,357.1 1147.4,388 1149.1,374.8 1150.9,422.5 1152.4,391.6 1154.4,424.2 1155.8,408.2 1157.3,429.1 1159.4,416.2 1160.7,432.8 1162.5,412.9 1164.6,430.4 1165.7,409.3 1167.6,429.8 1168.8,418.5 1169.9,429.7 1171.1,423.2 1172.1,442.6 1173.1,421.1 1174.2,432 1175.7,422.2 1177.9,446.7 1179.8,452.8 1181.7,427.4 1183,442.2 1184.3,400.3 1185.6,433.5 1187.5,412.1 1189,427.2 1190.8,408.2 1192.3,407.7 1194.5,418.9 1196.1,411.3 1197.1,424.8 1198.6,413.3 1199.6,434.4 1200.6,418.7 1202,430.1 1204,410.5 1205,399.4 1206.5,440.2 1208.6,407.6 1209.8,438.4 1211.6,409 1213.4,420.9 1214.5,437.4 1216.7,391.1 1217.7,409.6 1219.5,451.2 1221,400" fill="none" stroke="#2a2a2a" stroke-width="1.4" stroke-linejoin="round"/>
<polyline points="1008,428.4 1009.5,428.4 1011,428.4 1012.5,428.4 1014,428.4 1015.5,428.4 1017,428.4 1018.5,428.4 1020,428.4 1021.5,428.4 1023,428.4 1024.5,428.4 1026,428.4 1027.5,428.4 1029,428.4 1030.4,428.4 1031.9,428.4 1033.4,428.4 1034.9,428.4 1036.4,428.4 1037.9,428.4 1039.4,428.4 1040.9,428.4 1042.4,428.4 1043.9,428.4 1045.4,428.4 1046.9,428.4 1048.4,428.4 1049.9,428.3 1051.4,428.3 1052.9,428.3 1054.4,428.2 1055.9,428.1 1057.4,428 1058.9,427.9 1060.4,427.7 1061.9,427.4 1063.4,427.1 1064.9,426.8 1066.4,426.4 1067.9,426 1069.4,425.6 1070.9,425.1 1072.3,424.7 1073.8,424.3 1075.3,423.9 1076.8,423.6 1078.3,423.5 1079.8,423.4 1081.3,423.4 1082.8,423.5 1084.3,423.6 1085.8,423.7 1087.3,423.8 1088.8,423.6 1090.3,423.2 1091.8,422.3 1093.3,420.6 1094.8,418.1 1096.3,414.4 1097.8,409.4 1099.3,402.8 1100.8,394.6 1102.3,384.8 1103.8,373.6 1105.3,361.4 1106.8,348.7 1108.3,336.2 1109.8,324.4 1111.3,314 1112.8,305.5 1114.3,299 1115.7,294.3 1117.2,291.1 1118.7,289.1 1120.2,288.1 1121.7,287.6 1123.2,287.6 1124.7,288.1 1126.2,289.1 1127.7,291.1 1129.2,294.2 1130.7,298.8 1132.2,304.9 1133.7,311.7 1135.2,319.3 1136.7,327.6 1138.2,336.6 1139.7,346 1141.2,355.6 1142.7,365.1 1144.2,374.4 1145.7,383 1147.2,391 1148.7,398.1 1150.2,404.3 1151.7,409.5 1153.2,413.9 1154.7,417.5 1156.2,420.3 1157.7,422.6 1159.1,424.2 1160.6,425.5 1162.1,426.4 1163.6,427.1 1165.1,427.5 1166.6,427.8 1168.1,428 1169.6,428.2 1171.1,428.3 1172.6,428.3 1174.1,428.3 1175.6,428.4 1177.1,428.4 1178.6,428.4 1180.1,428.4 1181.6,428.4 1183.1,428.4 1184.6,428.4 1186.1,428.4 1187.6,428.4 1189.1,428.4 1190.6,428.4 1192.1,428.4 1193.6,428.4 1195.1,428.4 1196.6,428.4 1198.1,428.4 1199.6,428.4 1201,428.4 1202.5,428.4 1204,428.4 1205.5,428.4 1207,428.4 1208.5,428.4 1210,428.4 1211.5,428.4 1213,428.4 1214.5,428.4 1216,428.4 1217.5,428.4 1219,428.4 1220.5,428.4 1222,428.4" fill="none" stroke="#4b48a8" stroke-width="1.8" stroke-linejoin="round"/>
<polyline points="1031.7,636.5 1041.1,634.8 1050.6,633.1 1060,631.4 1069.5,629.7 1078.9,628 1088.3,626.2 1097.8,624.5 1107.2,622.8 1116.7,621.1 1126.1,619.4 1135.6,617.7 1145,616" fill="none" stroke="#6cc060" stroke-width="1.6" stroke-linejoin="round"/>
<polyline points="1032,660.4 1034.3,622.5 1036.3,608.4 1038.3,631.6 1039.8,606.8 1041.8,658.2 1044,601.7 1045.3,628.7 1047,645.8 1049.1,611.1 1050.5,651.7 1052.5,601.5 1055.1,626.7 1056.6,631.4 1058.6,642.4 1061,597.1 1062.3,629.8 1064.8,617.3 1066.7,621.5 1068.1,622.3 1070.8,635.7 1073.5,609.5 1076,586.1 1077.9,636.3 1079.5,576 1081,634.8 1083.3,579.6 1084.8,612.6 1087.6,590.9 1089.8,573.6 1092.4,613.5 1094.8,573.2 1097.1,593.3 1098.3,549.6 1100,581.2 1101.2,539.8 1102.9,558.4 1104.4,542.3 1106.6,548.5 1108.6,507.7 1110.6,547.6 1112.8,551.4 1115,544.9 1117.3,551.2 1118.9,500.7 1120.5,533.6 1122.2,523.7 1124.6,562.2 1127.1,546.8 1128.7,580.9 1131.5,569.7 1133,603.7 1134.5,561.6 1137.1,632 1139.8,589.1 1141.8,612.3 1143.5,599.4 1145.4,657.3 1147.3,613.6 1149.3,647.3 1151.5,633.5 1153.5,671.8 1154.8,639.1 1156.3,647.2 1158.9,636 1161.5,645.6 1163.1,641.1 1164.4,647.6 1166.9,634.1 1169.4,653.9 1171.9,618.2 1173.8,657 1175.7,619.7 1177,662 1178.3,621.1 1179.9,649.7 1182,630.1 1183.3,684.9 1184.7,614.5 1186.8,654.4 1189.6,616 1191.5,684.9 1193.6,661.7 1195.3,634.4 1196.7,652.5 1198.5,628.6 1199.9,654.6 1201.7,664.7 1203.6,630.7 1205.2,637.7 1206.9,622.1 1208.8,663 1210.4,609 1213.1,664.8 1214.6,604.9 1216.6,642.1 1218.2,601.1 1219.5,598.6 1220.7,619.7 1223.1,606.9 1224.4,622.3 1226.4,596.6 1228.5,623.7 1231.2,613.2 1233,665.6 1234.5,605.2 1236.1,651.6 1238.9,615.5 1241.6,660.2 1242.8,645.3 1245.5,625.2 1247.7,614.5 1249.7,643.1 1251.5,620.9 1253.4,657.1 1255.2,633.2" fill="none" stroke="#2a2a2a" stroke-width="1.5" stroke-linejoin="round"/>
<polyline points="1031.7,636.5 1033.2,636.2 1034.7,635.9 1036.2,635.5 1037.7,635.2 1039.2,634.9 1040.6,634.6 1042.1,634.2 1043.6,633.9 1045.1,633.6 1046.6,633.3 1048.1,632.9 1049.6,632.6 1051.1,632.3 1052.6,632 1054.1,631.6 1055.6,631.3 1057,630.9 1058.5,630.6 1060,630.2 1061.5,629.8 1063,629.4 1064.5,628.9 1066,628.4 1067.5,627.9 1069,627.3 1070.5,626.6 1072,625.9 1073.4,625 1074.9,624 1076.4,622.8 1077.9,621.4 1079.4,619.9 1080.9,618.1 1082.4,616.1 1083.9,613.8 1085.4,611.1 1086.9,608.2 1088.3,604.9 1089.8,601.3 1091.3,597.4 1092.8,593.2 1094.3,588.6 1095.8,583.9 1097.3,578.9 1098.8,573.8 1100.3,568.6 1101.8,563.5 1103.3,558.4 1104.7,553.5 1106.2,549 1107.7,544.8 1109.2,541.1 1110.7,538 1112.2,535.5 1113.7,533.7 1115.2,532.6 1116.7,532.3 1118.2,533.2 1119.7,535.4 1121.1,538.7 1122.6,543 1124.1,548.1 1125.6,553.8 1127.1,559.8 1128.6,566 1130.1,572.1 1131.6,577.9 1133.1,583.3 1134.6,588.3 1136.1,592.7 1137.5,596.5 1139,599.7 1140.5,602.3 1142,604.4 1143.5,606.1 1145,607.4" fill="none" stroke="#4b48a8" stroke-width="1.8" stroke-linejoin="round"/>
<polyline points="1145,612 1257.3,595.5 1257.3,677.5" fill="none" stroke="#3a5ab8" stroke-width="1.8"/>
<polyline points="997,904.3 1006.6,903.8 1016.2,903.3 1025.9,902.8 1035.5,902.3 1045.1,901.9 1054.8,901.4 1064.4,900.9 1074,900.4 1083.6,899.9 1093.2,899.4 1102.9,898.9 1112.5,898.5 1122.1,898 1131.8,897.5 1141.4,897 1151,896.5 1160.6,896 1170.2,895.5 1179.9,895 1189.5,894.6 1199.1,894.1 1208.8,893.6 1218.4,893.1 1228,892.6" fill="none" stroke="#6cc060" stroke-width="1.6" stroke-linejoin="round"/>
<polyline points="997,904.3 1004.7,903.9 1012.3,903.5 1020,903.1" fill="none" stroke="#3a8ac8" stroke-width="1.6" stroke-linejoin="round"/>
<polyline points="997,908.9 998,869.5 999.9,895 1001.6,876.5 1002.8,895.5 1004.2,881 1006,895 1007.1,863.4 1008.4,893.5 1010.2,885 1011.6,904.2 1012.8,881.5 1014.9,887.3 1016.8,881.8 1017.8,889.3 1019.3,874.3 1020.8,894.9 1022.6,872.4 1024.2,873.6 1026,896.7 1027.3,894.3 1029.5,891.3 1031.4,889.9 1033,882.9 1034,874.3 1036.2,885 1037.8,853.1 1039.4,878.2 1041.1,900.8 1042.2,889.1 1044.3,878.5 1046,880.1 1047.7,887.3 1048.7,892.8 1050.3,870.2 1051.9,885.6 1053.8,866 1055.8,883.1 1056.8,864.2 1058,917.1 1059.4,874.6 1061.5,887.6 1062.8,872.3 1064.5,887.9 1065.5,865.1 1067.7,879 1069.5,894.5 1071.7,856.3 1072.8,880.6 1075,843.3 1076.7,860.6 1078.3,867.5 1079.4,855.7 1081.4,857.2 1083.6,841.7 1084.8,852.8 1086.4,846 1088.6,849.6 1090.2,835.2 1091.4,851.6 1092.7,841.7 1093.7,860.9 1095.6,836.7 1097,853.2 1098.4,837.4 1100,851.2 1102.1,830.5 1103.9,835.3 1105,827.8 1106.2,806.5 1107.5,822.6 1109.4,812.2 1111.6,782.8 1113.5,793 1115.2,771.3 1116.6,777.6 1118,756.4 1119.5,772.9 1121,745.8 1122.6,751.8 1123.9,743.6 1125.8,764 1127.9,736.8 1129.4,766.8 1130.6,726.7 1132.1,751.1 1133.1,738.2 1134.5,765.2 1136,741 1138.2,747.7 1140,800.8 1141.1,770.9 1143,792.7 1144.7,794.2 1146.9,819.4 1149,812 1150.7,838 1152.6,808.6 1154.5,845 1156,829.6 1157.6,848.6 1159,847.9 1161.1,869 1162.1,847.6 1163.4,868.8 1164.4,859.6 1166.1,875.5 1167.3,861.9 1169.1,875.4 1171,856.7 1172.6,855.1 1174.7,845 1176.1,889.2 1178.1,880.5 1179.4,861.7 1180.6,877 1182.7,873.5 1184.3,879.9 1185.5,878.3 1186.8,865.6 1188.4,888.5 1189.5,857.6 1191.1,881.9 1192.5,856.6 1194.4,890.5 1196.1,871.3 1197.8,879.3 1199.1,853.3 1200.2,872.8 1202.2,883.8 1204.3,890.1 1206.5,869.4 1207.8,879.8 1208.9,869.4 1209.9,882.4 1211.6,875 1213.6,891.8 1215.1,868.8 1217.1,885.9 1218.9,872.2 1220.3,877.4 1222.2,865.2 1224.4,886.3 1225.5,866.7 1227,885" fill="none" stroke="#2a2a2a" stroke-width="1.4" stroke-linejoin="round"/>
<polyline points="997,904.3 998.5,904.2 1000,904.1 1001.5,904.1 1003,904 1004.5,903.9 1006,903.8 1007.5,903.8 1009,903.7 1010.5,903.6 1012,903.5 1013.5,903.4 1015,903.4 1016.5,903.3 1018,903.2 1019.5,903.1 1021,903 1022.5,902.9 1024,902.9 1025.5,902.8 1027,902.7 1028.5,902.6 1030,902.4 1031.5,902.3 1033,902.2 1034.5,902.1 1036,901.9 1037.5,901.8 1039,901.6 1040.5,901.4 1042,901.2 1043.5,900.9 1045,900.6 1046.5,900.3 1048,899.9 1049.5,899.5 1051,899.1 1052.5,898.6 1054,898 1055.5,897.3 1057,896.6 1058.5,895.7 1060,894.8 1061.5,893.7 1063,892.6 1064.5,891.3 1066,889.8 1067.5,888.3 1069,886.5 1070.5,884.6 1072,882.5 1073.5,880.2 1075,877.7 1076.5,875.1 1078,872.2 1079.5,869.1 1081,865.9 1082.5,862.4 1084,858.7 1085.5,854.9 1087,850.8 1088.5,846.7 1090,842.3 1091.5,837.8 1093,833.3 1094.5,828.6 1096,823.9 1097.5,819.1 1099,814.4 1100.5,809.7 1102,805.1 1103.5,800.5 1105,796.2 1106.5,792 1108,788 1109.5,784.3 1111,780.8 1112.5,777.7 1114,774.9 1115.5,772.6 1117,770.6 1118.5,769 1120,767.9 1121.5,767.2 1123,766.9 1124.5,767.2 1126,767.9 1127.5,769.2 1129,770.9 1130.5,773.1 1132,775.7 1133.5,778.8 1135,782.2 1136.5,785.9 1138,790 1139.5,794.3 1141,798.7 1142.5,803.4 1144,808.2 1145.5,813 1147,817.9 1148.5,822.8 1150,827.6 1151.5,832.4 1153,837.1 1154.5,841.6 1156,845.9 1157.5,850.1 1159,854.1 1160.5,857.9 1162,861.4 1163.5,864.8 1165,867.9 1166.5,870.8 1168,873.4 1169.5,875.8 1171,878.1 1172.5,880.1 1174,881.9 1175.5,883.5 1177,885 1178.5,886.3 1180,887.4 1181.5,888.4 1183,889.3 1184.5,890 1186,890.7 1187.5,891.2 1189,891.7 1190.5,892.1 1192,892.4 1193.5,892.6 1195,892.9 1196.5,893 1198,893.2 1199.5,893.3 1201,893.3 1202.5,893.4 1204,893.4 1205.5,893.4 1207,893.4 1208.5,893.4 1210,893.3 1211.5,893.3 1213,893.3 1214.5,893.2 1216,893.2 1217.5,893.1 1219,893 1220.5,893 1222,892.9 1223.5,892.8 1225,892.8 1226.5,892.7 1228,892.6" fill="none" stroke="#4b48a8" stroke-width="1.6" stroke-linejoin="round"/>
<line x1="107.5" y1="119" x2="107.5" y2="1188" stroke="#333" stroke-width="1.45" stroke-dasharray="6.5,4.2"/>
<line x1="132.5" y1="119" x2="132.5" y2="1188" stroke="#333" stroke-width="1.45" stroke-dasharray="6.5,4.2"/>
<line x1="166" y1="108" x2="166" y2="1188" stroke="#333" stroke-width="1.45" stroke-dasharray="6.5,4.2"/>
<line x1="188" y1="108" x2="188" y2="1188" stroke="#333" stroke-width="1.45" stroke-dasharray="6.5,4.2"/>
<line x1="223" y1="12" x2="223" y2="1207" stroke="#333" stroke-width="1.45" stroke-dasharray="6.5,4.2"/>
<line x1="460" y1="7" x2="445" y2="1172" stroke="#333" stroke-width="1.45" stroke-dasharray="6.5,4.2"/>
<line x1="503" y1="17" x2="503" y2="1199" stroke="#333" stroke-width="1.45" stroke-dasharray="6.5,4.2"/>
<line x1="783" y1="0" x2="782.5" y2="1200" stroke="#333" stroke-width="1.45" stroke-dasharray="6.5,4.2"/>
<line x1="814" y1="0" x2="807" y2="1170" stroke="#333" stroke-width="1.45" stroke-dasharray="6.5,4.2"/>
<line x1="1124" y1="95" x2="1130" y2="925" stroke="#333" stroke-width="1.45" stroke-dasharray="6.5,4.2"/>
<text x="55.2" y="30.5" font-size="18" font-weight="bold" fill="#3a3a3a" text-anchor="start" textLength="31.9" lengthAdjust="spacingAndGlyphs">C1s</text>
<text x="361.7" y="27" font-size="17.5" font-weight="bold" fill="#3a3a3a" text-anchor="start" textLength="32.3" lengthAdjust="spacingAndGlyphs">F1S</text>
<text x="710.8" y="32" font-size="18.5" font-weight="bold" fill="#3a3a3a" text-anchor="start" textLength="36.8" lengthAdjust="spacingAndGlyphs">O1s</text>
<text x="1071" y="26.1" font-size="17.5" font-weight="bold" fill="#3a3a3a" text-anchor="start" textLength="35" lengthAdjust="spacingAndGlyphs">P2p</text>
<text x="171" y="36.6" font-size="14" font-weight="normal" fill="#3a3a3a" text-anchor="start" textLength="23.4" lengthAdjust="spacingAndGlyphs">C-H</text>
<text x="250.2" y="30.5" font-size="17.5" font-weight="normal" fill="#3a3a3a" text-anchor="start" textLength="25.4" lengthAdjust="spacingAndGlyphs">C-C</text>
<text x="137.1" y="62" font-size="15.4" font-weight="normal" fill="#3a3a3a" text-anchor="start" textLength="25.4" lengthAdjust="spacingAndGlyphs">C-O</text>
<text x="110" y="93.8" font-size="14.4" font-weight="normal" fill="#3a3a3a" text-anchor="start" textLength="30" lengthAdjust="spacingAndGlyphs">C=O</text>
<text x="56.3" y="135" font-size="16.5" font-weight="normal" fill="#3a3a3a" text-anchor="start" textLength="23.3" lengthAdjust="spacingAndGlyphs">C-F</text>
<text x="376" y="77.6" font-size="16.5" font-weight="normal" fill="#3a3a3a" text-anchor="start" textLength="38.7" lengthAdjust="spacingAndGlyphs">PVDF</text>
<text x="535" y="62.9" font-size="17.3" font-weight="normal" fill="#3a3a3a" text-anchor="start" textLength="23.4" lengthAdjust="spacingAndGlyphs">LiF</text>
<text x="857" y="41" font-size="18.5" font-weight="normal" fill="#3a3a3a" text-anchor="start" textLength="14" lengthAdjust="spacingAndGlyphs">Li</text>
<text x="871" y="44" font-size="11" font-weight="normal" fill="#3a3a3a" text-anchor="start">2</text>
<text x="877.5" y="41" font-size="18.5" font-weight="normal" fill="#3a3a3a" text-anchor="start" textLength="27" lengthAdjust="spacingAndGlyphs">CO</text>
<text x="905" y="44" font-size="11" font-weight="normal" fill="#3a3a3a" text-anchor="start">3</text>
<text x="1171" y="26.9" font-size="18" font-weight="normal" fill="#3a3a3a" text-anchor="start" textLength="13" lengthAdjust="spacingAndGlyphs">Li</text>
<text x="1184" y="29.5" font-size="9" font-weight="normal" fill="#3a3a3a" text-anchor="start">x</text>
<text x="1189" y="26.9" font-size="18" font-weight="normal" fill="#3a3a3a" text-anchor="start" textLength="28" lengthAdjust="spacingAndGlyphs">PO</text>
<text x="1217.5" y="30.5" font-size="9" font-weight="normal" fill="#3a3a3a" text-anchor="start">y</text>
<text x="1222.5" y="26.9" font-size="18" font-weight="normal" fill="#3a3a3a" text-anchor="start" textLength="10" lengthAdjust="spacingAndGlyphs">F</text>
<text x="1233" y="29.5" font-size="9" font-weight="normal" fill="#3a3a3a" text-anchor="start">z</text>
<text x="15.6" y="175.5" font-size="20" font-weight="bold" fill="#3a3a3a" text-anchor="start">e</text>
<path d="M14.6 179.0 q1.75 3 3.5 0 t3.5 0 t3.5 0" fill="none" stroke="#7b7" stroke-width="1.2"/>
<text x="16" y="396" font-size="20" font-weight="bold" fill="#3a3a3a" text-anchor="start">d</text>
<path d="M15 399.5 q1.75 3 3.5 0 t3.5 0 t3.5 0" fill="none" stroke="#7b7" stroke-width="1.2"/>
<text x="20" y="588.5" font-size="20" font-weight="bold" fill="#3a3a3a" text-anchor="start">c</text>
<path d="M19 592.0 q1.75 3 3.5 0 t3.5 0 t3.5 0" fill="none" stroke="#7b7" stroke-width="1.2"/>
<text x="17.5" y="852" font-size="20" font-weight="bold" fill="#3a3a3a" text-anchor="start">b</text>
<path d="M16.5 855.5 q1.75 3 3.5 0 t3.5 0 t3.5 0" fill="none" stroke="#7b7" stroke-width="1.2"/>
<text x="10" y="1116" font-size="20" font-weight="bold" fill="#3a3a3a" text-anchor="start">a</text>
<path d="M9 1119.5 q1.75 3 3.5 0 t3.5 0 t3.5 0" fill="none" stroke="#7b7" stroke-width="1.2"/>
<text x="50" y="1196.7" font-size="16.5" font-weight="normal" fill="#4a4a4a" text-anchor="middle" textLength="30.6" lengthAdjust="spacingAndGlyphs">294</text>
<text x="83.7" y="1196.7" font-size="16.5" font-weight="normal" fill="#4a4a4a" text-anchor="middle" textLength="30.6" lengthAdjust="spacingAndGlyphs">292</text>
<text x="117.4" y="1196.7" font-size="16.5" font-weight="normal" fill="#4a4a4a" text-anchor="middle" textLength="30.6" lengthAdjust="spacingAndGlyphs">290</text>
<text x="151.1" y="1196.7" font-size="16.5" font-weight="normal" fill="#4a4a4a" text-anchor="middle" textLength="30.6" lengthAdjust="spacingAndGlyphs">288</text>
<text x="184.8" y="1196.7" font-size="16.5" font-weight="normal" fill="#4a4a4a" text-anchor="middle" textLength="30.6" lengthAdjust="spacingAndGlyphs">286</text>
<text x="218.5" y="1196.7" font-size="16.5" font-weight="normal" fill="#4a4a4a" text-anchor="middle" textLength="30.6" lengthAdjust="spacingAndGlyphs">284</text>
<text x="252.2" y="1196.7" font-size="16.5" font-weight="normal" fill="#4a4a4a" text-anchor="middle" textLength="30.6" lengthAdjust="spacingAndGlyphs">282</text>
<text x="285.9" y="1196.7" font-size="16.5" font-weight="normal" fill="#4a4a4a" text-anchor="middle" textLength="30.6" lengthAdjust="spacingAndGlyphs">280</text>
<text x="339.5" y="1192.5" font-size="12.5" font-weight="normal" fill="#555" text-anchor="middle" textLength="26" lengthAdjust="spacingAndGlyphs">696</text>
<text x="365.9" y="1192.5" font-size="12.5" font-weight="normal" fill="#555" text-anchor="middle" textLength="26" lengthAdjust="spacingAndGlyphs">694</text>
<text x="392.4" y="1192.5" font-size="12.5" font-weight="normal" fill="#555" text-anchor="middle" textLength="26" lengthAdjust="spacingAndGlyphs">692</text>
<text x="418.9" y="1192.5" font-size="12.5" font-weight="normal" fill="#555" text-anchor="middle" textLength="26" lengthAdjust="spacingAndGlyphs">690</text>
<text x="445.3" y="1192.5" font-size="12.5" font-weight="normal" fill="#555" text-anchor="middle" textLength="26" lengthAdjust="spacingAndGlyphs">688</text>
<text x="471.8" y="1192.5" font-size="12.5" font-weight="normal" fill="#555" text-anchor="middle" textLength="26" lengthAdjust="spacingAndGlyphs">686</text>
<text x="498.2" y="1192.5" font-size="12.5" font-weight="normal" fill="#555" text-anchor="middle" textLength="26" lengthAdjust="spacingAndGlyphs">684</text>
<text x="524.6" y="1192.5" font-size="12.5" font-weight="normal" fill="#555" text-anchor="middle" textLength="26" lengthAdjust="spacingAndGlyphs">682</text>
<text x="551.1" y="1192.5" font-size="12.5" font-weight="normal" fill="#555" text-anchor="middle" textLength="26" lengthAdjust="spacingAndGlyphs">680</text>
<text x="577.5" y="1192.5" font-size="12.5" font-weight="normal" fill="#555" text-anchor="middle" textLength="26" lengthAdjust="spacingAndGlyphs">678</text>
<text x="674" y="1192.5" font-size="15.5" font-weight="normal" fill="#555" text-anchor="middle" textLength="29.5" lengthAdjust="spacingAndGlyphs">540</text>
<text x="704" y="1192.5" font-size="15.5" font-weight="normal" fill="#555" text-anchor="middle" textLength="29.5" lengthAdjust="spacingAndGlyphs">538</text>
<text x="734.1" y="1192.5" font-size="15.5" font-weight="normal" fill="#555" text-anchor="middle" textLength="29.5" lengthAdjust="spacingAndGlyphs">536</text>
<text x="764.1" y="1192.5" font-size="15.5" font-weight="normal" fill="#555" text-anchor="middle" textLength="29.5" lengthAdjust="spacingAndGlyphs">534</text>
<text x="794.2" y="1192.5" font-size="15.5" font-weight="normal" fill="#555" text-anchor="middle" textLength="29.5" lengthAdjust="spacingAndGlyphs">532</text>
<text x="824.2" y="1192.5" font-size="15.5" font-weight="normal" fill="#555" text-anchor="middle" textLength="29.5" lengthAdjust="spacingAndGlyphs">530</text>
<text x="854.3" y="1192.5" font-size="15.5" font-weight="normal" fill="#555" text-anchor="middle" textLength="29.5" lengthAdjust="spacingAndGlyphs">528</text>
<text x="884.4" y="1192.5" font-size="15.5" font-weight="normal" fill="#555" text-anchor="middle" textLength="29.5" lengthAdjust="spacingAndGlyphs">526</text>
<text x="914.4" y="1192.5" font-size="15.5" font-weight="normal" fill="#555" text-anchor="middle" textLength="29.5" lengthAdjust="spacingAndGlyphs">524</text>
<text x="1039" y="949" font-size="12.5" font-weight="normal" fill="#555" text-anchor="middle" textLength="20" lengthAdjust="spacingAndGlyphs">140</text>
<text x="1109.7" y="949" font-size="12.5" font-weight="normal" fill="#555" text-anchor="middle" textLength="20" lengthAdjust="spacingAndGlyphs">135</text>
<text x="1180.4" y="949" font-size="12.5" font-weight="normal" fill="#555" text-anchor="middle" textLength="20" lengthAdjust="spacingAndGlyphs">130</text>
<text x="1251.1" y="949" font-size="12.5" font-weight="normal" fill="#555" text-anchor="middle" textLength="20" lengthAdjust="spacingAndGlyphs">125</text>
<text x="87.3" y="1226.5" font-size="16.5" font-weight="bold" fill="#3a3a3a" text-anchor="start" textLength="183.3" lengthAdjust="spacingAndGlyphs">Binding Energy (eV)</text>
<text x="373.8" y="1218.8" font-size="16" font-weight="bold" fill="#3a3a3a" text-anchor="start" textLength="182.5" lengthAdjust="spacingAndGlyphs">Binding Energy (eV)</text>
<text x="707.5" y="1220" font-size="16" font-weight="bold" fill="#3a3a3a" text-anchor="start" textLength="183.75" lengthAdjust="spacingAndGlyphs">Binding Energy (eV)</text>
<text x="1033.8" y="977.5" font-size="16" font-weight="bold" fill="#4a4a4a" text-anchor="start" textLength="172.5" lengthAdjust="spacingAndGlyphs">Binding Energy (eV)</text>
</g>
</svg></body></html>
